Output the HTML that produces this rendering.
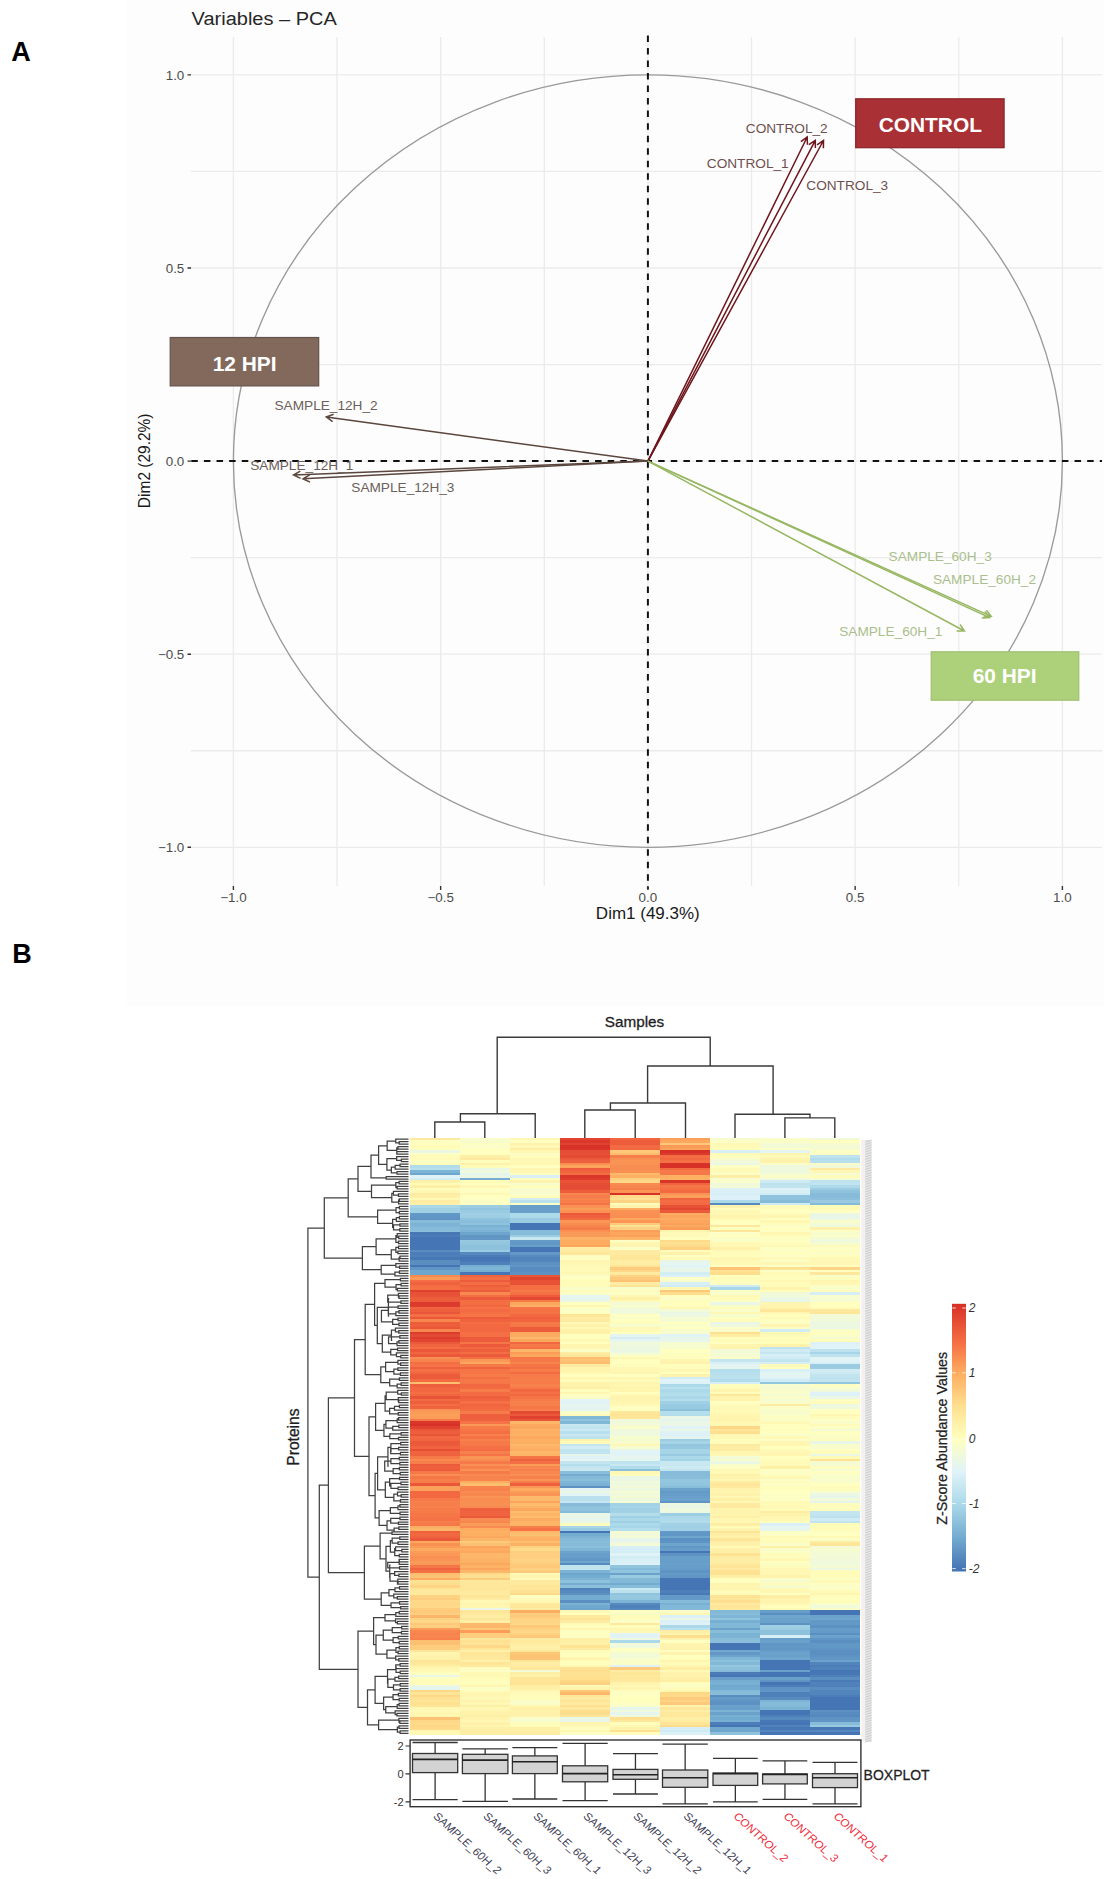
<!DOCTYPE html>
<html><head><meta charset="utf-8"><style>html,body{margin:0;padding:0;background:#fff;overflow:hidden;font-family:"Liberation Sans",sans-serif;}svg{display:block;}</style></head><body>
<svg width="1104" height="1879" viewBox="0 0 1104 1879" font-family="&quot;Liberation Sans&quot;, sans-serif">
<rect x="0" y="0" width="1104" height="1879" fill="#ffffff"/>
<rect x="127" y="0" width="977" height="1006" fill="#fdfdfd"/>
<text x="11.3" y="61.2" font-size="27" font-weight="bold" fill="#000">A</text>
<text x="12.3" y="962.6" font-size="27" font-weight="bold" fill="#000">B</text>
<path d="M233.4 37V886 M337.02 37V886 M440.65 37V886 M544.27 37V886 M647.9 37V886 M751.52 37V886 M855.15 37V886 M958.77 37V886 M1062.4 37V886 M191 847.3H1102 M191 750.75H1102 M191 654.2H1102 M191 557.65H1102 M191 461.1H1102 M191 364.55H1102 M191 268H1102 M191 171.45H1102 M191 74.9H1102" stroke="#ebebeb" stroke-width="1.3" fill="none"/>
<ellipse cx="647.9" cy="461.1" rx="414.5" ry="386.2" fill="none" stroke="#9a9a9a" stroke-width="1.35"/>
<path d="M186 461.1H1102" stroke="#111" stroke-width="2" stroke-dasharray="6.5 6.118" stroke-dashoffset="7.32" fill="none"/>
<path d="M647.9 35.5V889" stroke="#111" stroke-width="2" stroke-dasharray="6.5 6.02" fill="none"/>
<path d="M187.5 847.3H191 M233.4 886V890 M187.5 654.2H191 M440.65 886V890 M187.5 461.1H191 M647.9 886V890 M187.5 268H191 M855.15 886V890 M187.5 74.9H191 M1062.4 886V890" stroke="#333" stroke-width="1.4" fill="none"/>
<text transform="translate(184.3,79.5) scale(1,0.93)" font-size="13.4" fill="#4d4d4d" font-weight="normal" text-anchor="end" >1.0</text>
<text transform="translate(1062.4,902) scale(1,0.93)" font-size="13.4" fill="#4d4d4d" font-weight="normal" text-anchor="middle" >1.0</text>
<text transform="translate(184.3,272.6) scale(1,0.93)" font-size="13.4" fill="#4d4d4d" font-weight="normal" text-anchor="end" >0.5</text>
<text transform="translate(855.15,902) scale(1,0.93)" font-size="13.4" fill="#4d4d4d" font-weight="normal" text-anchor="middle" >0.5</text>
<text transform="translate(184.3,465.7) scale(1,0.93)" font-size="13.4" fill="#4d4d4d" font-weight="normal" text-anchor="end" >0.0</text>
<text transform="translate(647.9,902) scale(1,0.93)" font-size="13.4" fill="#4d4d4d" font-weight="normal" text-anchor="middle" >0.0</text>
<text transform="translate(184.3,658.8) scale(1,0.93)" font-size="13.4" fill="#4d4d4d" font-weight="normal" text-anchor="end" >−0.5</text>
<text transform="translate(440.65,902) scale(1,0.93)" font-size="13.4" fill="#4d4d4d" font-weight="normal" text-anchor="middle" >−0.5</text>
<text transform="translate(184.3,851.9) scale(1,0.93)" font-size="13.4" fill="#4d4d4d" font-weight="normal" text-anchor="end" >−1.0</text>
<text transform="translate(233.4,902) scale(1,0.93)" font-size="13.4" fill="#4d4d4d" font-weight="normal" text-anchor="middle" >−1.0</text>
<text transform="translate(191.6,24.6) scale(1,0.93)" font-size="20.0" fill="#262626" font-weight="normal" text-anchor="start" >Variables – PCA</text>
<text transform="translate(647.8,918.8) scale(1,0.93)" font-size="17.0" fill="#1a1a1a" font-weight="normal" text-anchor="middle" >Dim1 (49.3%)</text>
<text transform="translate(149.6,460.8) scale(1,0.93) rotate(-90)" font-size="16.66" fill="#1a1a1a" text-anchor="middle">Dim2 (29.2%)</text>
<path d="M647.9 461.1L807.2 137M800.88 141.57L807.2 137L807.45 144.8" stroke="#6e161c" stroke-width="1.5" fill="none" stroke-linejoin="miter"/>
<path d="M647.9 461.1L815.3 140.3M808.87 144.71L815.3 140.3L815.36 148.1" stroke="#6e161c" stroke-width="1.5" fill="none" stroke-linejoin="miter"/>
<path d="M647.9 461.1L823.5 140.5M816.98 144.78L823.5 140.5L823.4 148.3" stroke="#6e161c" stroke-width="1.5" fill="none" stroke-linejoin="miter"/>
<path d="M647.9 461.1L326.3 417M332.63 421.56L326.3 417L333.62 414.31" stroke="#5a463d" stroke-width="1.5" fill="none" stroke-linejoin="miter"/>
<path d="M647.9 461.1L293.5 475M300.53 478.39L293.5 475L300.24 471.07" stroke="#5a463d" stroke-width="1.5" fill="none" stroke-linejoin="miter"/>
<path d="M647.9 461.1L303 478.8M310.07 482.1L303 478.8L309.69 474.79" stroke="#5a463d" stroke-width="1.5" fill="none" stroke-linejoin="miter"/>
<path d="M647.9 461.1L991.2 616.4M986.43 610.23L991.2 616.4L983.42 616.9" stroke="#97b762" stroke-width="1.5" fill="none" stroke-linejoin="miter"/>
<path d="M647.9 461.1L989.6 617.6M984.86 611.4L989.6 617.6L981.81 618.06" stroke="#97b762" stroke-width="1.5" fill="none" stroke-linejoin="miter"/>
<path d="M647.9 461.1L964.4 631M960.06 624.52L964.4 631L956.6 630.97" stroke="#97b762" stroke-width="1.5" fill="none" stroke-linejoin="miter"/>
<text transform="translate(745.8,133.2) scale(1,0.93)" font-size="13.65" fill="#6e4f4f" font-weight="normal" text-anchor="start" >CONTROL_2</text>
<text transform="translate(706.8,168) scale(1,0.93)" font-size="13.65" fill="#6e4f4f" font-weight="normal" text-anchor="start" >CONTROL_1</text>
<text transform="translate(806.3,189.6) scale(1,0.93)" font-size="13.65" fill="#6e4f4f" font-weight="normal" text-anchor="start" >CONTROL_3</text>
<text transform="translate(274.5,410.2) scale(1,0.93)" font-size="13.65" fill="#6b605a" font-weight="normal" text-anchor="start" >SAMPLE_12H_2</text>
<text transform="translate(250.2,470.4) scale(1,0.93)" font-size="13.65" fill="#6b605a" font-weight="normal" text-anchor="start" >SAMPLE_12H_1</text>
<text transform="translate(351.3,492) scale(1,0.93)" font-size="13.65" fill="#6b605a" font-weight="normal" text-anchor="start" >SAMPLE_12H_3</text>
<text transform="translate(888.6,560.6) scale(1,0.93)" font-size="13.65" fill="#aabf8c" font-weight="normal" text-anchor="start" >SAMPLE_60H_3</text>
<text transform="translate(932.9,584) scale(1,0.93)" font-size="13.65" fill="#aabf8c" font-weight="normal" text-anchor="start" >SAMPLE_60H_2</text>
<text transform="translate(839.2,636.2) scale(1,0.93)" font-size="13.65" fill="#aabf8c" font-weight="normal" text-anchor="start" >SAMPLE_60H_1</text>
<rect x="855.7" y="98.8" width="148.4" height="48.9" fill="#a93035" stroke="#8a2226" stroke-width="1.2"/>
<text transform="translate(930.3,131.8) scale(1,0.93)" font-size="20.9" fill="#ffffff" font-weight="bold" text-anchor="middle" >CONTROL</text>
<rect x="170.2" y="337.5" width="148.5" height="48.4" fill="#82695c" stroke="#62544d" stroke-width="1.2"/>
<text transform="translate(244.6,370.7) scale(1,0.93)" font-size="20.9" fill="#ffffff" font-weight="bold" text-anchor="middle" >12 HPI</text>
<rect x="931.2" y="651.8" width="147.6" height="48.4" fill="#add07b" stroke="#a0c070" stroke-width="1.2"/>
<text transform="translate(1004.6,683.1) scale(1,0.93)" font-size="20.9" fill="#ffffff" font-weight="bold" text-anchor="middle" >60 HPI</text>
<g shape-rendering="crispEdges"><rect x="409.5" y="1138" width="50.33" height="2.79" fill="#feea9f"/><rect x="459.53" y="1138" width="50.33" height="2.79" fill="#fafdc9"/><rect x="509.57" y="1138" width="50.33" height="2.79" fill="#fff7b3"/><rect x="559.6" y="1138" width="50.33" height="2.79" fill="#e04330"/><rect x="609.63" y="1138" width="50.33" height="2.79" fill="#f16640"/><rect x="659.67" y="1138" width="50.33" height="2.79" fill="#fba05b"/><rect x="709.7" y="1138" width="50.33" height="2.79" fill="#f8fccc"/><rect x="759.73" y="1138" width="50.33" height="2.79" fill="#f9fdca"/><rect x="809.77" y="1138" width="50.33" height="2.79" fill="#f2fad7"/><rect x="409.5" y="1140.49" width="50.33" height="2.79" fill="#feffc1"/><rect x="459.53" y="1140.49" width="50.33" height="2.79" fill="#f8fccb"/><rect x="509.57" y="1140.49" width="50.33" height="2.79" fill="#ffffc0"/><rect x="559.6" y="1140.49" width="50.33" height="2.79" fill="#db382b"/><rect x="609.63" y="1140.49" width="50.33" height="2.79" fill="#ed5d3c"/><rect x="659.67" y="1140.49" width="50.33" height="2.79" fill="#fca85e"/><rect x="709.7" y="1140.49" width="50.33" height="2.79" fill="#fbfdc7"/><rect x="759.73" y="1140.49" width="50.33" height="2.79" fill="#fbfdc7"/><rect x="809.77" y="1140.49" width="50.33" height="2.79" fill="#ffffbe"/><rect x="409.5" y="1142.97" width="50.33" height="2.79" fill="#fffebe"/><rect x="459.53" y="1142.97" width="50.33" height="2.79" fill="#fdfec2"/><rect x="509.57" y="1142.97" width="50.33" height="2.79" fill="#fff2ac"/><rect x="559.6" y="1142.97" width="50.33" height="2.79" fill="#e04330"/><rect x="609.63" y="1142.97" width="50.33" height="2.79" fill="#ec5c3b"/><rect x="659.67" y="1142.97" width="50.33" height="2.79" fill="#fec779"/><rect x="709.7" y="1142.97" width="50.33" height="2.79" fill="#fff9b5"/><rect x="759.73" y="1142.97" width="50.33" height="2.79" fill="#f3fad5"/><rect x="809.77" y="1142.97" width="50.33" height="2.79" fill="#f6fbd0"/><rect x="409.5" y="1145.46" width="50.33" height="2.79" fill="#fffbb8"/><rect x="459.53" y="1145.46" width="50.33" height="2.79" fill="#fafdc8"/><rect x="509.57" y="1145.46" width="50.33" height="2.79" fill="#fff8b5"/><rect x="559.6" y="1145.46" width="50.33" height="2.79" fill="#d83228"/><rect x="609.63" y="1145.46" width="50.33" height="2.79" fill="#f36b42"/><rect x="659.67" y="1145.46" width="50.33" height="2.79" fill="#fa9a58"/><rect x="709.7" y="1145.46" width="50.33" height="2.79" fill="#fffab7"/><rect x="759.73" y="1145.46" width="50.33" height="2.79" fill="#f2fad6"/><rect x="809.77" y="1145.46" width="50.33" height="2.79" fill="#f4fbd2"/><rect x="409.5" y="1147.94" width="50.33" height="2.79" fill="#fffdbb"/><rect x="459.53" y="1147.94" width="50.33" height="2.79" fill="#fefec1"/><rect x="509.57" y="1147.94" width="50.33" height="2.79" fill="#feeda4"/><rect x="559.6" y="1147.94" width="50.33" height="2.79" fill="#d93429"/><rect x="609.63" y="1147.94" width="50.33" height="2.79" fill="#f26841"/><rect x="659.67" y="1147.94" width="50.33" height="2.79" fill="#fba25b"/><rect x="709.7" y="1147.94" width="50.33" height="2.79" fill="#fffbb9"/><rect x="759.73" y="1147.94" width="50.33" height="2.79" fill="#fcfec5"/><rect x="809.77" y="1147.94" width="50.33" height="2.79" fill="#f5fbd1"/><rect x="409.5" y="1150.43" width="50.33" height="2.79" fill="#eaf7e5"/><rect x="459.53" y="1150.43" width="50.33" height="2.79" fill="#ffffbf"/><rect x="509.57" y="1150.43" width="50.33" height="2.79" fill="#fff7b2"/><rect x="559.6" y="1150.43" width="50.33" height="2.79" fill="#e54e35"/><rect x="609.63" y="1150.43" width="50.33" height="2.79" fill="#fec779"/><rect x="659.67" y="1150.43" width="50.33" height="2.79" fill="#d73027"/><rect x="709.7" y="1150.43" width="50.33" height="2.79" fill="#d8eff6"/><rect x="759.73" y="1150.43" width="50.33" height="2.79" fill="#e3f4f2"/><rect x="809.77" y="1150.43" width="50.33" height="2.79" fill="#fdfec3"/><rect x="409.5" y="1152.91" width="50.33" height="2.79" fill="#fdfec4"/><rect x="459.53" y="1152.91" width="50.33" height="2.79" fill="#ffffc0"/><rect x="509.57" y="1152.91" width="50.33" height="2.79" fill="#fbfdc7"/><rect x="559.6" y="1152.91" width="50.33" height="2.79" fill="#e65036"/><rect x="609.63" y="1152.91" width="50.33" height="2.79" fill="#fdbc6e"/><rect x="659.67" y="1152.91" width="50.33" height="2.79" fill="#dc3a2c"/><rect x="709.7" y="1152.91" width="50.33" height="2.79" fill="#fffab7"/><rect x="759.73" y="1152.91" width="50.33" height="2.79" fill="#fff6b2"/><rect x="809.77" y="1152.91" width="50.33" height="2.79" fill="#fcfec5"/><rect x="409.5" y="1155.4" width="50.33" height="2.79" fill="#fffbb9"/><rect x="459.53" y="1155.4" width="50.33" height="2.79" fill="#feefa7"/><rect x="509.57" y="1155.4" width="50.33" height="2.79" fill="#fffdbc"/><rect x="559.6" y="1155.4" width="50.33" height="2.79" fill="#e44b33"/><rect x="609.63" y="1155.4" width="50.33" height="2.79" fill="#f67e4b"/><rect x="659.67" y="1155.4" width="50.33" height="2.79" fill="#f46e43"/><rect x="709.7" y="1155.4" width="50.33" height="2.79" fill="#fffdbc"/><rect x="759.73" y="1155.4" width="50.33" height="2.79" fill="#fffab7"/><rect x="809.77" y="1155.4" width="50.33" height="2.79" fill="#bee2ee"/><rect x="409.5" y="1157.88" width="50.33" height="2.79" fill="#fffab8"/><rect x="459.53" y="1157.88" width="50.33" height="2.79" fill="#fee99e"/><rect x="509.57" y="1157.88" width="50.33" height="2.79" fill="#fff7b4"/><rect x="559.6" y="1157.88" width="50.33" height="2.79" fill="#eb5b3b"/><rect x="609.63" y="1157.88" width="50.33" height="2.79" fill="#f99053"/><rect x="659.67" y="1157.88" width="50.33" height="2.79" fill="#f26841"/><rect x="709.7" y="1157.88" width="50.33" height="2.79" fill="#f8fccd"/><rect x="759.73" y="1157.88" width="50.33" height="2.79" fill="#fff4ae"/><rect x="809.77" y="1157.88" width="50.33" height="2.79" fill="#b0dceb"/><rect x="409.5" y="1160.37" width="50.33" height="2.79" fill="#fcfec4"/><rect x="459.53" y="1160.37" width="50.33" height="2.79" fill="#fffdbc"/><rect x="509.57" y="1160.37" width="50.33" height="2.79" fill="#fff8b5"/><rect x="559.6" y="1160.37" width="50.33" height="2.79" fill="#ee5f3d"/><rect x="609.63" y="1160.37" width="50.33" height="2.79" fill="#f99455"/><rect x="659.67" y="1160.37" width="50.33" height="2.79" fill="#f47045"/><rect x="709.7" y="1160.37" width="50.33" height="2.79" fill="#f1f9d9"/><rect x="759.73" y="1160.37" width="50.33" height="2.79" fill="#fff1a9"/><rect x="809.77" y="1160.37" width="50.33" height="2.79" fill="#b7dfed"/><rect x="409.5" y="1162.85" width="50.33" height="2.79" fill="#fffcba"/><rect x="459.53" y="1162.85" width="50.33" height="2.79" fill="#fff1a9"/><rect x="509.57" y="1162.85" width="50.33" height="2.79" fill="#fff8b4"/><rect x="559.6" y="1162.85" width="50.33" height="2.79" fill="#f99053"/><rect x="609.63" y="1162.85" width="50.33" height="2.79" fill="#f99355"/><rect x="659.67" y="1162.85" width="50.33" height="2.79" fill="#d83228"/><rect x="709.7" y="1162.85" width="50.33" height="2.79" fill="#e9f7e7"/><rect x="759.73" y="1162.85" width="50.33" height="2.79" fill="#fbfdc6"/><rect x="809.77" y="1162.85" width="50.33" height="2.79" fill="#f9fdca"/><rect x="409.5" y="1165.34" width="50.33" height="2.79" fill="#b1dceb"/><rect x="459.53" y="1165.34" width="50.33" height="2.79" fill="#fffbb9"/><rect x="509.57" y="1165.34" width="50.33" height="2.79" fill="#feffc1"/><rect x="559.6" y="1165.34" width="50.33" height="2.79" fill="#fca45c"/><rect x="609.63" y="1165.34" width="50.33" height="2.79" fill="#f88d52"/><rect x="659.67" y="1165.34" width="50.33" height="2.79" fill="#d73027"/><rect x="709.7" y="1165.34" width="50.33" height="2.79" fill="#feffc0"/><rect x="759.73" y="1165.34" width="50.33" height="2.79" fill="#eef8de"/><rect x="809.77" y="1165.34" width="50.33" height="2.79" fill="#f1f9d9"/><rect x="409.5" y="1167.83" width="50.33" height="2.79" fill="#b7dfec"/><rect x="459.53" y="1167.83" width="50.33" height="2.79" fill="#eaf7e5"/><rect x="509.57" y="1167.83" width="50.33" height="2.79" fill="#fff6b1"/><rect x="559.6" y="1167.83" width="50.33" height="2.79" fill="#ec5b3b"/><rect x="609.63" y="1167.83" width="50.33" height="2.79" fill="#f88c51"/><rect x="659.67" y="1167.83" width="50.33" height="2.79" fill="#f26a41"/><rect x="709.7" y="1167.83" width="50.33" height="2.79" fill="#fffab7"/><rect x="759.73" y="1167.83" width="50.33" height="2.79" fill="#eff9dd"/><rect x="809.77" y="1167.83" width="50.33" height="2.79" fill="#feeaa0"/><rect x="409.5" y="1170.31" width="50.33" height="2.79" fill="#7cb4d5"/><rect x="459.53" y="1170.31" width="50.33" height="2.79" fill="#eff9dd"/><rect x="509.57" y="1170.31" width="50.33" height="2.79" fill="#fff8b4"/><rect x="559.6" y="1170.31" width="50.33" height="2.79" fill="#f0643f"/><rect x="609.63" y="1170.31" width="50.33" height="2.79" fill="#f98f53"/><rect x="659.67" y="1170.31" width="50.33" height="2.79" fill="#f67949"/><rect x="709.7" y="1170.31" width="50.33" height="2.79" fill="#fffab8"/><rect x="759.73" y="1170.31" width="50.33" height="2.79" fill="#eff9dd"/><rect x="809.77" y="1170.31" width="50.33" height="2.79" fill="#fff7b3"/><rect x="409.5" y="1172.8" width="50.33" height="2.79" fill="#6ea6cd"/><rect x="459.53" y="1172.8" width="50.33" height="2.79" fill="#e4f5f0"/><rect x="509.57" y="1172.8" width="50.33" height="2.79" fill="#ffffbe"/><rect x="559.6" y="1172.8" width="50.33" height="2.79" fill="#f46e43"/><rect x="609.63" y="1172.8" width="50.33" height="2.79" fill="#fdb86a"/><rect x="659.67" y="1172.8" width="50.33" height="2.79" fill="#f67848"/><rect x="709.7" y="1172.8" width="50.33" height="2.79" fill="#fcfec5"/><rect x="759.73" y="1172.8" width="50.33" height="2.79" fill="#f3fad4"/><rect x="809.77" y="1172.8" width="50.33" height="2.79" fill="#f5fbd2"/><rect x="409.5" y="1175.28" width="50.33" height="2.79" fill="#def2f8"/><rect x="459.53" y="1175.28" width="50.33" height="2.79" fill="#ebf7e4"/><rect x="509.57" y="1175.28" width="50.33" height="2.79" fill="#d9f0f6"/><rect x="559.6" y="1175.28" width="50.33" height="2.79" fill="#da372a"/><rect x="609.63" y="1175.28" width="50.33" height="2.79" fill="#fdb063"/><rect x="659.67" y="1175.28" width="50.33" height="2.79" fill="#fdaf62"/><rect x="709.7" y="1175.28" width="50.33" height="2.79" fill="#feeda4"/><rect x="759.73" y="1175.28" width="50.33" height="2.79" fill="#fbfdc7"/><rect x="809.77" y="1175.28" width="50.33" height="2.79" fill="#fffbb9"/><rect x="409.5" y="1177.77" width="50.33" height="2.79" fill="#d4edf5"/><rect x="459.53" y="1177.77" width="50.33" height="2.79" fill="#75add1"/><rect x="509.57" y="1177.77" width="50.33" height="2.79" fill="#fcfec5"/><rect x="559.6" y="1177.77" width="50.33" height="2.79" fill="#dd3c2c"/><rect x="609.63" y="1177.77" width="50.33" height="2.79" fill="#fed182"/><rect x="659.67" y="1177.77" width="50.33" height="2.79" fill="#fdb264"/><rect x="709.7" y="1177.77" width="50.33" height="2.79" fill="#f7fcce"/><rect x="759.73" y="1177.77" width="50.33" height="2.79" fill="#f0f9da"/><rect x="809.77" y="1177.77" width="50.33" height="2.79" fill="#f5fbd2"/><rect x="409.5" y="1180.25" width="50.33" height="2.79" fill="#fff0a8"/><rect x="459.53" y="1180.25" width="50.33" height="2.79" fill="#fffcba"/><rect x="509.57" y="1180.25" width="50.33" height="2.79" fill="#fff3ac"/><rect x="559.6" y="1180.25" width="50.33" height="2.79" fill="#e85337"/><rect x="609.63" y="1180.25" width="50.33" height="2.79" fill="#fed889"/><rect x="659.67" y="1180.25" width="50.33" height="2.79" fill="#da3529"/><rect x="709.7" y="1180.25" width="50.33" height="2.79" fill="#f9fdca"/><rect x="759.73" y="1180.25" width="50.33" height="2.79" fill="#ceeaf3"/><rect x="809.77" y="1180.25" width="50.33" height="2.79" fill="#bee2ee"/><rect x="409.5" y="1182.74" width="50.33" height="2.79" fill="#fffab7"/><rect x="459.53" y="1182.74" width="50.33" height="2.79" fill="#fffebe"/><rect x="509.57" y="1182.74" width="50.33" height="2.79" fill="#f7fcce"/><rect x="559.6" y="1182.74" width="50.33" height="2.79" fill="#e54d34"/><rect x="609.63" y="1182.74" width="50.33" height="2.79" fill="#f88b51"/><rect x="659.67" y="1182.74" width="50.33" height="2.79" fill="#f0653f"/><rect x="709.7" y="1182.74" width="50.33" height="2.79" fill="#eff9dc"/><rect x="759.73" y="1182.74" width="50.33" height="2.79" fill="#bde2ee"/><rect x="809.77" y="1182.74" width="50.33" height="2.79" fill="#c1e4ef"/><rect x="409.5" y="1185.22" width="50.33" height="2.79" fill="#feefa7"/><rect x="459.53" y="1185.22" width="50.33" height="2.79" fill="#fff7b3"/><rect x="509.57" y="1185.22" width="50.33" height="2.79" fill="#fffebd"/><rect x="559.6" y="1185.22" width="50.33" height="2.79" fill="#e44b34"/><rect x="609.63" y="1185.22" width="50.33" height="2.79" fill="#f7854e"/><rect x="659.67" y="1185.22" width="50.33" height="2.79" fill="#f57647"/><rect x="709.7" y="1185.22" width="50.33" height="2.79" fill="#f2fad6"/><rect x="759.73" y="1185.22" width="50.33" height="2.79" fill="#c1e4ef"/><rect x="809.77" y="1185.22" width="50.33" height="2.79" fill="#addaea"/><rect x="409.5" y="1187.71" width="50.33" height="2.79" fill="#fffdbc"/><rect x="459.53" y="1187.71" width="50.33" height="2.79" fill="#feffc0"/><rect x="509.57" y="1187.71" width="50.33" height="2.79" fill="#f8fccc"/><rect x="559.6" y="1187.71" width="50.33" height="2.79" fill="#e64f35"/><rect x="609.63" y="1187.71" width="50.33" height="2.79" fill="#f67e4b"/><rect x="659.67" y="1187.71" width="50.33" height="2.79" fill="#f46f44"/><rect x="709.7" y="1187.71" width="50.33" height="2.79" fill="#dbf1f7"/><rect x="759.73" y="1187.71" width="50.33" height="2.79" fill="#ddf1f7"/><rect x="809.77" y="1187.71" width="50.33" height="2.79" fill="#9bcce2"/><rect x="409.5" y="1190.19" width="50.33" height="2.79" fill="#fff8b5"/><rect x="459.53" y="1190.19" width="50.33" height="2.79" fill="#fefec2"/><rect x="509.57" y="1190.19" width="50.33" height="2.79" fill="#f8fccc"/><rect x="559.6" y="1190.19" width="50.33" height="2.79" fill="#ed5d3c"/><rect x="609.63" y="1190.19" width="50.33" height="2.79" fill="#fa9556"/><rect x="659.67" y="1190.19" width="50.33" height="2.79" fill="#f26941"/><rect x="709.7" y="1190.19" width="50.33" height="2.79" fill="#daf0f6"/><rect x="759.73" y="1190.19" width="50.33" height="2.79" fill="#d9eff6"/><rect x="809.77" y="1190.19" width="50.33" height="2.79" fill="#8ec2dd"/><rect x="409.5" y="1192.68" width="50.33" height="2.79" fill="#feeba1"/><rect x="459.53" y="1192.68" width="50.33" height="2.79" fill="#fff8b4"/><rect x="509.57" y="1192.68" width="50.33" height="2.79" fill="#f6fbd0"/><rect x="559.6" y="1192.68" width="50.33" height="2.79" fill="#f8874f"/><rect x="609.63" y="1192.68" width="50.33" height="2.79" fill="#d73027"/><rect x="659.67" y="1192.68" width="50.33" height="2.79" fill="#f99355"/><rect x="709.7" y="1192.68" width="50.33" height="2.79" fill="#d6eef5"/><rect x="759.73" y="1192.68" width="50.33" height="2.79" fill="#d0ebf3"/><rect x="809.77" y="1192.68" width="50.33" height="2.79" fill="#86bcd9"/><rect x="409.5" y="1195.16" width="50.33" height="2.79" fill="#feefa7"/><rect x="459.53" y="1195.16" width="50.33" height="2.79" fill="#ffffbf"/><rect x="509.57" y="1195.16" width="50.33" height="2.79" fill="#fffebd"/><rect x="559.6" y="1195.16" width="50.33" height="2.79" fill="#f67d4b"/><rect x="609.63" y="1195.16" width="50.33" height="2.79" fill="#feda8a"/><rect x="659.67" y="1195.16" width="50.33" height="2.79" fill="#fb9f5a"/><rect x="709.7" y="1195.16" width="50.33" height="2.79" fill="#dbf1f7"/><rect x="759.73" y="1195.16" width="50.33" height="2.79" fill="#8fc2dd"/><rect x="809.77" y="1195.16" width="50.33" height="2.79" fill="#86bcd9"/><rect x="409.5" y="1197.65" width="50.33" height="2.79" fill="#fff9b6"/><rect x="459.53" y="1197.65" width="50.33" height="2.79" fill="#fdfec4"/><rect x="509.57" y="1197.65" width="50.33" height="2.79" fill="#d2ecf4"/><rect x="559.6" y="1197.65" width="50.33" height="2.79" fill="#f7834d"/><rect x="609.63" y="1197.65" width="50.33" height="2.79" fill="#fee090"/><rect x="659.67" y="1197.65" width="50.33" height="2.79" fill="#ef633f"/><rect x="709.7" y="1197.65" width="50.33" height="2.79" fill="#dcf1f7"/><rect x="759.73" y="1197.65" width="50.33" height="2.79" fill="#8dc1dc"/><rect x="809.77" y="1197.65" width="50.33" height="2.79" fill="#8bbfdb"/><rect x="409.5" y="1200.14" width="50.33" height="2.79" fill="#feeda3"/><rect x="459.53" y="1200.14" width="50.33" height="2.79" fill="#fcfec4"/><rect x="509.57" y="1200.14" width="50.33" height="2.79" fill="#bbe1ee"/><rect x="559.6" y="1200.14" width="50.33" height="2.79" fill="#f67e4b"/><rect x="609.63" y="1200.14" width="50.33" height="2.79" fill="#fed484"/><rect x="659.67" y="1200.14" width="50.33" height="2.79" fill="#f46c43"/><rect x="709.7" y="1200.14" width="50.33" height="2.79" fill="#acdae9"/><rect x="759.73" y="1200.14" width="50.33" height="2.79" fill="#87bcd9"/><rect x="809.77" y="1200.14" width="50.33" height="2.79" fill="#99cae1"/><rect x="409.5" y="1202.62" width="50.33" height="2.79" fill="#fff1aa"/><rect x="459.53" y="1202.62" width="50.33" height="2.79" fill="#fdfec2"/><rect x="509.57" y="1202.62" width="50.33" height="2.79" fill="#fbfdc6"/><rect x="559.6" y="1202.62" width="50.33" height="2.79" fill="#f57346"/><rect x="609.63" y="1202.62" width="50.33" height="2.79" fill="#fffdbc"/><rect x="659.67" y="1202.62" width="50.33" height="2.79" fill="#f36a42"/><rect x="709.7" y="1202.62" width="50.33" height="2.79" fill="#578bbf"/><rect x="759.73" y="1202.62" width="50.33" height="2.79" fill="#ceeaf3"/><rect x="809.77" y="1202.62" width="50.33" height="2.79" fill="#85bbd9"/><rect x="409.5" y="1205.11" width="50.33" height="2.79" fill="#aad8e8"/><rect x="459.53" y="1205.11" width="50.33" height="2.79" fill="#9bcce2"/><rect x="509.57" y="1205.11" width="50.33" height="2.79" fill="#689fca"/><rect x="559.6" y="1205.11" width="50.33" height="2.79" fill="#f99154"/><rect x="609.63" y="1205.11" width="50.33" height="2.79" fill="#fff3ad"/><rect x="659.67" y="1205.11" width="50.33" height="2.79" fill="#e75136"/><rect x="709.7" y="1205.11" width="50.33" height="2.79" fill="#fff3ad"/><rect x="759.73" y="1205.11" width="50.33" height="2.79" fill="#fffcbb"/><rect x="809.77" y="1205.11" width="50.33" height="2.79" fill="#fffcba"/><rect x="409.5" y="1207.59" width="50.33" height="2.79" fill="#9fd0e4"/><rect x="459.53" y="1207.59" width="50.33" height="2.79" fill="#92c5de"/><rect x="509.57" y="1207.59" width="50.33" height="2.79" fill="#689ec9"/><rect x="559.6" y="1207.59" width="50.33" height="2.79" fill="#fb9e5a"/><rect x="609.63" y="1207.59" width="50.33" height="2.79" fill="#fdab60"/><rect x="659.67" y="1207.59" width="50.33" height="2.79" fill="#e14631"/><rect x="709.7" y="1207.59" width="50.33" height="2.79" fill="#fffebe"/><rect x="759.73" y="1207.59" width="50.33" height="2.79" fill="#fffdbb"/><rect x="809.77" y="1207.59" width="50.33" height="2.79" fill="#fff9b6"/><rect x="409.5" y="1210.08" width="50.33" height="2.79" fill="#a0d0e4"/><rect x="459.53" y="1210.08" width="50.33" height="2.79" fill="#9acbe2"/><rect x="509.57" y="1210.08" width="50.33" height="2.79" fill="#69a0ca"/><rect x="559.6" y="1210.08" width="50.33" height="2.79" fill="#f99254"/><rect x="609.63" y="1210.08" width="50.33" height="2.79" fill="#f99355"/><rect x="659.67" y="1210.08" width="50.33" height="2.79" fill="#eb5a3a"/><rect x="709.7" y="1210.08" width="50.33" height="2.79" fill="#fff8b5"/><rect x="759.73" y="1210.08" width="50.33" height="2.79" fill="#feffc1"/><rect x="809.77" y="1210.08" width="50.33" height="2.79" fill="#feffc0"/><rect x="409.5" y="1212.56" width="50.33" height="2.79" fill="#6399c7"/><rect x="459.53" y="1212.56" width="50.33" height="2.79" fill="#9fcfe4"/><rect x="509.57" y="1212.56" width="50.33" height="2.79" fill="#aedbea"/><rect x="559.6" y="1212.56" width="50.33" height="2.79" fill="#eb593a"/><rect x="609.63" y="1212.56" width="50.33" height="2.79" fill="#f98f53"/><rect x="659.67" y="1212.56" width="50.33" height="2.79" fill="#fdad61"/><rect x="709.7" y="1212.56" width="50.33" height="2.79" fill="#fff8b4"/><rect x="759.73" y="1212.56" width="50.33" height="2.79" fill="#fffcbb"/><rect x="809.77" y="1212.56" width="50.33" height="2.79" fill="#ebf7e3"/><rect x="409.5" y="1215.05" width="50.33" height="2.79" fill="#6197c6"/><rect x="459.53" y="1215.05" width="50.33" height="2.79" fill="#9dcee3"/><rect x="509.57" y="1215.05" width="50.33" height="2.79" fill="#addaea"/><rect x="559.6" y="1215.05" width="50.33" height="2.79" fill="#ef613e"/><rect x="609.63" y="1215.05" width="50.33" height="2.79" fill="#f98e52"/><rect x="659.67" y="1215.05" width="50.33" height="2.79" fill="#fca55d"/><rect x="709.7" y="1215.05" width="50.33" height="2.79" fill="#fff4ae"/><rect x="759.73" y="1215.05" width="50.33" height="2.79" fill="#fff6b1"/><rect x="809.77" y="1215.05" width="50.33" height="2.79" fill="#e8f6ea"/><rect x="409.5" y="1217.53" width="50.33" height="2.79" fill="#5e93c4"/><rect x="459.53" y="1217.53" width="50.33" height="2.79" fill="#8fc2dd"/><rect x="509.57" y="1217.53" width="50.33" height="2.79" fill="#9acbe1"/><rect x="559.6" y="1217.53" width="50.33" height="2.79" fill="#f36b42"/><rect x="609.63" y="1217.53" width="50.33" height="2.79" fill="#fca85e"/><rect x="659.67" y="1217.53" width="50.33" height="2.79" fill="#fdad61"/><rect x="709.7" y="1217.53" width="50.33" height="2.79" fill="#fff7b2"/><rect x="759.73" y="1217.53" width="50.33" height="2.79" fill="#feffc1"/><rect x="809.77" y="1217.53" width="50.33" height="2.79" fill="#ecf8e3"/><rect x="409.5" y="1220.02" width="50.33" height="2.79" fill="#87bcd9"/><rect x="459.53" y="1220.02" width="50.33" height="2.79" fill="#8abfdb"/><rect x="509.57" y="1220.02" width="50.33" height="2.79" fill="#9bcce2"/><rect x="559.6" y="1220.02" width="50.33" height="2.79" fill="#fa9756"/><rect x="609.63" y="1220.02" width="50.33" height="2.79" fill="#fa9555"/><rect x="659.67" y="1220.02" width="50.33" height="2.79" fill="#fca65d"/><rect x="709.7" y="1220.02" width="50.33" height="2.79" fill="#ffffbe"/><rect x="759.73" y="1220.02" width="50.33" height="2.79" fill="#fff7b2"/><rect x="809.77" y="1220.02" width="50.33" height="2.79" fill="#f9fdca"/><rect x="409.5" y="1222.5" width="50.33" height="2.79" fill="#7bb3d4"/><rect x="459.53" y="1222.5" width="50.33" height="2.79" fill="#8fc2dd"/><rect x="509.57" y="1222.5" width="50.33" height="2.79" fill="#4575b4"/><rect x="559.6" y="1222.5" width="50.33" height="2.79" fill="#f88d52"/><rect x="609.63" y="1222.5" width="50.33" height="2.79" fill="#fecb7d"/><rect x="659.67" y="1222.5" width="50.33" height="2.79" fill="#fba15b"/><rect x="709.7" y="1222.5" width="50.33" height="2.79" fill="#fffebe"/><rect x="759.73" y="1222.5" width="50.33" height="2.79" fill="#fffdbc"/><rect x="809.77" y="1222.5" width="50.33" height="2.79" fill="#f2fad7"/><rect x="409.5" y="1224.99" width="50.33" height="2.79" fill="#7fb5d6"/><rect x="459.53" y="1224.99" width="50.33" height="2.79" fill="#7bb2d4"/><rect x="509.57" y="1224.99" width="50.33" height="2.79" fill="#4575b4"/><rect x="559.6" y="1224.99" width="50.33" height="2.79" fill="#f7854e"/><rect x="609.63" y="1224.99" width="50.33" height="2.79" fill="#fee293"/><rect x="659.67" y="1224.99" width="50.33" height="2.79" fill="#fcaa5f"/><rect x="709.7" y="1224.99" width="50.33" height="2.79" fill="#fee89d"/><rect x="759.73" y="1224.99" width="50.33" height="2.79" fill="#fbfdc7"/><rect x="809.77" y="1224.99" width="50.33" height="2.79" fill="#eff9dc"/><rect x="409.5" y="1227.47" width="50.33" height="2.79" fill="#86bbd9"/><rect x="459.53" y="1227.47" width="50.33" height="2.79" fill="#83b9d8"/><rect x="509.57" y="1227.47" width="50.33" height="2.79" fill="#4575b4"/><rect x="559.6" y="1227.47" width="50.33" height="2.79" fill="#f67d4a"/><rect x="609.63" y="1227.47" width="50.33" height="2.79" fill="#fed081"/><rect x="659.67" y="1227.47" width="50.33" height="2.79" fill="#fb9d59"/><rect x="709.7" y="1227.47" width="50.33" height="2.79" fill="#ffffbf"/><rect x="759.73" y="1227.47" width="50.33" height="2.79" fill="#feffc0"/><rect x="809.77" y="1227.47" width="50.33" height="2.79" fill="#fff1aa"/><rect x="409.5" y="1229.96" width="50.33" height="2.79" fill="#8abfdb"/><rect x="459.53" y="1229.96" width="50.33" height="2.79" fill="#7db4d5"/><rect x="509.57" y="1229.96" width="50.33" height="2.79" fill="#87bcd9"/><rect x="559.6" y="1229.96" width="50.33" height="2.79" fill="#f98f53"/><rect x="609.63" y="1229.96" width="50.33" height="2.79" fill="#fb9f5a"/><rect x="659.67" y="1229.96" width="50.33" height="2.79" fill="#fff5af"/><rect x="709.7" y="1229.96" width="50.33" height="2.79" fill="#fee597"/><rect x="759.73" y="1229.96" width="50.33" height="2.79" fill="#fdfec4"/><rect x="809.77" y="1229.96" width="50.33" height="2.79" fill="#fcfec5"/><rect x="409.5" y="1232.45" width="50.33" height="2.79" fill="#4777b5"/><rect x="459.53" y="1232.45" width="50.33" height="2.79" fill="#6da5cd"/><rect x="509.57" y="1232.45" width="50.33" height="2.79" fill="#86bbd9"/><rect x="559.6" y="1232.45" width="50.33" height="2.79" fill="#fa9a58"/><rect x="609.63" y="1232.45" width="50.33" height="2.79" fill="#fca65d"/><rect x="659.67" y="1232.45" width="50.33" height="2.79" fill="#fffab8"/><rect x="709.7" y="1232.45" width="50.33" height="2.79" fill="#fbfec6"/><rect x="759.73" y="1232.45" width="50.33" height="2.79" fill="#fff6b1"/><rect x="809.77" y="1232.45" width="50.33" height="2.79" fill="#f7fccd"/><rect x="409.5" y="1234.93" width="50.33" height="2.79" fill="#4c7db8"/><rect x="459.53" y="1234.93" width="50.33" height="2.79" fill="#6095c4"/><rect x="509.57" y="1234.93" width="50.33" height="2.79" fill="#9acce2"/><rect x="559.6" y="1234.93" width="50.33" height="2.79" fill="#fa9a58"/><rect x="609.63" y="1234.93" width="50.33" height="2.79" fill="#fba05b"/><rect x="659.67" y="1234.93" width="50.33" height="2.79" fill="#fffab7"/><rect x="709.7" y="1234.93" width="50.33" height="2.79" fill="#ffffbe"/><rect x="759.73" y="1234.93" width="50.33" height="2.79" fill="#fffbba"/><rect x="809.77" y="1234.93" width="50.33" height="2.79" fill="#fcfec5"/><rect x="409.5" y="1237.42" width="50.33" height="2.79" fill="#4575b4"/><rect x="459.53" y="1237.42" width="50.33" height="2.79" fill="#6196c5"/><rect x="509.57" y="1237.42" width="50.33" height="2.79" fill="#c8e7f1"/><rect x="559.6" y="1237.42" width="50.33" height="2.79" fill="#fdb265"/><rect x="609.63" y="1237.42" width="50.33" height="2.79" fill="#fdb568"/><rect x="659.67" y="1237.42" width="50.33" height="2.79" fill="#fffebe"/><rect x="709.7" y="1237.42" width="50.33" height="2.79" fill="#fbfdc6"/><rect x="759.73" y="1237.42" width="50.33" height="2.79" fill="#fdfec2"/><rect x="809.77" y="1237.42" width="50.33" height="2.79" fill="#f3fad6"/><rect x="409.5" y="1239.9" width="50.33" height="2.79" fill="#4575b4"/><rect x="459.53" y="1239.9" width="50.33" height="2.79" fill="#98c9e1"/><rect x="509.57" y="1239.9" width="50.33" height="2.79" fill="#649ac7"/><rect x="559.6" y="1239.9" width="50.33" height="2.79" fill="#fdab60"/><rect x="609.63" y="1239.9" width="50.33" height="2.79" fill="#fdfec3"/><rect x="659.67" y="1239.9" width="50.33" height="2.79" fill="#fedb8b"/><rect x="709.7" y="1239.9" width="50.33" height="2.79" fill="#fbfdc7"/><rect x="759.73" y="1239.9" width="50.33" height="2.79" fill="#feffc1"/><rect x="809.77" y="1239.9" width="50.33" height="2.79" fill="#eef8de"/><rect x="409.5" y="1242.39" width="50.33" height="2.79" fill="#4575b4"/><rect x="459.53" y="1242.39" width="50.33" height="2.79" fill="#92c5de"/><rect x="509.57" y="1242.39" width="50.33" height="2.79" fill="#6297c6"/><rect x="559.6" y="1242.39" width="50.33" height="2.79" fill="#fdac60"/><rect x="609.63" y="1242.39" width="50.33" height="2.79" fill="#fff6b1"/><rect x="659.67" y="1242.39" width="50.33" height="2.79" fill="#fee091"/><rect x="709.7" y="1242.39" width="50.33" height="2.79" fill="#fff8b4"/><rect x="759.73" y="1242.39" width="50.33" height="2.79" fill="#fffdbc"/><rect x="809.77" y="1242.39" width="50.33" height="2.79" fill="#f5fbd1"/><rect x="409.5" y="1244.87" width="50.33" height="2.79" fill="#4575b4"/><rect x="459.53" y="1244.87" width="50.33" height="2.79" fill="#8ec2dc"/><rect x="509.57" y="1244.87" width="50.33" height="2.79" fill="#69a0ca"/><rect x="559.6" y="1244.87" width="50.33" height="2.79" fill="#fca65d"/><rect x="609.63" y="1244.87" width="50.33" height="2.79" fill="#fff5b0"/><rect x="659.67" y="1244.87" width="50.33" height="2.79" fill="#fedb8b"/><rect x="709.7" y="1244.87" width="50.33" height="2.79" fill="#fff7b3"/><rect x="759.73" y="1244.87" width="50.33" height="2.79" fill="#fff9b6"/><rect x="809.77" y="1244.87" width="50.33" height="2.79" fill="#fffab8"/><rect x="409.5" y="1247.36" width="50.33" height="2.79" fill="#4575b4"/><rect x="459.53" y="1247.36" width="50.33" height="2.79" fill="#8dc1dc"/><rect x="509.57" y="1247.36" width="50.33" height="2.79" fill="#4575b4"/><rect x="559.6" y="1247.36" width="50.33" height="2.79" fill="#feeda4"/><rect x="609.63" y="1247.36" width="50.33" height="2.79" fill="#fbfec6"/><rect x="659.67" y="1247.36" width="50.33" height="2.79" fill="#fed182"/><rect x="709.7" y="1247.36" width="50.33" height="2.79" fill="#fff1aa"/><rect x="759.73" y="1247.36" width="50.33" height="2.79" fill="#fdfec3"/><rect x="809.77" y="1247.36" width="50.33" height="2.79" fill="#fcfec5"/><rect x="409.5" y="1249.84" width="50.33" height="2.79" fill="#598dc0"/><rect x="459.53" y="1249.84" width="50.33" height="2.79" fill="#9bcce2"/><rect x="509.57" y="1249.84" width="50.33" height="2.79" fill="#4575b4"/><rect x="559.6" y="1249.84" width="50.33" height="2.79" fill="#feeba0"/><rect x="609.63" y="1249.84" width="50.33" height="2.79" fill="#feeba1"/><rect x="659.67" y="1249.84" width="50.33" height="2.79" fill="#fffcbb"/><rect x="709.7" y="1249.84" width="50.33" height="2.79" fill="#fffab7"/><rect x="759.73" y="1249.84" width="50.33" height="2.79" fill="#fdfec3"/><rect x="809.77" y="1249.84" width="50.33" height="2.79" fill="#fffdbc"/><rect x="409.5" y="1252.33" width="50.33" height="2.79" fill="#4c7db8"/><rect x="459.53" y="1252.33" width="50.33" height="2.79" fill="#5689be"/><rect x="509.57" y="1252.33" width="50.33" height="2.79" fill="#6297c6"/><rect x="559.6" y="1252.33" width="50.33" height="2.79" fill="#fee79a"/><rect x="609.63" y="1252.33" width="50.33" height="2.79" fill="#feeba1"/><rect x="659.67" y="1252.33" width="50.33" height="2.79" fill="#fff2ac"/><rect x="709.7" y="1252.33" width="50.33" height="2.79" fill="#fffcbb"/><rect x="759.73" y="1252.33" width="50.33" height="2.79" fill="#fffebe"/><rect x="809.77" y="1252.33" width="50.33" height="2.79" fill="#fafdc8"/><rect x="409.5" y="1254.81" width="50.33" height="2.79" fill="#4e80ba"/><rect x="459.53" y="1254.81" width="50.33" height="2.79" fill="#4b7cb7"/><rect x="509.57" y="1254.81" width="50.33" height="2.79" fill="#578bbf"/><rect x="559.6" y="1254.81" width="50.33" height="2.79" fill="#fdfec2"/><rect x="609.63" y="1254.81" width="50.33" height="2.79" fill="#fee79b"/><rect x="659.67" y="1254.81" width="50.33" height="2.79" fill="#fdfec2"/><rect x="709.7" y="1254.81" width="50.33" height="2.79" fill="#fffdbc"/><rect x="759.73" y="1254.81" width="50.33" height="2.79" fill="#fcfec5"/><rect x="809.77" y="1254.81" width="50.33" height="2.79" fill="#fffebd"/><rect x="409.5" y="1257.3" width="50.33" height="2.79" fill="#4777b5"/><rect x="459.53" y="1257.3" width="50.33" height="2.79" fill="#4575b4"/><rect x="509.57" y="1257.3" width="50.33" height="2.79" fill="#5385bc"/><rect x="559.6" y="1257.3" width="50.33" height="2.79" fill="#feffc1"/><rect x="609.63" y="1257.3" width="50.33" height="2.79" fill="#fee699"/><rect x="659.67" y="1257.3" width="50.33" height="2.79" fill="#fff9b6"/><rect x="709.7" y="1257.3" width="50.33" height="2.79" fill="#fff6b1"/><rect x="759.73" y="1257.3" width="50.33" height="2.79" fill="#fffab7"/><rect x="809.77" y="1257.3" width="50.33" height="2.79" fill="#fff9b6"/><rect x="409.5" y="1259.79" width="50.33" height="2.79" fill="#5a8ec1"/><rect x="459.53" y="1259.79" width="50.33" height="2.79" fill="#4979b6"/><rect x="509.57" y="1259.79" width="50.33" height="2.79" fill="#5386bd"/><rect x="559.6" y="1259.79" width="50.33" height="2.79" fill="#fff5b0"/><rect x="609.63" y="1259.79" width="50.33" height="2.79" fill="#feeda3"/><rect x="659.67" y="1259.79" width="50.33" height="2.79" fill="#e8f6ea"/><rect x="709.7" y="1259.79" width="50.33" height="2.79" fill="#fff7b3"/><rect x="759.73" y="1259.79" width="50.33" height="2.79" fill="#fbfdc6"/><rect x="809.77" y="1259.79" width="50.33" height="2.79" fill="#fff7b3"/><rect x="409.5" y="1262.27" width="50.33" height="2.79" fill="#5a8ec1"/><rect x="459.53" y="1262.27" width="50.33" height="2.79" fill="#4e80ba"/><rect x="509.57" y="1262.27" width="50.33" height="2.79" fill="#5c91c2"/><rect x="559.6" y="1262.27" width="50.33" height="2.79" fill="#fff8b4"/><rect x="609.63" y="1262.27" width="50.33" height="2.79" fill="#feeda3"/><rect x="659.67" y="1262.27" width="50.33" height="2.79" fill="#e5f5ef"/><rect x="709.7" y="1262.27" width="50.33" height="2.79" fill="#fff9b6"/><rect x="759.73" y="1262.27" width="50.33" height="2.79" fill="#fff7b3"/><rect x="809.77" y="1262.27" width="50.33" height="2.79" fill="#fff8b4"/><rect x="409.5" y="1264.76" width="50.33" height="2.79" fill="#4575b4"/><rect x="459.53" y="1264.76" width="50.33" height="2.79" fill="#77b0d2"/><rect x="509.57" y="1264.76" width="50.33" height="2.79" fill="#6095c5"/><rect x="559.6" y="1264.76" width="50.33" height="2.79" fill="#fffab7"/><rect x="609.63" y="1264.76" width="50.33" height="2.79" fill="#fee597"/><rect x="659.67" y="1264.76" width="50.33" height="2.79" fill="#e0f3f7"/><rect x="709.7" y="1264.76" width="50.33" height="2.79" fill="#feffc1"/><rect x="759.73" y="1264.76" width="50.33" height="2.79" fill="#fcfec4"/><rect x="809.77" y="1264.76" width="50.33" height="2.79" fill="#fffebe"/><rect x="409.5" y="1267.24" width="50.33" height="2.79" fill="#6095c5"/><rect x="459.53" y="1267.24" width="50.33" height="2.79" fill="#7eb5d5"/><rect x="509.57" y="1267.24" width="50.33" height="2.79" fill="#588cc0"/><rect x="559.6" y="1267.24" width="50.33" height="2.79" fill="#fffab8"/><rect x="609.63" y="1267.24" width="50.33" height="2.79" fill="#feca7b"/><rect x="659.67" y="1267.24" width="50.33" height="2.79" fill="#e7f6eb"/><rect x="709.7" y="1267.24" width="50.33" height="2.79" fill="#fdc374"/><rect x="759.73" y="1267.24" width="50.33" height="2.79" fill="#fee293"/><rect x="809.77" y="1267.24" width="50.33" height="2.79" fill="#fed586"/><rect x="409.5" y="1269.73" width="50.33" height="2.79" fill="#6fa6ce"/><rect x="459.53" y="1269.73" width="50.33" height="2.79" fill="#75aed1"/><rect x="509.57" y="1269.73" width="50.33" height="2.79" fill="#588bc0"/><rect x="559.6" y="1269.73" width="50.33" height="2.79" fill="#fffab7"/><rect x="609.63" y="1269.73" width="50.33" height="2.79" fill="#fed788"/><rect x="659.67" y="1269.73" width="50.33" height="2.79" fill="#e8f6ea"/><rect x="709.7" y="1269.73" width="50.33" height="2.79" fill="#fee192"/><rect x="759.73" y="1269.73" width="50.33" height="2.79" fill="#fbfec6"/><rect x="809.77" y="1269.73" width="50.33" height="2.79" fill="#feffc0"/><rect x="409.5" y="1272.21" width="50.33" height="2.79" fill="#6ea6cd"/><rect x="459.53" y="1272.21" width="50.33" height="2.79" fill="#4575b4"/><rect x="509.57" y="1272.21" width="50.33" height="2.79" fill="#5c91c2"/><rect x="559.6" y="1272.21" width="50.33" height="2.79" fill="#fff8b5"/><rect x="609.63" y="1272.21" width="50.33" height="2.79" fill="#feeba0"/><rect x="659.67" y="1272.21" width="50.33" height="2.79" fill="#d3edf4"/><rect x="709.7" y="1272.21" width="50.33" height="2.79" fill="#fedd8d"/><rect x="759.73" y="1272.21" width="50.33" height="2.79" fill="#fffab7"/><rect x="809.77" y="1272.21" width="50.33" height="2.79" fill="#fee69a"/><rect x="409.5" y="1274.7" width="50.33" height="2.79" fill="#f88950"/><rect x="459.53" y="1274.7" width="50.33" height="2.79" fill="#ef633e"/><rect x="509.57" y="1274.7" width="50.33" height="2.79" fill="#e85538"/><rect x="559.6" y="1274.7" width="50.33" height="2.79" fill="#fafdc9"/><rect x="609.63" y="1274.7" width="50.33" height="2.79" fill="#fed384"/><rect x="659.67" y="1274.7" width="50.33" height="2.79" fill="#dcf1f7"/><rect x="709.7" y="1274.7" width="50.33" height="2.79" fill="#ffffbf"/><rect x="759.73" y="1274.7" width="50.33" height="2.79" fill="#fffbb9"/><rect x="809.77" y="1274.7" width="50.33" height="2.79" fill="#fafdc7"/><rect x="409.5" y="1277.18" width="50.33" height="2.79" fill="#fa9a58"/><rect x="459.53" y="1277.18" width="50.33" height="2.79" fill="#f46e43"/><rect x="509.57" y="1277.18" width="50.33" height="2.79" fill="#e04330"/><rect x="559.6" y="1277.18" width="50.33" height="2.79" fill="#ffffc0"/><rect x="609.63" y="1277.18" width="50.33" height="2.79" fill="#fec97a"/><rect x="659.67" y="1277.18" width="50.33" height="2.79" fill="#fcfec5"/><rect x="709.7" y="1277.18" width="50.33" height="2.79" fill="#fffcba"/><rect x="759.73" y="1277.18" width="50.33" height="2.79" fill="#fffdbc"/><rect x="809.77" y="1277.18" width="50.33" height="2.79" fill="#fffdbc"/><rect x="409.5" y="1279.67" width="50.33" height="2.79" fill="#f46c43"/><rect x="459.53" y="1279.67" width="50.33" height="2.79" fill="#ec5b3b"/><rect x="509.57" y="1279.67" width="50.33" height="2.79" fill="#e75136"/><rect x="559.6" y="1279.67" width="50.33" height="2.79" fill="#fffbb9"/><rect x="609.63" y="1279.67" width="50.33" height="2.79" fill="#fdc274"/><rect x="659.67" y="1279.67" width="50.33" height="2.79" fill="#f8fccd"/><rect x="709.7" y="1279.67" width="50.33" height="2.79" fill="#fffdbc"/><rect x="759.73" y="1279.67" width="50.33" height="2.79" fill="#fff8b4"/><rect x="809.77" y="1279.67" width="50.33" height="2.79" fill="#fff5b0"/><rect x="409.5" y="1282.15" width="50.33" height="2.79" fill="#ef623e"/><rect x="459.53" y="1282.15" width="50.33" height="2.79" fill="#f46e43"/><rect x="509.57" y="1282.15" width="50.33" height="2.79" fill="#e75136"/><rect x="559.6" y="1282.15" width="50.33" height="2.79" fill="#fffcba"/><rect x="609.63" y="1282.15" width="50.33" height="2.79" fill="#feeca2"/><rect x="659.67" y="1282.15" width="50.33" height="2.79" fill="#d8eff6"/><rect x="709.7" y="1282.15" width="50.33" height="2.79" fill="#fcfec4"/><rect x="759.73" y="1282.15" width="50.33" height="2.79" fill="#fffcba"/><rect x="809.77" y="1282.15" width="50.33" height="2.79" fill="#fff6b1"/><rect x="409.5" y="1284.64" width="50.33" height="2.79" fill="#f36c42"/><rect x="459.53" y="1284.64" width="50.33" height="2.79" fill="#ed5e3c"/><rect x="509.57" y="1284.64" width="50.33" height="2.79" fill="#f46d43"/><rect x="559.6" y="1284.64" width="50.33" height="2.79" fill="#fffcbb"/><rect x="609.63" y="1284.64" width="50.33" height="2.79" fill="#fee497"/><rect x="659.67" y="1284.64" width="50.33" height="2.79" fill="#cfebf3"/><rect x="709.7" y="1284.64" width="50.33" height="2.79" fill="#cfeaf3"/><rect x="759.73" y="1284.64" width="50.33" height="2.79" fill="#fffcbb"/><rect x="809.77" y="1284.64" width="50.33" height="2.79" fill="#fbfdc7"/><rect x="409.5" y="1287.12" width="50.33" height="2.79" fill="#f46f44"/><rect x="459.53" y="1287.12" width="50.33" height="2.79" fill="#f16740"/><rect x="509.57" y="1287.12" width="50.33" height="2.79" fill="#f46f44"/><rect x="559.6" y="1287.12" width="50.33" height="2.79" fill="#f9fdca"/><rect x="609.63" y="1287.12" width="50.33" height="2.79" fill="#f9fdc9"/><rect x="659.67" y="1287.12" width="50.33" height="2.79" fill="#fff6b1"/><rect x="709.7" y="1287.12" width="50.33" height="2.79" fill="#a8d7e8"/><rect x="759.73" y="1287.12" width="50.33" height="2.79" fill="#fff4af"/><rect x="809.77" y="1287.12" width="50.33" height="2.79" fill="#fafdc8"/><rect x="409.5" y="1289.61" width="50.33" height="2.79" fill="#df412f"/><rect x="459.53" y="1289.61" width="50.33" height="2.79" fill="#ec5d3c"/><rect x="509.57" y="1289.61" width="50.33" height="2.79" fill="#f67948"/><rect x="559.6" y="1289.61" width="50.33" height="2.79" fill="#fffcba"/><rect x="609.63" y="1289.61" width="50.33" height="2.79" fill="#fffcbb"/><rect x="659.67" y="1289.61" width="50.33" height="2.79" fill="#fec87a"/><rect x="709.7" y="1289.61" width="50.33" height="2.79" fill="#fcfec5"/><rect x="759.73" y="1289.61" width="50.33" height="2.79" fill="#fffbb9"/><rect x="809.77" y="1289.61" width="50.33" height="2.79" fill="#fffebd"/><rect x="409.5" y="1292.1" width="50.33" height="2.79" fill="#e75237"/><rect x="459.53" y="1292.1" width="50.33" height="2.79" fill="#f88950"/><rect x="509.57" y="1292.1" width="50.33" height="2.79" fill="#f57145"/><rect x="559.6" y="1292.1" width="50.33" height="2.79" fill="#fbfdc7"/><rect x="609.63" y="1292.1" width="50.33" height="2.79" fill="#fbfec6"/><rect x="659.67" y="1292.1" width="50.33" height="2.79" fill="#fedd8d"/><rect x="709.7" y="1292.1" width="50.33" height="2.79" fill="#f9fdca"/><rect x="759.73" y="1292.1" width="50.33" height="2.79" fill="#f0f9da"/><rect x="809.77" y="1292.1" width="50.33" height="2.79" fill="#d6eef5"/><rect x="409.5" y="1294.58" width="50.33" height="2.79" fill="#e85438"/><rect x="459.53" y="1294.58" width="50.33" height="2.79" fill="#f46e44"/><rect x="509.57" y="1294.58" width="50.33" height="2.79" fill="#ec5b3b"/><rect x="559.6" y="1294.58" width="50.33" height="2.79" fill="#e5f5f0"/><rect x="609.63" y="1294.58" width="50.33" height="2.79" fill="#fff8b4"/><rect x="659.67" y="1294.58" width="50.33" height="2.79" fill="#fffebe"/><rect x="709.7" y="1294.58" width="50.33" height="2.79" fill="#fff8b5"/><rect x="759.73" y="1294.58" width="50.33" height="2.79" fill="#f1fad9"/><rect x="809.77" y="1294.58" width="50.33" height="2.79" fill="#f7fcce"/><rect x="409.5" y="1297.07" width="50.33" height="2.79" fill="#ec5d3c"/><rect x="459.53" y="1297.07" width="50.33" height="2.79" fill="#eb5b3b"/><rect x="509.57" y="1297.07" width="50.33" height="2.79" fill="#e24832"/><rect x="559.6" y="1297.07" width="50.33" height="2.79" fill="#e5f5ef"/><rect x="609.63" y="1297.07" width="50.33" height="2.79" fill="#fff0a8"/><rect x="659.67" y="1297.07" width="50.33" height="2.79" fill="#fbfdc6"/><rect x="709.7" y="1297.07" width="50.33" height="2.79" fill="#fffcba"/><rect x="759.73" y="1297.07" width="50.33" height="2.79" fill="#eaf7e5"/><rect x="809.77" y="1297.07" width="50.33" height="2.79" fill="#f6fbd0"/><rect x="409.5" y="1299.55" width="50.33" height="2.79" fill="#ec5d3b"/><rect x="459.53" y="1299.55" width="50.33" height="2.79" fill="#f46d43"/><rect x="509.57" y="1299.55" width="50.33" height="2.79" fill="#f67b49"/><rect x="559.6" y="1299.55" width="50.33" height="2.79" fill="#ebf7e4"/><rect x="609.63" y="1299.55" width="50.33" height="2.79" fill="#fff9b6"/><rect x="659.67" y="1299.55" width="50.33" height="2.79" fill="#fffdbb"/><rect x="709.7" y="1299.55" width="50.33" height="2.79" fill="#fcfec4"/><rect x="759.73" y="1299.55" width="50.33" height="2.79" fill="#e8f6e9"/><rect x="809.77" y="1299.55" width="50.33" height="2.79" fill="#f6fbd0"/><rect x="409.5" y="1302.04" width="50.33" height="2.79" fill="#dc3a2c"/><rect x="459.53" y="1302.04" width="50.33" height="2.79" fill="#f46e43"/><rect x="509.57" y="1302.04" width="50.33" height="2.79" fill="#fca75e"/><rect x="559.6" y="1302.04" width="50.33" height="2.79" fill="#ffffbf"/><rect x="609.63" y="1302.04" width="50.33" height="2.79" fill="#f3fad5"/><rect x="659.67" y="1302.04" width="50.33" height="2.79" fill="#fffebd"/><rect x="709.7" y="1302.04" width="50.33" height="2.79" fill="#eaf7e6"/><rect x="759.73" y="1302.04" width="50.33" height="2.79" fill="#fff5b0"/><rect x="809.77" y="1302.04" width="50.33" height="2.79" fill="#fffebd"/><rect x="409.5" y="1304.52" width="50.33" height="2.79" fill="#dd3d2d"/><rect x="459.53" y="1304.52" width="50.33" height="2.79" fill="#f16740"/><rect x="509.57" y="1304.52" width="50.33" height="2.79" fill="#fdb365"/><rect x="559.6" y="1304.52" width="50.33" height="2.79" fill="#fff6b2"/><rect x="609.63" y="1304.52" width="50.33" height="2.79" fill="#f9fdc9"/><rect x="659.67" y="1304.52" width="50.33" height="2.79" fill="#fffdbc"/><rect x="709.7" y="1304.52" width="50.33" height="2.79" fill="#f9fdc9"/><rect x="759.73" y="1304.52" width="50.33" height="2.79" fill="#fff5b0"/><rect x="809.77" y="1304.52" width="50.33" height="2.79" fill="#ffffc0"/><rect x="409.5" y="1307.01" width="50.33" height="2.79" fill="#f06540"/><rect x="459.53" y="1307.01" width="50.33" height="2.79" fill="#f57346"/><rect x="509.57" y="1307.01" width="50.33" height="2.79" fill="#f57547"/><rect x="559.6" y="1307.01" width="50.33" height="2.79" fill="#feffc1"/><rect x="609.63" y="1307.01" width="50.33" height="2.79" fill="#f3fad5"/><rect x="659.67" y="1307.01" width="50.33" height="2.79" fill="#fff7b2"/><rect x="709.7" y="1307.01" width="50.33" height="2.79" fill="#fffcba"/><rect x="759.73" y="1307.01" width="50.33" height="2.79" fill="#fff2ab"/><rect x="809.77" y="1307.01" width="50.33" height="2.79" fill="#fffbb8"/><rect x="409.5" y="1309.49" width="50.33" height="2.79" fill="#ee603d"/><rect x="459.53" y="1309.49" width="50.33" height="2.79" fill="#f36b42"/><rect x="509.57" y="1309.49" width="50.33" height="2.79" fill="#f57245"/><rect x="559.6" y="1309.49" width="50.33" height="2.79" fill="#fbfec6"/><rect x="609.63" y="1309.49" width="50.33" height="2.79" fill="#eff9dd"/><rect x="659.67" y="1309.49" width="50.33" height="2.79" fill="#f2fad7"/><rect x="709.7" y="1309.49" width="50.33" height="2.79" fill="#f9fdca"/><rect x="759.73" y="1309.49" width="50.33" height="2.79" fill="#fee79b"/><rect x="809.77" y="1309.49" width="50.33" height="2.79" fill="#fee89d"/><rect x="409.5" y="1311.98" width="50.33" height="2.79" fill="#e95639"/><rect x="459.53" y="1311.98" width="50.33" height="2.79" fill="#f46f44"/><rect x="509.57" y="1311.98" width="50.33" height="2.79" fill="#f57446"/><rect x="559.6" y="1311.98" width="50.33" height="2.79" fill="#feffc1"/><rect x="609.63" y="1311.98" width="50.33" height="2.79" fill="#f0f9da"/><rect x="659.67" y="1311.98" width="50.33" height="2.79" fill="#eaf7e5"/><rect x="709.7" y="1311.98" width="50.33" height="2.79" fill="#fff8b5"/><rect x="759.73" y="1311.98" width="50.33" height="2.79" fill="#fff7b3"/><rect x="809.77" y="1311.98" width="50.33" height="2.79" fill="#fee597"/><rect x="409.5" y="1314.46" width="50.33" height="2.79" fill="#f46f44"/><rect x="459.53" y="1314.46" width="50.33" height="2.79" fill="#f57547"/><rect x="509.57" y="1314.46" width="50.33" height="2.79" fill="#f16740"/><rect x="559.6" y="1314.46" width="50.33" height="2.79" fill="#fee597"/><rect x="609.63" y="1314.46" width="50.33" height="2.79" fill="#feffc0"/><rect x="659.67" y="1314.46" width="50.33" height="2.79" fill="#ecf8e1"/><rect x="709.7" y="1314.46" width="50.33" height="2.79" fill="#f7fccd"/><rect x="759.73" y="1314.46" width="50.33" height="2.79" fill="#fffebd"/><rect x="809.77" y="1314.46" width="50.33" height="2.79" fill="#f2fad8"/><rect x="409.5" y="1316.95" width="50.33" height="2.79" fill="#ea5739"/><rect x="459.53" y="1316.95" width="50.33" height="2.79" fill="#ec5c3b"/><rect x="509.57" y="1316.95" width="50.33" height="2.79" fill="#ed5f3d"/><rect x="559.6" y="1316.95" width="50.33" height="2.79" fill="#feeea5"/><rect x="609.63" y="1316.95" width="50.33" height="2.79" fill="#f9fdca"/><rect x="659.67" y="1316.95" width="50.33" height="2.79" fill="#f7fcce"/><rect x="709.7" y="1316.95" width="50.33" height="2.79" fill="#ffffbf"/><rect x="759.73" y="1316.95" width="50.33" height="2.79" fill="#fffab7"/><rect x="809.77" y="1316.95" width="50.33" height="2.79" fill="#f2fad7"/><rect x="409.5" y="1319.44" width="50.33" height="2.79" fill="#f7854e"/><rect x="459.53" y="1319.44" width="50.33" height="2.79" fill="#ef633e"/><rect x="509.57" y="1319.44" width="50.33" height="2.79" fill="#f0653f"/><rect x="559.6" y="1319.44" width="50.33" height="2.79" fill="#feeba1"/><rect x="609.63" y="1319.44" width="50.33" height="2.79" fill="#fffebe"/><rect x="659.67" y="1319.44" width="50.33" height="2.79" fill="#f5fbd2"/><rect x="709.7" y="1319.44" width="50.33" height="2.79" fill="#fffbb9"/><rect x="759.73" y="1319.44" width="50.33" height="2.79" fill="#feffc1"/><rect x="809.77" y="1319.44" width="50.33" height="2.79" fill="#f1fad8"/><rect x="409.5" y="1321.92" width="50.33" height="2.79" fill="#ec5d3b"/><rect x="459.53" y="1321.92" width="50.33" height="2.79" fill="#f46d43"/><rect x="509.57" y="1321.92" width="50.33" height="2.79" fill="#f67948"/><rect x="559.6" y="1321.92" width="50.33" height="2.79" fill="#fff7b3"/><rect x="609.63" y="1321.92" width="50.33" height="2.79" fill="#fffdbc"/><rect x="659.67" y="1321.92" width="50.33" height="2.79" fill="#ffffbf"/><rect x="709.7" y="1321.92" width="50.33" height="2.79" fill="#e9f6e8"/><rect x="759.73" y="1321.92" width="50.33" height="2.79" fill="#fbfec6"/><rect x="809.77" y="1321.92" width="50.33" height="2.79" fill="#ecf7e3"/><rect x="409.5" y="1324.41" width="50.33" height="2.79" fill="#ed5e3c"/><rect x="459.53" y="1324.41" width="50.33" height="2.79" fill="#f36a42"/><rect x="509.57" y="1324.41" width="50.33" height="2.79" fill="#f57647"/><rect x="559.6" y="1324.41" width="50.33" height="2.79" fill="#fff2ab"/><rect x="609.63" y="1324.41" width="50.33" height="2.79" fill="#f7fccd"/><rect x="659.67" y="1324.41" width="50.33" height="2.79" fill="#f9fdca"/><rect x="709.7" y="1324.41" width="50.33" height="2.79" fill="#eef8de"/><rect x="759.73" y="1324.41" width="50.33" height="2.79" fill="#fff5b1"/><rect x="809.77" y="1324.41" width="50.33" height="2.79" fill="#edf8e0"/><rect x="409.5" y="1326.89" width="50.33" height="2.79" fill="#e95638"/><rect x="459.53" y="1326.89" width="50.33" height="2.79" fill="#f16841"/><rect x="509.57" y="1326.89" width="50.33" height="2.79" fill="#ec5c3b"/><rect x="559.6" y="1326.89" width="50.33" height="2.79" fill="#fff7b3"/><rect x="609.63" y="1326.89" width="50.33" height="2.79" fill="#fff8b5"/><rect x="659.67" y="1326.89" width="50.33" height="2.79" fill="#ffffbf"/><rect x="709.7" y="1326.89" width="50.33" height="2.79" fill="#fcfec5"/><rect x="759.73" y="1326.89" width="50.33" height="2.79" fill="#fbfdc7"/><rect x="809.77" y="1326.89" width="50.33" height="2.79" fill="#ebf7e4"/><rect x="409.5" y="1329.38" width="50.33" height="2.79" fill="#f8874f"/><rect x="459.53" y="1329.38" width="50.33" height="2.79" fill="#f26941"/><rect x="509.57" y="1329.38" width="50.33" height="2.79" fill="#ec5c3b"/><rect x="559.6" y="1329.38" width="50.33" height="2.79" fill="#fff1aa"/><rect x="609.63" y="1329.38" width="50.33" height="2.79" fill="#fff9b6"/><rect x="659.67" y="1329.38" width="50.33" height="2.79" fill="#f8fccc"/><rect x="709.7" y="1329.38" width="50.33" height="2.79" fill="#f8fccc"/><rect x="759.73" y="1329.38" width="50.33" height="2.79" fill="#d2ecf4"/><rect x="809.77" y="1329.38" width="50.33" height="2.79" fill="#fbfdc7"/><rect x="409.5" y="1331.86" width="50.33" height="2.79" fill="#dd3d2d"/><rect x="459.53" y="1331.86" width="50.33" height="2.79" fill="#f47044"/><rect x="509.57" y="1331.86" width="50.33" height="2.79" fill="#fcaa5f"/><rect x="559.6" y="1331.86" width="50.33" height="2.79" fill="#fff0a8"/><rect x="609.63" y="1331.86" width="50.33" height="2.79" fill="#ffffbf"/><rect x="659.67" y="1331.86" width="50.33" height="2.79" fill="#f7fccd"/><rect x="709.7" y="1331.86" width="50.33" height="2.79" fill="#fee091"/><rect x="759.73" y="1331.86" width="50.33" height="2.79" fill="#fff9b6"/><rect x="809.77" y="1331.86" width="50.33" height="2.79" fill="#fffdbd"/><rect x="409.5" y="1334.35" width="50.33" height="2.79" fill="#e34a33"/><rect x="459.53" y="1334.35" width="50.33" height="2.79" fill="#f46f44"/><rect x="509.57" y="1334.35" width="50.33" height="2.79" fill="#fdab60"/><rect x="559.6" y="1334.35" width="50.33" height="2.79" fill="#ffffc0"/><rect x="609.63" y="1334.35" width="50.33" height="2.79" fill="#e4f5f0"/><rect x="659.67" y="1334.35" width="50.33" height="2.79" fill="#e1f3f6"/><rect x="709.7" y="1334.35" width="50.33" height="2.79" fill="#feeca2"/><rect x="759.73" y="1334.35" width="50.33" height="2.79" fill="#fffab8"/><rect x="809.77" y="1334.35" width="50.33" height="2.79" fill="#fbfdc7"/><rect x="409.5" y="1336.83" width="50.33" height="2.79" fill="#dd3d2d"/><rect x="459.53" y="1336.83" width="50.33" height="2.79" fill="#eb5a3a"/><rect x="509.57" y="1336.83" width="50.33" height="2.79" fill="#fdba6d"/><rect x="559.6" y="1336.83" width="50.33" height="2.79" fill="#fffebd"/><rect x="609.63" y="1336.83" width="50.33" height="2.79" fill="#d4edf5"/><rect x="659.67" y="1336.83" width="50.33" height="2.79" fill="#e8f6e9"/><rect x="709.7" y="1336.83" width="50.33" height="2.79" fill="#ffffbe"/><rect x="759.73" y="1336.83" width="50.33" height="2.79" fill="#fffdbc"/><rect x="809.77" y="1336.83" width="50.33" height="2.79" fill="#f5fbd1"/><rect x="409.5" y="1339.32" width="50.33" height="2.79" fill="#e14531"/><rect x="459.53" y="1339.32" width="50.33" height="2.79" fill="#ec5b3b"/><rect x="509.57" y="1339.32" width="50.33" height="2.79" fill="#fca75e"/><rect x="559.6" y="1339.32" width="50.33" height="2.79" fill="#fff9b6"/><rect x="609.63" y="1339.32" width="50.33" height="2.79" fill="#e5f5ef"/><rect x="659.67" y="1339.32" width="50.33" height="2.79" fill="#e7f6ea"/><rect x="709.7" y="1339.32" width="50.33" height="2.79" fill="#fffcba"/><rect x="759.73" y="1339.32" width="50.33" height="2.79" fill="#fffbb9"/><rect x="809.77" y="1339.32" width="50.33" height="2.79" fill="#fffcba"/><rect x="409.5" y="1341.8" width="50.33" height="2.79" fill="#eb5a3a"/><rect x="459.53" y="1341.8" width="50.33" height="2.79" fill="#f57547"/><rect x="509.57" y="1341.8" width="50.33" height="2.79" fill="#f26841"/><rect x="559.6" y="1341.8" width="50.33" height="2.79" fill="#fffebe"/><rect x="609.63" y="1341.8" width="50.33" height="2.79" fill="#f0f9da"/><rect x="659.67" y="1341.8" width="50.33" height="2.79" fill="#f6fccf"/><rect x="709.7" y="1341.8" width="50.33" height="2.79" fill="#fffebe"/><rect x="759.73" y="1341.8" width="50.33" height="2.79" fill="#fffebd"/><rect x="809.77" y="1341.8" width="50.33" height="2.79" fill="#dcf1f7"/><rect x="409.5" y="1344.29" width="50.33" height="2.79" fill="#f0653f"/><rect x="459.53" y="1344.29" width="50.33" height="2.79" fill="#eb5a3a"/><rect x="509.57" y="1344.29" width="50.33" height="2.79" fill="#f67948"/><rect x="559.6" y="1344.29" width="50.33" height="2.79" fill="#fff5b0"/><rect x="609.63" y="1344.29" width="50.33" height="2.79" fill="#eef8df"/><rect x="659.67" y="1344.29" width="50.33" height="2.79" fill="#f7fcce"/><rect x="709.7" y="1344.29" width="50.33" height="2.79" fill="#fff5af"/><rect x="759.73" y="1344.29" width="50.33" height="2.79" fill="#fff2ab"/><rect x="809.77" y="1344.29" width="50.33" height="2.79" fill="#e0f3f8"/><rect x="409.5" y="1346.78" width="50.33" height="2.79" fill="#f46e43"/><rect x="459.53" y="1346.78" width="50.33" height="2.79" fill="#f16841"/><rect x="509.57" y="1346.78" width="50.33" height="2.79" fill="#f57145"/><rect x="559.6" y="1346.78" width="50.33" height="2.79" fill="#fff6b1"/><rect x="609.63" y="1346.78" width="50.33" height="2.79" fill="#edf8df"/><rect x="659.67" y="1346.78" width="50.33" height="2.79" fill="#f7fcce"/><rect x="709.7" y="1346.78" width="50.33" height="2.79" fill="#fff3ad"/><rect x="759.73" y="1346.78" width="50.33" height="2.79" fill="#bee2ee"/><rect x="809.77" y="1346.78" width="50.33" height="2.79" fill="#dff3f8"/><rect x="409.5" y="1349.26" width="50.33" height="2.79" fill="#ea5839"/><rect x="459.53" y="1349.26" width="50.33" height="2.79" fill="#ed5f3d"/><rect x="509.57" y="1349.26" width="50.33" height="2.79" fill="#fdb769"/><rect x="559.6" y="1349.26" width="50.33" height="2.79" fill="#fbfdc7"/><rect x="609.63" y="1349.26" width="50.33" height="2.79" fill="#ebf7e3"/><rect x="659.67" y="1349.26" width="50.33" height="2.79" fill="#ffffbf"/><rect x="709.7" y="1349.26" width="50.33" height="2.79" fill="#f2fad7"/><rect x="759.73" y="1349.26" width="50.33" height="2.79" fill="#d1ebf4"/><rect x="809.77" y="1349.26" width="50.33" height="2.79" fill="#bde2ee"/><rect x="409.5" y="1351.75" width="50.33" height="2.79" fill="#f06640"/><rect x="459.53" y="1351.75" width="50.33" height="2.79" fill="#f46e43"/><rect x="509.57" y="1351.75" width="50.33" height="2.79" fill="#fb9d59"/><rect x="559.6" y="1351.75" width="50.33" height="2.79" fill="#feeca2"/><rect x="609.63" y="1351.75" width="50.33" height="2.79" fill="#eef9dd"/><rect x="659.67" y="1351.75" width="50.33" height="2.79" fill="#fcfec4"/><rect x="709.7" y="1351.75" width="50.33" height="2.79" fill="#f3fad6"/><rect x="759.73" y="1351.75" width="50.33" height="2.79" fill="#c5e6f0"/><rect x="809.77" y="1351.75" width="50.33" height="2.79" fill="#a6d5e7"/><rect x="409.5" y="1354.23" width="50.33" height="2.79" fill="#eb593a"/><rect x="459.53" y="1354.23" width="50.33" height="2.79" fill="#eb5b3b"/><rect x="509.57" y="1354.23" width="50.33" height="2.79" fill="#fca75e"/><rect x="559.6" y="1354.23" width="50.33" height="2.79" fill="#fee79a"/><rect x="609.63" y="1354.23" width="50.33" height="2.79" fill="#fbfdc7"/><rect x="659.67" y="1354.23" width="50.33" height="2.79" fill="#fffdbc"/><rect x="709.7" y="1354.23" width="50.33" height="2.79" fill="#f5fbd1"/><rect x="759.73" y="1354.23" width="50.33" height="2.79" fill="#d6eef5"/><rect x="809.77" y="1354.23" width="50.33" height="2.79" fill="#bee3ef"/><rect x="409.5" y="1356.72" width="50.33" height="2.79" fill="#f99053"/><rect x="459.53" y="1356.72" width="50.33" height="2.79" fill="#f46e44"/><rect x="509.57" y="1356.72" width="50.33" height="2.79" fill="#f57748"/><rect x="559.6" y="1356.72" width="50.33" height="2.79" fill="#fdbd6f"/><rect x="609.63" y="1356.72" width="50.33" height="2.79" fill="#fff6b1"/><rect x="659.67" y="1356.72" width="50.33" height="2.79" fill="#fffebe"/><rect x="709.7" y="1356.72" width="50.33" height="2.79" fill="#fafdc8"/><rect x="759.73" y="1356.72" width="50.33" height="2.79" fill="#d0ebf4"/><rect x="809.77" y="1356.72" width="50.33" height="2.79" fill="#e2f4f4"/><rect x="409.5" y="1359.2" width="50.33" height="2.79" fill="#f7844d"/><rect x="459.53" y="1359.2" width="50.33" height="2.79" fill="#fa9857"/><rect x="509.57" y="1359.2" width="50.33" height="2.79" fill="#f67a49"/><rect x="559.6" y="1359.2" width="50.33" height="2.79" fill="#fdc273"/><rect x="609.63" y="1359.2" width="50.33" height="2.79" fill="#fffebe"/><rect x="659.67" y="1359.2" width="50.33" height="2.79" fill="#fff5b0"/><rect x="709.7" y="1359.2" width="50.33" height="2.79" fill="#c5e6f0"/><rect x="759.73" y="1359.2" width="50.33" height="2.79" fill="#c3e5f0"/><rect x="809.77" y="1359.2" width="50.33" height="2.79" fill="#e1f3f6"/><rect x="409.5" y="1361.69" width="50.33" height="2.79" fill="#f46e44"/><rect x="459.53" y="1361.69" width="50.33" height="2.79" fill="#fca95f"/><rect x="509.57" y="1361.69" width="50.33" height="2.79" fill="#f7834d"/><rect x="559.6" y="1361.69" width="50.33" height="2.79" fill="#fdbc6e"/><rect x="609.63" y="1361.69" width="50.33" height="2.79" fill="#ffffbf"/><rect x="659.67" y="1361.69" width="50.33" height="2.79" fill="#fff2ac"/><rect x="709.7" y="1361.69" width="50.33" height="2.79" fill="#daf0f6"/><rect x="759.73" y="1361.69" width="50.33" height="2.79" fill="#d7eef5"/><rect x="809.77" y="1361.69" width="50.33" height="2.79" fill="#d6eef5"/><rect x="409.5" y="1364.17" width="50.33" height="2.79" fill="#f57346"/><rect x="459.53" y="1364.17" width="50.33" height="2.79" fill="#f67a49"/><rect x="509.57" y="1364.17" width="50.33" height="2.79" fill="#f57547"/><rect x="559.6" y="1364.17" width="50.33" height="2.79" fill="#feeaa0"/><rect x="609.63" y="1364.17" width="50.33" height="2.79" fill="#fffdbc"/><rect x="659.67" y="1364.17" width="50.33" height="2.79" fill="#fffdbc"/><rect x="709.7" y="1364.17" width="50.33" height="2.79" fill="#e3f4f2"/><rect x="759.73" y="1364.17" width="50.33" height="2.79" fill="#fffab8"/><rect x="809.77" y="1364.17" width="50.33" height="2.79" fill="#9acbe1"/><rect x="409.5" y="1366.66" width="50.33" height="2.79" fill="#ee603d"/><rect x="459.53" y="1366.66" width="50.33" height="2.79" fill="#ef633e"/><rect x="509.57" y="1366.66" width="50.33" height="2.79" fill="#f47044"/><rect x="559.6" y="1366.66" width="50.33" height="2.79" fill="#fff3ad"/><rect x="609.63" y="1366.66" width="50.33" height="2.79" fill="#fff7b3"/><rect x="659.67" y="1366.66" width="50.33" height="2.79" fill="#fffcbb"/><rect x="709.7" y="1366.66" width="50.33" height="2.79" fill="#e5f5ee"/><rect x="759.73" y="1366.66" width="50.33" height="2.79" fill="#fffebe"/><rect x="809.77" y="1366.66" width="50.33" height="2.79" fill="#9bcce2"/><rect x="409.5" y="1369.14" width="50.33" height="2.79" fill="#f47044"/><rect x="459.53" y="1369.14" width="50.33" height="2.79" fill="#f57547"/><rect x="509.57" y="1369.14" width="50.33" height="2.79" fill="#f67d4a"/><rect x="559.6" y="1369.14" width="50.33" height="2.79" fill="#fff3ac"/><rect x="609.63" y="1369.14" width="50.33" height="2.79" fill="#fff7b2"/><rect x="659.67" y="1369.14" width="50.33" height="2.79" fill="#fff8b5"/><rect x="709.7" y="1369.14" width="50.33" height="2.79" fill="#b4deec"/><rect x="759.73" y="1369.14" width="50.33" height="2.79" fill="#d9f0f6"/><rect x="809.77" y="1369.14" width="50.33" height="2.79" fill="#d1ecf4"/><rect x="409.5" y="1371.63" width="50.33" height="2.79" fill="#f16740"/><rect x="459.53" y="1371.63" width="50.33" height="2.79" fill="#f57547"/><rect x="509.57" y="1371.63" width="50.33" height="2.79" fill="#f36b42"/><rect x="559.6" y="1371.63" width="50.33" height="2.79" fill="#fff7b3"/><rect x="609.63" y="1371.63" width="50.33" height="2.79" fill="#fff5b0"/><rect x="659.67" y="1371.63" width="50.33" height="2.79" fill="#ffffbf"/><rect x="709.7" y="1371.63" width="50.33" height="2.79" fill="#b8dfed"/><rect x="759.73" y="1371.63" width="50.33" height="2.79" fill="#e2f4f4"/><rect x="809.77" y="1371.63" width="50.33" height="2.79" fill="#cdeaf3"/><rect x="409.5" y="1374.11" width="50.33" height="2.79" fill="#eb5b3b"/><rect x="459.53" y="1374.11" width="50.33" height="2.79" fill="#f67b4a"/><rect x="509.57" y="1374.11" width="50.33" height="2.79" fill="#f67b4a"/><rect x="559.6" y="1374.11" width="50.33" height="2.79" fill="#ffffbf"/><rect x="609.63" y="1374.11" width="50.33" height="2.79" fill="#fdfec2"/><rect x="659.67" y="1374.11" width="50.33" height="2.79" fill="#fff2ac"/><rect x="709.7" y="1374.11" width="50.33" height="2.79" fill="#bbe1ed"/><rect x="759.73" y="1374.11" width="50.33" height="2.79" fill="#e4f5f1"/><rect x="809.77" y="1374.11" width="50.33" height="2.79" fill="#c1e4ef"/><rect x="409.5" y="1376.6" width="50.33" height="2.79" fill="#ec5c3b"/><rect x="459.53" y="1376.6" width="50.33" height="2.79" fill="#f46f44"/><rect x="509.57" y="1376.6" width="50.33" height="2.79" fill="#f67c4a"/><rect x="559.6" y="1376.6" width="50.33" height="2.79" fill="#fff5b0"/><rect x="609.63" y="1376.6" width="50.33" height="2.79" fill="#fff6b1"/><rect x="659.67" y="1376.6" width="50.33" height="2.79" fill="#d2ecf4"/><rect x="709.7" y="1376.6" width="50.33" height="2.79" fill="#bbe1ee"/><rect x="759.73" y="1376.6" width="50.33" height="2.79" fill="#dff2f8"/><rect x="809.77" y="1376.6" width="50.33" height="2.79" fill="#bde2ee"/><rect x="409.5" y="1379.09" width="50.33" height="2.79" fill="#f36b42"/><rect x="459.53" y="1379.09" width="50.33" height="2.79" fill="#f67848"/><rect x="509.57" y="1379.09" width="50.33" height="2.79" fill="#f67e4b"/><rect x="559.6" y="1379.09" width="50.33" height="2.79" fill="#fffdbc"/><rect x="609.63" y="1379.09" width="50.33" height="2.79" fill="#fffbb9"/><rect x="659.67" y="1379.09" width="50.33" height="2.79" fill="#e0f3f8"/><rect x="709.7" y="1379.09" width="50.33" height="2.79" fill="#b1dceb"/><rect x="759.73" y="1379.09" width="50.33" height="2.79" fill="#cfebf3"/><rect x="809.77" y="1379.09" width="50.33" height="2.79" fill="#c0e3ef"/><rect x="409.5" y="1381.57" width="50.33" height="2.79" fill="#fdbe70"/><rect x="459.53" y="1381.57" width="50.33" height="2.79" fill="#f57748"/><rect x="509.57" y="1381.57" width="50.33" height="2.79" fill="#f67b49"/><rect x="559.6" y="1381.57" width="50.33" height="2.79" fill="#fff2ab"/><rect x="609.63" y="1381.57" width="50.33" height="2.79" fill="#fff5b0"/><rect x="659.67" y="1381.57" width="50.33" height="2.79" fill="#ddf2f7"/><rect x="709.7" y="1381.57" width="50.33" height="2.79" fill="#d6eef5"/><rect x="759.73" y="1381.57" width="50.33" height="2.79" fill="#91c4dd"/><rect x="809.77" y="1381.57" width="50.33" height="2.79" fill="#92c5de"/><rect x="409.5" y="1384.06" width="50.33" height="2.79" fill="#ee5f3d"/><rect x="459.53" y="1384.06" width="50.33" height="2.79" fill="#f26941"/><rect x="509.57" y="1384.06" width="50.33" height="2.79" fill="#f7824c"/><rect x="559.6" y="1384.06" width="50.33" height="2.79" fill="#fff2ac"/><rect x="609.63" y="1384.06" width="50.33" height="2.79" fill="#fff6b2"/><rect x="659.67" y="1384.06" width="50.33" height="2.79" fill="#abd9e9"/><rect x="709.7" y="1384.06" width="50.33" height="2.79" fill="#fffdbb"/><rect x="759.73" y="1384.06" width="50.33" height="2.79" fill="#f6fbd0"/><rect x="809.77" y="1384.06" width="50.33" height="2.79" fill="#fcfec4"/><rect x="409.5" y="1386.54" width="50.33" height="2.79" fill="#f16640"/><rect x="459.53" y="1386.54" width="50.33" height="2.79" fill="#f36b42"/><rect x="509.57" y="1386.54" width="50.33" height="2.79" fill="#f67949"/><rect x="559.6" y="1386.54" width="50.33" height="2.79" fill="#feefa6"/><rect x="609.63" y="1386.54" width="50.33" height="2.79" fill="#fff4ae"/><rect x="659.67" y="1386.54" width="50.33" height="2.79" fill="#bae0ed"/><rect x="709.7" y="1386.54" width="50.33" height="2.79" fill="#fffbb9"/><rect x="759.73" y="1386.54" width="50.33" height="2.79" fill="#f4fbd3"/><rect x="809.77" y="1386.54" width="50.33" height="2.79" fill="#f9fdca"/><rect x="409.5" y="1389.03" width="50.33" height="2.79" fill="#f26941"/><rect x="459.53" y="1389.03" width="50.33" height="2.79" fill="#f67c4a"/><rect x="509.57" y="1389.03" width="50.33" height="2.79" fill="#f26941"/><rect x="559.6" y="1389.03" width="50.33" height="2.79" fill="#fffdbd"/><rect x="609.63" y="1389.03" width="50.33" height="2.79" fill="#fff5af"/><rect x="659.67" y="1389.03" width="50.33" height="2.79" fill="#abd9e9"/><rect x="709.7" y="1389.03" width="50.33" height="2.79" fill="#fff4ae"/><rect x="759.73" y="1389.03" width="50.33" height="2.79" fill="#f8fccb"/><rect x="809.77" y="1389.03" width="50.33" height="2.79" fill="#f0f9da"/><rect x="409.5" y="1391.51" width="50.33" height="2.79" fill="#f46f44"/><rect x="459.53" y="1391.51" width="50.33" height="2.79" fill="#f36b42"/><rect x="509.57" y="1391.51" width="50.33" height="2.79" fill="#f47045"/><rect x="559.6" y="1391.51" width="50.33" height="2.79" fill="#fff6b2"/><rect x="609.63" y="1391.51" width="50.33" height="2.79" fill="#ffffc0"/><rect x="659.67" y="1391.51" width="50.33" height="2.79" fill="#b0dcea"/><rect x="709.7" y="1391.51" width="50.33" height="2.79" fill="#fffbb9"/><rect x="759.73" y="1391.51" width="50.33" height="2.79" fill="#f9fdca"/><rect x="809.77" y="1391.51" width="50.33" height="2.79" fill="#def2f8"/><rect x="409.5" y="1394" width="50.33" height="2.79" fill="#f16740"/><rect x="459.53" y="1394" width="50.33" height="2.79" fill="#f46c43"/><rect x="509.57" y="1394" width="50.33" height="2.79" fill="#f26841"/><rect x="559.6" y="1394" width="50.33" height="2.79" fill="#fcfec5"/><rect x="609.63" y="1394" width="50.33" height="2.79" fill="#fff9b7"/><rect x="659.67" y="1394" width="50.33" height="2.79" fill="#b5deec"/><rect x="709.7" y="1394" width="50.33" height="2.79" fill="#fee69a"/><rect x="759.73" y="1394" width="50.33" height="2.79" fill="#f4fbd3"/><rect x="809.77" y="1394" width="50.33" height="2.79" fill="#def2f7"/><rect x="409.5" y="1396.48" width="50.33" height="2.79" fill="#e85437"/><rect x="459.53" y="1396.48" width="50.33" height="2.79" fill="#ed5f3d"/><rect x="509.57" y="1396.48" width="50.33" height="2.79" fill="#f57547"/><rect x="559.6" y="1396.48" width="50.33" height="2.79" fill="#fbfdc6"/><rect x="609.63" y="1396.48" width="50.33" height="2.79" fill="#fff3ad"/><rect x="659.67" y="1396.48" width="50.33" height="2.79" fill="#aad8e9"/><rect x="709.7" y="1396.48" width="50.33" height="2.79" fill="#fff3ad"/><rect x="759.73" y="1396.48" width="50.33" height="2.79" fill="#fbfdc7"/><rect x="809.77" y="1396.48" width="50.33" height="2.79" fill="#e9f7e7"/><rect x="409.5" y="1398.97" width="50.33" height="2.79" fill="#f36b42"/><rect x="459.53" y="1398.97" width="50.33" height="2.79" fill="#f0653f"/><rect x="509.57" y="1398.97" width="50.33" height="2.79" fill="#f67d4b"/><rect x="559.6" y="1398.97" width="50.33" height="2.79" fill="#e3f4f3"/><rect x="609.63" y="1398.97" width="50.33" height="2.79" fill="#fff4af"/><rect x="659.67" y="1398.97" width="50.33" height="2.79" fill="#b5deec"/><rect x="709.7" y="1398.97" width="50.33" height="2.79" fill="#fff2ab"/><rect x="759.73" y="1398.97" width="50.33" height="2.79" fill="#f5fbd2"/><rect x="809.77" y="1398.97" width="50.33" height="2.79" fill="#fdfec2"/><rect x="409.5" y="1401.45" width="50.33" height="2.79" fill="#ee603d"/><rect x="459.53" y="1401.45" width="50.33" height="2.79" fill="#f57145"/><rect x="509.57" y="1401.45" width="50.33" height="2.79" fill="#f7814c"/><rect x="559.6" y="1401.45" width="50.33" height="2.79" fill="#e1f3f7"/><rect x="609.63" y="1401.45" width="50.33" height="2.79" fill="#fff6b1"/><rect x="659.67" y="1401.45" width="50.33" height="2.79" fill="#9fd0e4"/><rect x="709.7" y="1401.45" width="50.33" height="2.79" fill="#feffc1"/><rect x="759.73" y="1401.45" width="50.33" height="2.79" fill="#fafdc9"/><rect x="809.77" y="1401.45" width="50.33" height="2.79" fill="#fffbba"/><rect x="409.5" y="1403.94" width="50.33" height="2.79" fill="#f46e44"/><rect x="459.53" y="1403.94" width="50.33" height="2.79" fill="#ef633e"/><rect x="509.57" y="1403.94" width="50.33" height="2.79" fill="#f7814c"/><rect x="559.6" y="1403.94" width="50.33" height="2.79" fill="#e6f5ed"/><rect x="609.63" y="1403.94" width="50.33" height="2.79" fill="#fff9b5"/><rect x="659.67" y="1403.94" width="50.33" height="2.79" fill="#98cae1"/><rect x="709.7" y="1403.94" width="50.33" height="2.79" fill="#fffcbb"/><rect x="759.73" y="1403.94" width="50.33" height="2.79" fill="#feeca2"/><rect x="809.77" y="1403.94" width="50.33" height="2.79" fill="#ecf8e1"/><rect x="409.5" y="1406.42" width="50.33" height="2.79" fill="#ef633e"/><rect x="459.53" y="1406.42" width="50.33" height="2.79" fill="#f26841"/><rect x="509.57" y="1406.42" width="50.33" height="2.79" fill="#f57647"/><rect x="559.6" y="1406.42" width="50.33" height="2.79" fill="#e3f4f2"/><rect x="609.63" y="1406.42" width="50.33" height="2.79" fill="#fefec2"/><rect x="659.67" y="1406.42" width="50.33" height="2.79" fill="#98cae1"/><rect x="709.7" y="1406.42" width="50.33" height="2.79" fill="#fff9b7"/><rect x="759.73" y="1406.42" width="50.33" height="2.79" fill="#fbfdc7"/><rect x="809.77" y="1406.42" width="50.33" height="2.79" fill="#eff9dc"/><rect x="409.5" y="1408.91" width="50.33" height="2.79" fill="#f99355"/><rect x="459.53" y="1408.91" width="50.33" height="2.79" fill="#f46e44"/><rect x="509.57" y="1408.91" width="50.33" height="2.79" fill="#f67f4b"/><rect x="559.6" y="1408.91" width="50.33" height="2.79" fill="#e4f5f1"/><rect x="609.63" y="1408.91" width="50.33" height="2.79" fill="#ffffbf"/><rect x="659.67" y="1408.91" width="50.33" height="2.79" fill="#8bc0db"/><rect x="709.7" y="1408.91" width="50.33" height="2.79" fill="#fffab8"/><rect x="759.73" y="1408.91" width="50.33" height="2.79" fill="#f9fdcb"/><rect x="809.77" y="1408.91" width="50.33" height="2.79" fill="#feffc1"/><rect x="409.5" y="1411.4" width="50.33" height="2.79" fill="#fa9b58"/><rect x="459.53" y="1411.4" width="50.33" height="2.79" fill="#f67b4a"/><rect x="509.57" y="1411.4" width="50.33" height="2.79" fill="#e44b33"/><rect x="559.6" y="1411.4" width="50.33" height="2.79" fill="#f9fccb"/><rect x="609.63" y="1411.4" width="50.33" height="2.79" fill="#fee79b"/><rect x="659.67" y="1411.4" width="50.33" height="2.79" fill="#b4deec"/><rect x="709.7" y="1411.4" width="50.33" height="2.79" fill="#fff9b6"/><rect x="759.73" y="1411.4" width="50.33" height="2.79" fill="#f8fccc"/><rect x="809.77" y="1411.4" width="50.33" height="2.79" fill="#ffffbf"/><rect x="409.5" y="1413.88" width="50.33" height="2.79" fill="#fba05a"/><rect x="459.53" y="1413.88" width="50.33" height="2.79" fill="#ee603d"/><rect x="509.57" y="1413.88" width="50.33" height="2.79" fill="#eb593a"/><rect x="559.6" y="1413.88" width="50.33" height="2.79" fill="#fffab7"/><rect x="609.63" y="1413.88" width="50.33" height="2.79" fill="#fee395"/><rect x="659.67" y="1413.88" width="50.33" height="2.79" fill="#b3ddeb"/><rect x="709.7" y="1413.88" width="50.33" height="2.79" fill="#fff5af"/><rect x="759.73" y="1413.88" width="50.33" height="2.79" fill="#fafdc8"/><rect x="809.77" y="1413.88" width="50.33" height="2.79" fill="#fff8b5"/><rect x="409.5" y="1416.37" width="50.33" height="2.79" fill="#fb9c59"/><rect x="459.53" y="1416.37" width="50.33" height="2.79" fill="#ee603d"/><rect x="509.57" y="1416.37" width="50.33" height="2.79" fill="#e0422f"/><rect x="559.6" y="1416.37" width="50.33" height="2.79" fill="#80b7d6"/><rect x="609.63" y="1416.37" width="50.33" height="2.79" fill="#fee699"/><rect x="659.67" y="1416.37" width="50.33" height="2.79" fill="#ebf7e4"/><rect x="709.7" y="1416.37" width="50.33" height="2.79" fill="#fff4ae"/><rect x="759.73" y="1416.37" width="50.33" height="2.79" fill="#fdfec4"/><rect x="809.77" y="1416.37" width="50.33" height="2.79" fill="#fffbba"/><rect x="409.5" y="1418.85" width="50.33" height="2.79" fill="#f57848"/><rect x="459.53" y="1418.85" width="50.33" height="2.79" fill="#ee613e"/><rect x="509.57" y="1418.85" width="50.33" height="2.79" fill="#e95538"/><rect x="559.6" y="1418.85" width="50.33" height="2.79" fill="#91c4de"/><rect x="609.63" y="1418.85" width="50.33" height="2.79" fill="#f0f9da"/><rect x="659.67" y="1418.85" width="50.33" height="2.79" fill="#e4f5f0"/><rect x="709.7" y="1418.85" width="50.33" height="2.79" fill="#fff3ad"/><rect x="759.73" y="1418.85" width="50.33" height="2.79" fill="#fafdc7"/><rect x="809.77" y="1418.85" width="50.33" height="2.79" fill="#fbfec6"/><rect x="409.5" y="1421.34" width="50.33" height="2.79" fill="#da362a"/><rect x="459.53" y="1421.34" width="50.33" height="2.79" fill="#f57346"/><rect x="509.57" y="1421.34" width="50.33" height="2.79" fill="#fdb76a"/><rect x="559.6" y="1421.34" width="50.33" height="2.79" fill="#81b7d6"/><rect x="609.63" y="1421.34" width="50.33" height="2.79" fill="#f0f9da"/><rect x="659.67" y="1421.34" width="50.33" height="2.79" fill="#ebf7e4"/><rect x="709.7" y="1421.34" width="50.33" height="2.79" fill="#fff7b2"/><rect x="759.73" y="1421.34" width="50.33" height="2.79" fill="#fff9b6"/><rect x="809.77" y="1421.34" width="50.33" height="2.79" fill="#fafdc9"/><rect x="409.5" y="1423.82" width="50.33" height="2.79" fill="#d73027"/><rect x="459.53" y="1423.82" width="50.33" height="2.79" fill="#fa9857"/><rect x="509.57" y="1423.82" width="50.33" height="2.79" fill="#fdaa5f"/><rect x="559.6" y="1423.82" width="50.33" height="2.79" fill="#c8e7f1"/><rect x="609.63" y="1423.82" width="50.33" height="2.79" fill="#f3fad5"/><rect x="659.67" y="1423.82" width="50.33" height="2.79" fill="#eaf7e6"/><rect x="709.7" y="1423.82" width="50.33" height="2.79" fill="#fff8b5"/><rect x="759.73" y="1423.82" width="50.33" height="2.79" fill="#fffebe"/><rect x="809.77" y="1423.82" width="50.33" height="2.79" fill="#fffab7"/><rect x="409.5" y="1426.31" width="50.33" height="2.79" fill="#df422f"/><rect x="459.53" y="1426.31" width="50.33" height="2.79" fill="#f67d4a"/><rect x="509.57" y="1426.31" width="50.33" height="2.79" fill="#fca75e"/><rect x="559.6" y="1426.31" width="50.33" height="2.79" fill="#c2e4ef"/><rect x="609.63" y="1426.31" width="50.33" height="2.79" fill="#fafdc9"/><rect x="659.67" y="1426.31" width="50.33" height="2.79" fill="#e1f3f6"/><rect x="709.7" y="1426.31" width="50.33" height="2.79" fill="#fed686"/><rect x="759.73" y="1426.31" width="50.33" height="2.79" fill="#fffebe"/><rect x="809.77" y="1426.31" width="50.33" height="2.79" fill="#fdfec3"/><rect x="409.5" y="1428.79" width="50.33" height="2.79" fill="#eb593a"/><rect x="459.53" y="1428.79" width="50.33" height="2.79" fill="#f57747"/><rect x="509.57" y="1428.79" width="50.33" height="2.79" fill="#fdb466"/><rect x="559.6" y="1428.79" width="50.33" height="2.79" fill="#cbe9f2"/><rect x="609.63" y="1428.79" width="50.33" height="2.79" fill="#eff9dd"/><rect x="659.67" y="1428.79" width="50.33" height="2.79" fill="#e9f7e7"/><rect x="709.7" y="1428.79" width="50.33" height="2.79" fill="#fee597"/><rect x="759.73" y="1428.79" width="50.33" height="2.79" fill="#fffdbc"/><rect x="809.77" y="1428.79" width="50.33" height="2.79" fill="#f2fad6"/><rect x="409.5" y="1431.28" width="50.33" height="2.79" fill="#ed5e3c"/><rect x="459.53" y="1431.28" width="50.33" height="2.79" fill="#f47044"/><rect x="509.57" y="1431.28" width="50.33" height="2.79" fill="#fdb063"/><rect x="559.6" y="1431.28" width="50.33" height="2.79" fill="#b8dfed"/><rect x="609.63" y="1431.28" width="50.33" height="2.79" fill="#eef9dd"/><rect x="659.67" y="1431.28" width="50.33" height="2.79" fill="#def2f8"/><rect x="709.7" y="1431.28" width="50.33" height="2.79" fill="#fedf8f"/><rect x="759.73" y="1431.28" width="50.33" height="2.79" fill="#feffc1"/><rect x="809.77" y="1431.28" width="50.33" height="2.79" fill="#ffffbf"/><rect x="409.5" y="1433.76" width="50.33" height="2.79" fill="#e95538"/><rect x="459.53" y="1433.76" width="50.33" height="2.79" fill="#f7804c"/><rect x="509.57" y="1433.76" width="50.33" height="2.79" fill="#fdb365"/><rect x="559.6" y="1433.76" width="50.33" height="2.79" fill="#c8e7f1"/><rect x="609.63" y="1433.76" width="50.33" height="2.79" fill="#eef9de"/><rect x="659.67" y="1433.76" width="50.33" height="2.79" fill="#dbf0f7"/><rect x="709.7" y="1433.76" width="50.33" height="2.79" fill="#fff6b1"/><rect x="759.73" y="1433.76" width="50.33" height="2.79" fill="#f9fdca"/><rect x="809.77" y="1433.76" width="50.33" height="2.79" fill="#fdfec3"/><rect x="409.5" y="1436.25" width="50.33" height="2.79" fill="#f26941"/><rect x="459.53" y="1436.25" width="50.33" height="2.79" fill="#f57245"/><rect x="509.57" y="1436.25" width="50.33" height="2.79" fill="#fca95f"/><rect x="559.6" y="1436.25" width="50.33" height="2.79" fill="#bde2ee"/><rect x="609.63" y="1436.25" width="50.33" height="2.79" fill="#f7fccd"/><rect x="659.67" y="1436.25" width="50.33" height="2.79" fill="#e4f5f1"/><rect x="709.7" y="1436.25" width="50.33" height="2.79" fill="#fff9b6"/><rect x="759.73" y="1436.25" width="50.33" height="2.79" fill="#fff9b6"/><rect x="809.77" y="1436.25" width="50.33" height="2.79" fill="#fbfdc6"/><rect x="409.5" y="1438.74" width="50.33" height="2.79" fill="#f0653f"/><rect x="459.53" y="1438.74" width="50.33" height="2.79" fill="#f7814c"/><rect x="509.57" y="1438.74" width="50.33" height="2.79" fill="#fdaf62"/><rect x="559.6" y="1438.74" width="50.33" height="2.79" fill="#fff4ae"/><rect x="609.63" y="1438.74" width="50.33" height="2.79" fill="#f5fbd1"/><rect x="659.67" y="1438.74" width="50.33" height="2.79" fill="#9ccde3"/><rect x="709.7" y="1438.74" width="50.33" height="2.79" fill="#fffdbc"/><rect x="759.73" y="1438.74" width="50.33" height="2.79" fill="#fafdc7"/><rect x="809.77" y="1438.74" width="50.33" height="2.79" fill="#fffdbc"/><rect x="409.5" y="1441.22" width="50.33" height="2.79" fill="#ea593a"/><rect x="459.53" y="1441.22" width="50.33" height="2.79" fill="#f67949"/><rect x="509.57" y="1441.22" width="50.33" height="2.79" fill="#fdaf61"/><rect x="559.6" y="1441.22" width="50.33" height="2.79" fill="#fffab8"/><rect x="609.63" y="1441.22" width="50.33" height="2.79" fill="#f8fccc"/><rect x="659.67" y="1441.22" width="50.33" height="2.79" fill="#a5d4e6"/><rect x="709.7" y="1441.22" width="50.33" height="2.79" fill="#fffdbc"/><rect x="759.73" y="1441.22" width="50.33" height="2.79" fill="#fff6b2"/><rect x="809.77" y="1441.22" width="50.33" height="2.79" fill="#e8f6ea"/><rect x="409.5" y="1443.71" width="50.33" height="2.79" fill="#eb5a3a"/><rect x="459.53" y="1443.71" width="50.33" height="2.79" fill="#f57848"/><rect x="509.57" y="1443.71" width="50.33" height="2.79" fill="#fdb86b"/><rect x="559.6" y="1443.71" width="50.33" height="2.79" fill="#c3e5f0"/><rect x="609.63" y="1443.71" width="50.33" height="2.79" fill="#fff8b5"/><rect x="659.67" y="1443.71" width="50.33" height="2.79" fill="#92c5de"/><rect x="709.7" y="1443.71" width="50.33" height="2.79" fill="#feea9f"/><rect x="759.73" y="1443.71" width="50.33" height="2.79" fill="#fff6b1"/><rect x="809.77" y="1443.71" width="50.33" height="2.79" fill="#f9fdc9"/><rect x="409.5" y="1446.19" width="50.33" height="2.79" fill="#ef633f"/><rect x="459.53" y="1446.19" width="50.33" height="2.79" fill="#f57145"/><rect x="509.57" y="1446.19" width="50.33" height="2.79" fill="#fdb265"/><rect x="559.6" y="1446.19" width="50.33" height="2.79" fill="#d1ecf4"/><rect x="609.63" y="1446.19" width="50.33" height="2.79" fill="#f6fbd0"/><rect x="659.67" y="1446.19" width="50.33" height="2.79" fill="#96c8e0"/><rect x="709.7" y="1446.19" width="50.33" height="2.79" fill="#feeda4"/><rect x="759.73" y="1446.19" width="50.33" height="2.79" fill="#ffffbf"/><rect x="809.77" y="1446.19" width="50.33" height="2.79" fill="#f8fccc"/><rect x="409.5" y="1448.68" width="50.33" height="2.79" fill="#e64f35"/><rect x="459.53" y="1448.68" width="50.33" height="2.79" fill="#f46c43"/><rect x="509.57" y="1448.68" width="50.33" height="2.79" fill="#fdac60"/><rect x="559.6" y="1448.68" width="50.33" height="2.79" fill="#c1e4ef"/><rect x="609.63" y="1448.68" width="50.33" height="2.79" fill="#e7f6eb"/><rect x="659.67" y="1448.68" width="50.33" height="2.79" fill="#a5d5e7"/><rect x="709.7" y="1448.68" width="50.33" height="2.79" fill="#feeba1"/><rect x="759.73" y="1448.68" width="50.33" height="2.79" fill="#fff9b5"/><rect x="809.77" y="1448.68" width="50.33" height="2.79" fill="#feffc1"/><rect x="409.5" y="1451.16" width="50.33" height="2.79" fill="#ef633e"/><rect x="459.53" y="1451.16" width="50.33" height="2.79" fill="#f7814c"/><rect x="509.57" y="1451.16" width="50.33" height="2.79" fill="#fdb86b"/><rect x="559.6" y="1451.16" width="50.33" height="2.79" fill="#c2e4f0"/><rect x="609.63" y="1451.16" width="50.33" height="2.79" fill="#dff3f8"/><rect x="659.67" y="1451.16" width="50.33" height="2.79" fill="#a6d5e7"/><rect x="709.7" y="1451.16" width="50.33" height="2.79" fill="#fff6b2"/><rect x="759.73" y="1451.16" width="50.33" height="2.79" fill="#fff7b3"/><rect x="809.77" y="1451.16" width="50.33" height="2.79" fill="#fffcbb"/><rect x="409.5" y="1453.65" width="50.33" height="2.79" fill="#ef623e"/><rect x="459.53" y="1453.65" width="50.33" height="2.79" fill="#f57346"/><rect x="509.57" y="1453.65" width="50.33" height="2.79" fill="#fdb466"/><rect x="559.6" y="1453.65" width="50.33" height="2.79" fill="#e7f6eb"/><rect x="609.63" y="1453.65" width="50.33" height="2.79" fill="#e2f4f4"/><rect x="659.67" y="1453.65" width="50.33" height="2.79" fill="#99cae1"/><rect x="709.7" y="1453.65" width="50.33" height="2.79" fill="#fff7b3"/><rect x="759.73" y="1453.65" width="50.33" height="2.79" fill="#fff5b0"/><rect x="809.77" y="1453.65" width="50.33" height="2.79" fill="#eaf7e5"/><rect x="409.5" y="1456.13" width="50.33" height="2.79" fill="#f67948"/><rect x="459.53" y="1456.13" width="50.33" height="2.79" fill="#f99455"/><rect x="509.57" y="1456.13" width="50.33" height="2.79" fill="#f57446"/><rect x="559.6" y="1456.13" width="50.33" height="2.79" fill="#def2f7"/><rect x="609.63" y="1456.13" width="50.33" height="2.79" fill="#e6f5ee"/><rect x="659.67" y="1456.13" width="50.33" height="2.79" fill="#abd9e9"/><rect x="709.7" y="1456.13" width="50.33" height="2.79" fill="#f2fad6"/><rect x="759.73" y="1456.13" width="50.33" height="2.79" fill="#ffffbf"/><rect x="809.77" y="1456.13" width="50.33" height="2.79" fill="#fffab7"/><rect x="409.5" y="1458.62" width="50.33" height="2.79" fill="#f88a50"/><rect x="459.53" y="1458.62" width="50.33" height="2.79" fill="#f88d52"/><rect x="509.57" y="1458.62" width="50.33" height="2.79" fill="#ee613e"/><rect x="559.6" y="1458.62" width="50.33" height="2.79" fill="#e5f5f0"/><rect x="609.63" y="1458.62" width="50.33" height="2.79" fill="#e5f5ef"/><rect x="659.67" y="1458.62" width="50.33" height="2.79" fill="#a3d3e6"/><rect x="709.7" y="1458.62" width="50.33" height="2.79" fill="#f6fbd0"/><rect x="759.73" y="1458.62" width="50.33" height="2.79" fill="#fffdbc"/><rect x="809.77" y="1458.62" width="50.33" height="2.79" fill="#fee294"/><rect x="409.5" y="1461.1" width="50.33" height="2.79" fill="#f67e4b"/><rect x="459.53" y="1461.1" width="50.33" height="2.79" fill="#f67949"/><rect x="509.57" y="1461.1" width="50.33" height="2.79" fill="#f46f44"/><rect x="559.6" y="1461.1" width="50.33" height="2.79" fill="#c4e5f0"/><rect x="609.63" y="1461.1" width="50.33" height="2.79" fill="#bee2ee"/><rect x="659.67" y="1461.1" width="50.33" height="2.79" fill="#c7e7f1"/><rect x="709.7" y="1461.1" width="50.33" height="2.79" fill="#eaf7e5"/><rect x="759.73" y="1461.1" width="50.33" height="2.79" fill="#fffab8"/><rect x="809.77" y="1461.1" width="50.33" height="2.79" fill="#f5fbd0"/><rect x="409.5" y="1463.59" width="50.33" height="2.79" fill="#eb5b3b"/><rect x="459.53" y="1463.59" width="50.33" height="2.79" fill="#f98f53"/><rect x="509.57" y="1463.59" width="50.33" height="2.79" fill="#fa9b58"/><rect x="559.6" y="1463.59" width="50.33" height="2.79" fill="#b5deec"/><rect x="609.63" y="1463.59" width="50.33" height="2.79" fill="#c7e7f1"/><rect x="659.67" y="1463.59" width="50.33" height="2.79" fill="#c7e7f1"/><rect x="709.7" y="1463.59" width="50.33" height="2.79" fill="#f9fdc9"/><rect x="759.73" y="1463.59" width="50.33" height="2.79" fill="#fffab8"/><rect x="809.77" y="1463.59" width="50.33" height="2.79" fill="#f5fbd1"/><rect x="409.5" y="1466.08" width="50.33" height="2.79" fill="#ee613e"/><rect x="459.53" y="1466.08" width="50.33" height="2.79" fill="#f7804c"/><rect x="509.57" y="1466.08" width="50.33" height="2.79" fill="#f7864f"/><rect x="559.6" y="1466.08" width="50.33" height="2.79" fill="#c5e6f0"/><rect x="609.63" y="1466.08" width="50.33" height="2.79" fill="#b1dceb"/><rect x="659.67" y="1466.08" width="50.33" height="2.79" fill="#ceeaf3"/><rect x="709.7" y="1466.08" width="50.33" height="2.79" fill="#fdfec3"/><rect x="759.73" y="1466.08" width="50.33" height="2.79" fill="#feefa6"/><rect x="809.77" y="1466.08" width="50.33" height="2.79" fill="#fffdbd"/><rect x="409.5" y="1468.56" width="50.33" height="2.79" fill="#ec5b3b"/><rect x="459.53" y="1468.56" width="50.33" height="2.79" fill="#f99254"/><rect x="509.57" y="1468.56" width="50.33" height="2.79" fill="#f7814c"/><rect x="559.6" y="1468.56" width="50.33" height="2.79" fill="#c9e8f2"/><rect x="609.63" y="1468.56" width="50.33" height="2.79" fill="#8bc0db"/><rect x="659.67" y="1468.56" width="50.33" height="2.79" fill="#c1e4ef"/><rect x="709.7" y="1468.56" width="50.33" height="2.79" fill="#fff8b4"/><rect x="759.73" y="1468.56" width="50.33" height="2.79" fill="#fcfec5"/><rect x="809.77" y="1468.56" width="50.33" height="2.79" fill="#f5fbd2"/><rect x="409.5" y="1471.05" width="50.33" height="2.79" fill="#f67a49"/><rect x="459.53" y="1471.05" width="50.33" height="2.79" fill="#f67b49"/><rect x="509.57" y="1471.05" width="50.33" height="2.79" fill="#f8884f"/><rect x="559.6" y="1471.05" width="50.33" height="2.79" fill="#89beda"/><rect x="609.63" y="1471.05" width="50.33" height="2.79" fill="#fff7b3"/><rect x="659.67" y="1471.05" width="50.33" height="2.79" fill="#86bbd9"/><rect x="709.7" y="1471.05" width="50.33" height="2.79" fill="#fff9b6"/><rect x="759.73" y="1471.05" width="50.33" height="2.79" fill="#fcfec5"/><rect x="809.77" y="1471.05" width="50.33" height="2.79" fill="#fffebe"/><rect x="409.5" y="1473.53" width="50.33" height="2.79" fill="#f98e52"/><rect x="459.53" y="1473.53" width="50.33" height="2.79" fill="#f88a50"/><rect x="509.57" y="1473.53" width="50.33" height="2.79" fill="#f98f52"/><rect x="559.6" y="1473.53" width="50.33" height="2.79" fill="#74add1"/><rect x="609.63" y="1473.53" width="50.33" height="2.79" fill="#fffdbc"/><rect x="659.67" y="1473.53" width="50.33" height="2.79" fill="#86bbd9"/><rect x="709.7" y="1473.53" width="50.33" height="2.79" fill="#fff0a8"/><rect x="759.73" y="1473.53" width="50.33" height="2.79" fill="#fffebe"/><rect x="809.77" y="1473.53" width="50.33" height="2.79" fill="#f9fdca"/><rect x="409.5" y="1476.02" width="50.33" height="2.79" fill="#f57647"/><rect x="459.53" y="1476.02" width="50.33" height="2.79" fill="#f7844e"/><rect x="509.57" y="1476.02" width="50.33" height="2.79" fill="#f7814c"/><rect x="559.6" y="1476.02" width="50.33" height="2.79" fill="#84b9d8"/><rect x="609.63" y="1476.02" width="50.33" height="2.79" fill="#eaf7e5"/><rect x="659.67" y="1476.02" width="50.33" height="2.79" fill="#89beda"/><rect x="709.7" y="1476.02" width="50.33" height="2.79" fill="#fff4af"/><rect x="759.73" y="1476.02" width="50.33" height="2.79" fill="#fff8b5"/><rect x="809.77" y="1476.02" width="50.33" height="2.79" fill="#f9fdc9"/><rect x="409.5" y="1478.5" width="50.33" height="2.79" fill="#f67e4b"/><rect x="459.53" y="1478.5" width="50.33" height="2.79" fill="#f7834d"/><rect x="509.57" y="1478.5" width="50.33" height="2.79" fill="#fa9555"/><rect x="559.6" y="1478.5" width="50.33" height="2.79" fill="#8abfdb"/><rect x="609.63" y="1478.5" width="50.33" height="2.79" fill="#ebf7e4"/><rect x="659.67" y="1478.5" width="50.33" height="2.79" fill="#94c6df"/><rect x="709.7" y="1478.5" width="50.33" height="2.79" fill="#fff8b5"/><rect x="759.73" y="1478.5" width="50.33" height="2.79" fill="#fafdc8"/><rect x="809.77" y="1478.5" width="50.33" height="2.79" fill="#f7fccd"/><rect x="409.5" y="1480.99" width="50.33" height="2.79" fill="#f67c4a"/><rect x="459.53" y="1480.99" width="50.33" height="2.79" fill="#fdac60"/><rect x="509.57" y="1480.99" width="50.33" height="2.79" fill="#f67c4a"/><rect x="559.6" y="1480.99" width="50.33" height="2.79" fill="#80b7d6"/><rect x="609.63" y="1480.99" width="50.33" height="2.79" fill="#f1fad9"/><rect x="659.67" y="1480.99" width="50.33" height="2.79" fill="#93c6df"/><rect x="709.7" y="1480.99" width="50.33" height="2.79" fill="#feeca2"/><rect x="759.73" y="1480.99" width="50.33" height="2.79" fill="#fffcbb"/><rect x="809.77" y="1480.99" width="50.33" height="2.79" fill="#fafdc9"/><rect x="409.5" y="1483.47" width="50.33" height="2.79" fill="#ea5739"/><rect x="459.53" y="1483.47" width="50.33" height="2.79" fill="#fdbe70"/><rect x="509.57" y="1483.47" width="50.33" height="2.79" fill="#ee603d"/><rect x="559.6" y="1483.47" width="50.33" height="2.79" fill="#7bb2d4"/><rect x="609.63" y="1483.47" width="50.33" height="2.79" fill="#edf8e0"/><rect x="659.67" y="1483.47" width="50.33" height="2.79" fill="#91c4dd"/><rect x="709.7" y="1483.47" width="50.33" height="2.79" fill="#fee79b"/><rect x="759.73" y="1483.47" width="50.33" height="2.79" fill="#fcfec5"/><rect x="809.77" y="1483.47" width="50.33" height="2.79" fill="#feffc1"/><rect x="409.5" y="1485.96" width="50.33" height="2.79" fill="#fba15b"/><rect x="459.53" y="1485.96" width="50.33" height="2.79" fill="#f7834d"/><rect x="509.57" y="1485.96" width="50.33" height="2.79" fill="#fa9656"/><rect x="559.6" y="1485.96" width="50.33" height="2.79" fill="#5d91c3"/><rect x="609.63" y="1485.96" width="50.33" height="2.79" fill="#f3fad5"/><rect x="659.67" y="1485.96" width="50.33" height="2.79" fill="#88bdda"/><rect x="709.7" y="1485.96" width="50.33" height="2.79" fill="#fee99e"/><rect x="759.73" y="1485.96" width="50.33" height="2.79" fill="#fffebd"/><rect x="809.77" y="1485.96" width="50.33" height="2.79" fill="#fffcbb"/><rect x="409.5" y="1488.44" width="50.33" height="2.79" fill="#fba15b"/><rect x="459.53" y="1488.44" width="50.33" height="2.79" fill="#f7804c"/><rect x="509.57" y="1488.44" width="50.33" height="2.79" fill="#fdab5f"/><rect x="559.6" y="1488.44" width="50.33" height="2.79" fill="#e3f4f3"/><rect x="609.63" y="1488.44" width="50.33" height="2.79" fill="#eef8df"/><rect x="659.67" y="1488.44" width="50.33" height="2.79" fill="#6aa1cb"/><rect x="709.7" y="1488.44" width="50.33" height="2.79" fill="#fff3ad"/><rect x="759.73" y="1488.44" width="50.33" height="2.79" fill="#fffebe"/><rect x="809.77" y="1488.44" width="50.33" height="2.79" fill="#fffdbb"/><rect x="409.5" y="1490.93" width="50.33" height="2.79" fill="#f26941"/><rect x="459.53" y="1490.93" width="50.33" height="2.79" fill="#f88d52"/><rect x="509.57" y="1490.93" width="50.33" height="2.79" fill="#fa9b58"/><rect x="559.6" y="1490.93" width="50.33" height="2.79" fill="#ebf7e4"/><rect x="609.63" y="1490.93" width="50.33" height="2.79" fill="#f5fbd2"/><rect x="659.67" y="1490.93" width="50.33" height="2.79" fill="#649ac7"/><rect x="709.7" y="1490.93" width="50.33" height="2.79" fill="#fff6b1"/><rect x="759.73" y="1490.93" width="50.33" height="2.79" fill="#ffffbf"/><rect x="809.77" y="1490.93" width="50.33" height="2.79" fill="#f7fcce"/><rect x="409.5" y="1493.41" width="50.33" height="2.79" fill="#f36a42"/><rect x="459.53" y="1493.41" width="50.33" height="2.79" fill="#f8874f"/><rect x="509.57" y="1493.41" width="50.33" height="2.79" fill="#f99455"/><rect x="559.6" y="1493.41" width="50.33" height="2.79" fill="#e2f4f4"/><rect x="609.63" y="1493.41" width="50.33" height="2.79" fill="#f0f9da"/><rect x="659.67" y="1493.41" width="50.33" height="2.79" fill="#679ec9"/><rect x="709.7" y="1493.41" width="50.33" height="2.79" fill="#fff2ac"/><rect x="759.73" y="1493.41" width="50.33" height="2.79" fill="#fcfec4"/><rect x="809.77" y="1493.41" width="50.33" height="2.79" fill="#ebf7e5"/><rect x="409.5" y="1495.9" width="50.33" height="2.79" fill="#f26941"/><rect x="459.53" y="1495.9" width="50.33" height="2.79" fill="#f99455"/><rect x="509.57" y="1495.9" width="50.33" height="2.79" fill="#fdb96c"/><rect x="559.6" y="1495.9" width="50.33" height="2.79" fill="#bae0ed"/><rect x="609.63" y="1495.9" width="50.33" height="2.79" fill="#f4fbd3"/><rect x="659.67" y="1495.9" width="50.33" height="2.79" fill="#699fca"/><rect x="709.7" y="1495.9" width="50.33" height="2.79" fill="#fff8b5"/><rect x="759.73" y="1495.9" width="50.33" height="2.79" fill="#fdfec3"/><rect x="809.77" y="1495.9" width="50.33" height="2.79" fill="#e7f6ea"/><rect x="409.5" y="1498.39" width="50.33" height="2.79" fill="#f67a49"/><rect x="459.53" y="1498.39" width="50.33" height="2.79" fill="#f88c51"/><rect x="509.57" y="1498.39" width="50.33" height="2.79" fill="#fdba6c"/><rect x="559.6" y="1498.39" width="50.33" height="2.79" fill="#bae0ed"/><rect x="609.63" y="1498.39" width="50.33" height="2.79" fill="#edf8e1"/><rect x="659.67" y="1498.39" width="50.33" height="2.79" fill="#6ca3cc"/><rect x="709.7" y="1498.39" width="50.33" height="2.79" fill="#fff0a8"/><rect x="759.73" y="1498.39" width="50.33" height="2.79" fill="#fcfec5"/><rect x="809.77" y="1498.39" width="50.33" height="2.79" fill="#f2fad7"/><rect x="409.5" y="1500.87" width="50.33" height="2.79" fill="#f7814c"/><rect x="459.53" y="1500.87" width="50.33" height="2.79" fill="#f99053"/><rect x="509.57" y="1500.87" width="50.33" height="2.79" fill="#fca45c"/><rect x="559.6" y="1500.87" width="50.33" height="2.79" fill="#c6e6f1"/><rect x="609.63" y="1500.87" width="50.33" height="2.79" fill="#f5fbd2"/><rect x="659.67" y="1500.87" width="50.33" height="2.79" fill="#5f94c4"/><rect x="709.7" y="1500.87" width="50.33" height="2.79" fill="#fff8b4"/><rect x="759.73" y="1500.87" width="50.33" height="2.79" fill="#fffab8"/><rect x="809.77" y="1500.87" width="50.33" height="2.79" fill="#e5f5ee"/><rect x="409.5" y="1503.36" width="50.33" height="2.79" fill="#f67e4b"/><rect x="459.53" y="1503.36" width="50.33" height="2.79" fill="#f99053"/><rect x="509.57" y="1503.36" width="50.33" height="2.79" fill="#fdbd6f"/><rect x="559.6" y="1503.36" width="50.33" height="2.79" fill="#86bbd9"/><rect x="609.63" y="1503.36" width="50.33" height="2.79" fill="#a2d2e5"/><rect x="659.67" y="1503.36" width="50.33" height="2.79" fill="#edf8e0"/><rect x="709.7" y="1503.36" width="50.33" height="2.79" fill="#feeaa0"/><rect x="759.73" y="1503.36" width="50.33" height="2.79" fill="#fffab8"/><rect x="809.77" y="1503.36" width="50.33" height="2.79" fill="#fffdbc"/><rect x="409.5" y="1505.84" width="50.33" height="2.79" fill="#f7804c"/><rect x="459.53" y="1505.84" width="50.33" height="2.79" fill="#f88950"/><rect x="509.57" y="1505.84" width="50.33" height="2.79" fill="#fdb467"/><rect x="559.6" y="1505.84" width="50.33" height="2.79" fill="#8fc2dd"/><rect x="609.63" y="1505.84" width="50.33" height="2.79" fill="#a6d5e7"/><rect x="659.67" y="1505.84" width="50.33" height="2.79" fill="#e9f6e7"/><rect x="709.7" y="1505.84" width="50.33" height="2.79" fill="#fee99e"/><rect x="759.73" y="1505.84" width="50.33" height="2.79" fill="#fff9b5"/><rect x="809.77" y="1505.84" width="50.33" height="2.79" fill="#fffdbd"/><rect x="409.5" y="1508.33" width="50.33" height="2.79" fill="#f67d4b"/><rect x="459.53" y="1508.33" width="50.33" height="2.79" fill="#ee603d"/><rect x="509.57" y="1508.33" width="50.33" height="2.79" fill="#fca75e"/><rect x="559.6" y="1508.33" width="50.33" height="2.79" fill="#90c3dd"/><rect x="609.63" y="1508.33" width="50.33" height="2.79" fill="#a0d0e4"/><rect x="659.67" y="1508.33" width="50.33" height="2.79" fill="#eff9dc"/><rect x="709.7" y="1508.33" width="50.33" height="2.79" fill="#fff4ae"/><rect x="759.73" y="1508.33" width="50.33" height="2.79" fill="#fffab8"/><rect x="809.77" y="1508.33" width="50.33" height="2.79" fill="#fffdbc"/><rect x="409.5" y="1510.81" width="50.33" height="2.79" fill="#f67b49"/><rect x="459.53" y="1510.81" width="50.33" height="2.79" fill="#ef633e"/><rect x="509.57" y="1510.81" width="50.33" height="2.79" fill="#fdbc6e"/><rect x="559.6" y="1510.81" width="50.33" height="2.79" fill="#86bcd9"/><rect x="609.63" y="1510.81" width="50.33" height="2.79" fill="#a2d2e5"/><rect x="659.67" y="1510.81" width="50.33" height="2.79" fill="#edf8e0"/><rect x="709.7" y="1510.81" width="50.33" height="2.79" fill="#fff4af"/><rect x="759.73" y="1510.81" width="50.33" height="2.79" fill="#feeea5"/><rect x="809.77" y="1510.81" width="50.33" height="2.79" fill="#c2e5f0"/><rect x="409.5" y="1513.3" width="50.33" height="2.79" fill="#f57647"/><rect x="459.53" y="1513.3" width="50.33" height="2.79" fill="#ef633f"/><rect x="509.57" y="1513.3" width="50.33" height="2.79" fill="#fdb467"/><rect x="559.6" y="1513.3" width="50.33" height="2.79" fill="#eaf7e6"/><rect x="609.63" y="1513.3" width="50.33" height="2.79" fill="#b3ddeb"/><rect x="659.67" y="1513.3" width="50.33" height="2.79" fill="#9dcee3"/><rect x="709.7" y="1513.3" width="50.33" height="2.79" fill="#fff4ae"/><rect x="759.73" y="1513.3" width="50.33" height="2.79" fill="#fff2ac"/><rect x="809.77" y="1513.3" width="50.33" height="2.79" fill="#c2e4ef"/><rect x="409.5" y="1515.78" width="50.33" height="2.79" fill="#f57547"/><rect x="459.53" y="1515.78" width="50.33" height="2.79" fill="#ea593a"/><rect x="509.57" y="1515.78" width="50.33" height="2.79" fill="#fdbd6f"/><rect x="559.6" y="1515.78" width="50.33" height="2.79" fill="#e8f6ea"/><rect x="609.63" y="1515.78" width="50.33" height="2.79" fill="#9fd0e4"/><rect x="659.67" y="1515.78" width="50.33" height="2.79" fill="#addaea"/><rect x="709.7" y="1515.78" width="50.33" height="2.79" fill="#fff0a8"/><rect x="759.73" y="1515.78" width="50.33" height="2.79" fill="#fff6b1"/><rect x="809.77" y="1515.78" width="50.33" height="2.79" fill="#bae1ed"/><rect x="409.5" y="1518.27" width="50.33" height="2.79" fill="#f57246"/><rect x="459.53" y="1518.27" width="50.33" height="2.79" fill="#f88b51"/><rect x="509.57" y="1518.27" width="50.33" height="2.79" fill="#fdac60"/><rect x="559.6" y="1518.27" width="50.33" height="2.79" fill="#e7f6eb"/><rect x="609.63" y="1518.27" width="50.33" height="2.79" fill="#acd9e9"/><rect x="659.67" y="1518.27" width="50.33" height="2.79" fill="#aedaea"/><rect x="709.7" y="1518.27" width="50.33" height="2.79" fill="#fff6b1"/><rect x="759.73" y="1518.27" width="50.33" height="2.79" fill="#fff8b4"/><rect x="809.77" y="1518.27" width="50.33" height="2.79" fill="#d0ebf3"/><rect x="409.5" y="1520.75" width="50.33" height="2.79" fill="#f67e4b"/><rect x="459.53" y="1520.75" width="50.33" height="2.79" fill="#f8864f"/><rect x="509.57" y="1520.75" width="50.33" height="2.79" fill="#fdb567"/><rect x="559.6" y="1520.75" width="50.33" height="2.79" fill="#ebf7e4"/><rect x="609.63" y="1520.75" width="50.33" height="2.79" fill="#9ecfe3"/><rect x="659.67" y="1520.75" width="50.33" height="2.79" fill="#b2dceb"/><rect x="709.7" y="1520.75" width="50.33" height="2.79" fill="#fff8b5"/><rect x="759.73" y="1520.75" width="50.33" height="2.79" fill="#fffdbc"/><rect x="809.77" y="1520.75" width="50.33" height="2.79" fill="#bfe3ef"/><rect x="409.5" y="1523.24" width="50.33" height="2.79" fill="#f67848"/><rect x="459.53" y="1523.24" width="50.33" height="2.79" fill="#fa9b58"/><rect x="509.57" y="1523.24" width="50.33" height="2.79" fill="#fdb467"/><rect x="559.6" y="1523.24" width="50.33" height="2.79" fill="#fffdbd"/><rect x="609.63" y="1523.24" width="50.33" height="2.79" fill="#addaea"/><rect x="659.67" y="1523.24" width="50.33" height="2.79" fill="#a2d1e5"/><rect x="709.7" y="1523.24" width="50.33" height="2.79" fill="#feeea5"/><rect x="759.73" y="1523.24" width="50.33" height="2.79" fill="#dbf0f6"/><rect x="809.77" y="1523.24" width="50.33" height="2.79" fill="#fffcba"/><rect x="409.5" y="1525.72" width="50.33" height="2.79" fill="#fdad61"/><rect x="459.53" y="1525.72" width="50.33" height="2.79" fill="#f88b51"/><rect x="509.57" y="1525.72" width="50.33" height="2.79" fill="#f67e4b"/><rect x="559.6" y="1525.72" width="50.33" height="2.79" fill="#a8d6e8"/><rect x="609.63" y="1525.72" width="50.33" height="2.79" fill="#a6d5e7"/><rect x="659.67" y="1525.72" width="50.33" height="2.79" fill="#9ecee3"/><rect x="709.7" y="1525.72" width="50.33" height="2.79" fill="#fffcba"/><rect x="759.73" y="1525.72" width="50.33" height="2.79" fill="#e5f5ef"/><rect x="809.77" y="1525.72" width="50.33" height="2.79" fill="#fffbb8"/><rect x="409.5" y="1528.21" width="50.33" height="2.79" fill="#fdb567"/><rect x="459.53" y="1528.21" width="50.33" height="2.79" fill="#fdac60"/><rect x="509.57" y="1528.21" width="50.33" height="2.79" fill="#f57346"/><rect x="559.6" y="1528.21" width="50.33" height="2.79" fill="#99cae1"/><rect x="609.63" y="1528.21" width="50.33" height="2.79" fill="#b4deec"/><rect x="659.67" y="1528.21" width="50.33" height="2.79" fill="#a2d1e5"/><rect x="709.7" y="1528.21" width="50.33" height="2.79" fill="#fff4af"/><rect x="759.73" y="1528.21" width="50.33" height="2.79" fill="#e6f5ee"/><rect x="809.77" y="1528.21" width="50.33" height="2.79" fill="#fffbb8"/><rect x="409.5" y="1530.7" width="50.33" height="2.79" fill="#ef623e"/><rect x="459.53" y="1530.7" width="50.33" height="2.79" fill="#fdb164"/><rect x="509.57" y="1530.7" width="50.33" height="2.79" fill="#fdb769"/><rect x="559.6" y="1530.7" width="50.33" height="2.79" fill="#4575b4"/><rect x="609.63" y="1530.7" width="50.33" height="2.79" fill="#f2fad6"/><rect x="659.67" y="1530.7" width="50.33" height="2.79" fill="#6399c7"/><rect x="709.7" y="1530.7" width="50.33" height="2.79" fill="#fee598"/><rect x="759.73" y="1530.7" width="50.33" height="2.79" fill="#fbfec6"/><rect x="809.77" y="1530.7" width="50.33" height="2.79" fill="#fdfec3"/><rect x="409.5" y="1533.18" width="50.33" height="2.79" fill="#f26841"/><rect x="459.53" y="1533.18" width="50.33" height="2.79" fill="#fdae61"/><rect x="509.57" y="1533.18" width="50.33" height="2.79" fill="#fdc071"/><rect x="559.6" y="1533.18" width="50.33" height="2.79" fill="#73acd1"/><rect x="609.63" y="1533.18" width="50.33" height="2.79" fill="#f1f9d9"/><rect x="659.67" y="1533.18" width="50.33" height="2.79" fill="#6197c6"/><rect x="709.7" y="1533.18" width="50.33" height="2.79" fill="#feeea6"/><rect x="759.73" y="1533.18" width="50.33" height="2.79" fill="#fcfec5"/><rect x="809.77" y="1533.18" width="50.33" height="2.79" fill="#feffc0"/><rect x="409.5" y="1535.67" width="50.33" height="2.79" fill="#ef633e"/><rect x="459.53" y="1535.67" width="50.33" height="2.79" fill="#fca75e"/><rect x="509.57" y="1535.67" width="50.33" height="2.79" fill="#fdb467"/><rect x="559.6" y="1535.67" width="50.33" height="2.79" fill="#7db4d5"/><rect x="609.63" y="1535.67" width="50.33" height="2.79" fill="#f4fbd4"/><rect x="659.67" y="1535.67" width="50.33" height="2.79" fill="#6ea6ce"/><rect x="709.7" y="1535.67" width="50.33" height="2.79" fill="#fff1aa"/><rect x="759.73" y="1535.67" width="50.33" height="2.79" fill="#fffab8"/><rect x="809.77" y="1535.67" width="50.33" height="2.79" fill="#fff9b6"/><rect x="409.5" y="1538.15" width="50.33" height="2.79" fill="#ea583a"/><rect x="459.53" y="1538.15" width="50.33" height="2.79" fill="#fdb567"/><rect x="509.57" y="1538.15" width="50.33" height="2.79" fill="#fdb063"/><rect x="559.6" y="1538.15" width="50.33" height="2.79" fill="#84bad8"/><rect x="609.63" y="1538.15" width="50.33" height="2.79" fill="#e6f5ed"/><rect x="659.67" y="1538.15" width="50.33" height="2.79" fill="#5b90c2"/><rect x="709.7" y="1538.15" width="50.33" height="2.79" fill="#fee496"/><rect x="759.73" y="1538.15" width="50.33" height="2.79" fill="#fffdbc"/><rect x="809.77" y="1538.15" width="50.33" height="2.79" fill="#fbfdc6"/><rect x="409.5" y="1540.64" width="50.33" height="2.79" fill="#fca85e"/><rect x="459.53" y="1540.64" width="50.33" height="2.79" fill="#fecb7c"/><rect x="509.57" y="1540.64" width="50.33" height="2.79" fill="#fdbe70"/><rect x="559.6" y="1540.64" width="50.33" height="2.79" fill="#88bdda"/><rect x="609.63" y="1540.64" width="50.33" height="2.79" fill="#ebf7e4"/><rect x="659.67" y="1540.64" width="50.33" height="2.79" fill="#5f93c4"/><rect x="709.7" y="1540.64" width="50.33" height="2.79" fill="#fff0a9"/><rect x="759.73" y="1540.64" width="50.33" height="2.79" fill="#fffbb9"/><rect x="809.77" y="1540.64" width="50.33" height="2.79" fill="#feeca3"/><rect x="409.5" y="1543.12" width="50.33" height="2.79" fill="#f99053"/><rect x="459.53" y="1543.12" width="50.33" height="2.79" fill="#fdc072"/><rect x="509.57" y="1543.12" width="50.33" height="2.79" fill="#fdb164"/><rect x="559.6" y="1543.12" width="50.33" height="2.79" fill="#85bbd8"/><rect x="609.63" y="1543.12" width="50.33" height="2.79" fill="#f3fad5"/><rect x="659.67" y="1543.12" width="50.33" height="2.79" fill="#6da5cd"/><rect x="709.7" y="1543.12" width="50.33" height="2.79" fill="#fff1aa"/><rect x="759.73" y="1543.12" width="50.33" height="2.79" fill="#fafdc8"/><rect x="809.77" y="1543.12" width="50.33" height="2.79" fill="#fee597"/><rect x="409.5" y="1545.61" width="50.33" height="2.79" fill="#fa9b58"/><rect x="459.53" y="1545.61" width="50.33" height="2.79" fill="#fca45c"/><rect x="509.57" y="1545.61" width="50.33" height="2.79" fill="#fed384"/><rect x="559.6" y="1545.61" width="50.33" height="2.79" fill="#8bbfdb"/><rect x="609.63" y="1545.61" width="50.33" height="2.79" fill="#d8eff6"/><rect x="659.67" y="1545.61" width="50.33" height="2.79" fill="#6196c5"/><rect x="709.7" y="1545.61" width="50.33" height="2.79" fill="#fffab8"/><rect x="759.73" y="1545.61" width="50.33" height="2.79" fill="#fff0a8"/><rect x="809.77" y="1545.61" width="50.33" height="2.79" fill="#f2fad7"/><rect x="409.5" y="1548.09" width="50.33" height="2.79" fill="#fcaa5f"/><rect x="459.53" y="1548.09" width="50.33" height="2.79" fill="#fdac60"/><rect x="509.57" y="1548.09" width="50.33" height="2.79" fill="#fedb8b"/><rect x="559.6" y="1548.09" width="50.33" height="2.79" fill="#80b7d6"/><rect x="609.63" y="1548.09" width="50.33" height="2.79" fill="#d6eef5"/><rect x="659.67" y="1548.09" width="50.33" height="2.79" fill="#679ec9"/><rect x="709.7" y="1548.09" width="50.33" height="2.79" fill="#fff1aa"/><rect x="759.73" y="1548.09" width="50.33" height="2.79" fill="#fafdc7"/><rect x="809.77" y="1548.09" width="50.33" height="2.79" fill="#f7fcce"/><rect x="409.5" y="1550.58" width="50.33" height="2.79" fill="#fb9d59"/><rect x="459.53" y="1550.58" width="50.33" height="2.79" fill="#fca95f"/><rect x="509.57" y="1550.58" width="50.33" height="2.79" fill="#fece7f"/><rect x="559.6" y="1550.58" width="50.33" height="2.79" fill="#6ba3cc"/><rect x="609.63" y="1550.58" width="50.33" height="2.79" fill="#d3edf4"/><rect x="659.67" y="1550.58" width="50.33" height="2.79" fill="#4575b4"/><rect x="709.7" y="1550.58" width="50.33" height="2.79" fill="#feefa7"/><rect x="759.73" y="1550.58" width="50.33" height="2.79" fill="#fbfec6"/><rect x="809.77" y="1550.58" width="50.33" height="2.79" fill="#f4fbd3"/><rect x="409.5" y="1553.06" width="50.33" height="2.79" fill="#fa9857"/><rect x="459.53" y="1553.06" width="50.33" height="2.79" fill="#fdb76a"/><rect x="509.57" y="1553.06" width="50.33" height="2.79" fill="#fecf80"/><rect x="559.6" y="1553.06" width="50.33" height="2.79" fill="#689fca"/><rect x="609.63" y="1553.06" width="50.33" height="2.79" fill="#e1f3f7"/><rect x="659.67" y="1553.06" width="50.33" height="2.79" fill="#5d92c3"/><rect x="709.7" y="1553.06" width="50.33" height="2.79" fill="#fee395"/><rect x="759.73" y="1553.06" width="50.33" height="2.79" fill="#fffcbb"/><rect x="809.77" y="1553.06" width="50.33" height="2.79" fill="#f2fad7"/><rect x="409.5" y="1555.55" width="50.33" height="2.79" fill="#f98f53"/><rect x="459.53" y="1555.55" width="50.33" height="2.79" fill="#fdb76a"/><rect x="509.57" y="1555.55" width="50.33" height="2.79" fill="#fecd7e"/><rect x="559.6" y="1555.55" width="50.33" height="2.79" fill="#679dc9"/><rect x="609.63" y="1555.55" width="50.33" height="2.79" fill="#d2ecf4"/><rect x="659.67" y="1555.55" width="50.33" height="2.79" fill="#69a0ca"/><rect x="709.7" y="1555.55" width="50.33" height="2.79" fill="#feeca3"/><rect x="759.73" y="1555.55" width="50.33" height="2.79" fill="#fffdbb"/><rect x="809.77" y="1555.55" width="50.33" height="2.79" fill="#f2fad6"/><rect x="409.5" y="1558.04" width="50.33" height="2.79" fill="#f99355"/><rect x="459.53" y="1558.04" width="50.33" height="2.79" fill="#fdb366"/><rect x="509.57" y="1558.04" width="50.33" height="2.79" fill="#fed484"/><rect x="559.6" y="1558.04" width="50.33" height="2.79" fill="#6298c6"/><rect x="609.63" y="1558.04" width="50.33" height="2.79" fill="#d8eff6"/><rect x="659.67" y="1558.04" width="50.33" height="2.79" fill="#689fca"/><rect x="709.7" y="1558.04" width="50.33" height="2.79" fill="#feeda4"/><rect x="759.73" y="1558.04" width="50.33" height="2.79" fill="#fff7b3"/><rect x="809.77" y="1558.04" width="50.33" height="2.79" fill="#f1f9da"/><rect x="409.5" y="1560.52" width="50.33" height="2.79" fill="#fa9c59"/><rect x="459.53" y="1560.52" width="50.33" height="2.79" fill="#fdb164"/><rect x="509.57" y="1560.52" width="50.33" height="2.79" fill="#fed283"/><rect x="559.6" y="1560.52" width="50.33" height="2.79" fill="#6ea6ce"/><rect x="609.63" y="1560.52" width="50.33" height="2.79" fill="#daf0f6"/><rect x="659.67" y="1560.52" width="50.33" height="2.79" fill="#679ec9"/><rect x="709.7" y="1560.52" width="50.33" height="2.79" fill="#feeda4"/><rect x="759.73" y="1560.52" width="50.33" height="2.79" fill="#ffffbf"/><rect x="809.77" y="1560.52" width="50.33" height="2.79" fill="#eff9dc"/><rect x="409.5" y="1563.01" width="50.33" height="2.79" fill="#fa9957"/><rect x="459.53" y="1563.01" width="50.33" height="2.79" fill="#fca75e"/><rect x="509.57" y="1563.01" width="50.33" height="2.79" fill="#fecb7c"/><rect x="559.6" y="1563.01" width="50.33" height="2.79" fill="#598dc1"/><rect x="609.63" y="1563.01" width="50.33" height="2.79" fill="#dcf1f7"/><rect x="659.67" y="1563.01" width="50.33" height="2.79" fill="#6aa1cb"/><rect x="709.7" y="1563.01" width="50.33" height="2.79" fill="#feea9f"/><rect x="759.73" y="1563.01" width="50.33" height="2.79" fill="#fbfdc6"/><rect x="809.77" y="1563.01" width="50.33" height="2.79" fill="#eff9dc"/><rect x="409.5" y="1565.49" width="50.33" height="2.79" fill="#f57647"/><rect x="459.53" y="1565.49" width="50.33" height="2.79" fill="#fdb366"/><rect x="509.57" y="1565.49" width="50.33" height="2.79" fill="#fec879"/><rect x="559.6" y="1565.49" width="50.33" height="2.79" fill="#c1e4ef"/><rect x="609.63" y="1565.49" width="50.33" height="2.79" fill="#91c5de"/><rect x="659.67" y="1565.49" width="50.33" height="2.79" fill="#679ec9"/><rect x="709.7" y="1565.49" width="50.33" height="2.79" fill="#fee497"/><rect x="759.73" y="1565.49" width="50.33" height="2.79" fill="#fffbb8"/><rect x="809.77" y="1565.49" width="50.33" height="2.79" fill="#f4fbd4"/><rect x="409.5" y="1567.98" width="50.33" height="2.79" fill="#ef633e"/><rect x="459.53" y="1567.98" width="50.33" height="2.79" fill="#fca55d"/><rect x="509.57" y="1567.98" width="50.33" height="2.79" fill="#fed081"/><rect x="559.6" y="1567.98" width="50.33" height="2.79" fill="#c3e5f0"/><rect x="609.63" y="1567.98" width="50.33" height="2.79" fill="#86bbd9"/><rect x="659.67" y="1567.98" width="50.33" height="2.79" fill="#659bc8"/><rect x="709.7" y="1567.98" width="50.33" height="2.79" fill="#feeba1"/><rect x="759.73" y="1567.98" width="50.33" height="2.79" fill="#fff8b5"/><rect x="809.77" y="1567.98" width="50.33" height="2.79" fill="#ecf8e2"/><rect x="409.5" y="1570.46" width="50.33" height="2.79" fill="#f47045"/><rect x="459.53" y="1570.46" width="50.33" height="2.79" fill="#fdb76a"/><rect x="509.57" y="1570.46" width="50.33" height="2.79" fill="#fecb7d"/><rect x="559.6" y="1570.46" width="50.33" height="2.79" fill="#7cb3d4"/><rect x="609.63" y="1570.46" width="50.33" height="2.79" fill="#91c4de"/><rect x="659.67" y="1570.46" width="50.33" height="2.79" fill="#5e93c3"/><rect x="709.7" y="1570.46" width="50.33" height="2.79" fill="#fee394"/><rect x="759.73" y="1570.46" width="50.33" height="2.79" fill="#fff8b4"/><rect x="809.77" y="1570.46" width="50.33" height="2.79" fill="#fffbb9"/><rect x="409.5" y="1572.95" width="50.33" height="2.79" fill="#fdbe70"/><rect x="459.53" y="1572.95" width="50.33" height="2.79" fill="#fedc8c"/><rect x="509.57" y="1572.95" width="50.33" height="2.79" fill="#fffab8"/><rect x="559.6" y="1572.95" width="50.33" height="2.79" fill="#6da5cd"/><rect x="609.63" y="1572.95" width="50.33" height="2.79" fill="#6ba2cb"/><rect x="659.67" y="1572.95" width="50.33" height="2.79" fill="#649ac7"/><rect x="709.7" y="1572.95" width="50.33" height="2.79" fill="#fee191"/><rect x="759.73" y="1572.95" width="50.33" height="2.79" fill="#fff7b3"/><rect x="809.77" y="1572.95" width="50.33" height="2.79" fill="#fffbb9"/><rect x="409.5" y="1575.43" width="50.33" height="2.79" fill="#fdc375"/><rect x="459.53" y="1575.43" width="50.33" height="2.79" fill="#fee090"/><rect x="509.57" y="1575.43" width="50.33" height="2.79" fill="#fff5af"/><rect x="559.6" y="1575.43" width="50.33" height="2.79" fill="#73acd0"/><rect x="609.63" y="1575.43" width="50.33" height="2.79" fill="#98cae1"/><rect x="659.67" y="1575.43" width="50.33" height="2.79" fill="#6095c4"/><rect x="709.7" y="1575.43" width="50.33" height="2.79" fill="#feefa6"/><rect x="759.73" y="1575.43" width="50.33" height="2.79" fill="#fff2ab"/><rect x="809.77" y="1575.43" width="50.33" height="2.79" fill="#fffbb9"/><rect x="409.5" y="1577.92" width="50.33" height="2.79" fill="#fdad61"/><rect x="459.53" y="1577.92" width="50.33" height="2.79" fill="#fecc7d"/><rect x="509.57" y="1577.92" width="50.33" height="2.79" fill="#fffab7"/><rect x="559.6" y="1577.92" width="50.33" height="2.79" fill="#7eb5d5"/><rect x="609.63" y="1577.92" width="50.33" height="2.79" fill="#83b9d7"/><rect x="659.67" y="1577.92" width="50.33" height="2.79" fill="#4575b4"/><rect x="709.7" y="1577.92" width="50.33" height="2.79" fill="#fffebd"/><rect x="759.73" y="1577.92" width="50.33" height="2.79" fill="#fafdc9"/><rect x="809.77" y="1577.92" width="50.33" height="2.79" fill="#fbfdc7"/><rect x="409.5" y="1580.4" width="50.33" height="2.79" fill="#fee293"/><rect x="459.53" y="1580.4" width="50.33" height="2.79" fill="#fee89c"/><rect x="509.57" y="1580.4" width="50.33" height="2.79" fill="#feea9f"/><rect x="559.6" y="1580.4" width="50.33" height="2.79" fill="#8dc1dc"/><rect x="609.63" y="1580.4" width="50.33" height="2.79" fill="#82b9d7"/><rect x="659.67" y="1580.4" width="50.33" height="2.79" fill="#4575b4"/><rect x="709.7" y="1580.4" width="50.33" height="2.79" fill="#ffffbf"/><rect x="759.73" y="1580.4" width="50.33" height="2.79" fill="#f8fccd"/><rect x="809.77" y="1580.4" width="50.33" height="2.79" fill="#fff9b6"/><rect x="409.5" y="1582.89" width="50.33" height="2.79" fill="#fedd8e"/><rect x="459.53" y="1582.89" width="50.33" height="2.79" fill="#fee79b"/><rect x="509.57" y="1582.89" width="50.33" height="2.79" fill="#fee99d"/><rect x="559.6" y="1582.89" width="50.33" height="2.79" fill="#75add1"/><rect x="609.63" y="1582.89" width="50.33" height="2.79" fill="#73acd0"/><rect x="659.67" y="1582.89" width="50.33" height="2.79" fill="#4575b4"/><rect x="709.7" y="1582.89" width="50.33" height="2.79" fill="#fff4ae"/><rect x="759.73" y="1582.89" width="50.33" height="2.79" fill="#fffcba"/><rect x="809.77" y="1582.89" width="50.33" height="2.79" fill="#fcfec5"/><rect x="409.5" y="1585.38" width="50.33" height="2.79" fill="#fed485"/><rect x="459.53" y="1585.38" width="50.33" height="2.79" fill="#fee79b"/><rect x="509.57" y="1585.38" width="50.33" height="2.79" fill="#fee597"/><rect x="559.6" y="1585.38" width="50.33" height="2.79" fill="#8cc0db"/><rect x="609.63" y="1585.38" width="50.33" height="2.79" fill="#87bcd9"/><rect x="659.67" y="1585.38" width="50.33" height="2.79" fill="#4575b4"/><rect x="709.7" y="1585.38" width="50.33" height="2.79" fill="#fff6b1"/><rect x="759.73" y="1585.38" width="50.33" height="2.79" fill="#f7fccd"/><rect x="809.77" y="1585.38" width="50.33" height="2.79" fill="#fbfdc7"/><rect x="409.5" y="1587.86" width="50.33" height="2.79" fill="#fee598"/><rect x="459.53" y="1587.86" width="50.33" height="2.79" fill="#fee699"/><rect x="509.57" y="1587.86" width="50.33" height="2.79" fill="#fee79b"/><rect x="559.6" y="1587.86" width="50.33" height="2.79" fill="#4e80b9"/><rect x="609.63" y="1587.86" width="50.33" height="2.79" fill="#cae8f2"/><rect x="659.67" y="1587.86" width="50.33" height="2.79" fill="#4575b4"/><rect x="709.7" y="1587.86" width="50.33" height="2.79" fill="#fff4ae"/><rect x="759.73" y="1587.86" width="50.33" height="2.79" fill="#fff9b7"/><rect x="809.77" y="1587.86" width="50.33" height="2.79" fill="#fbfec6"/><rect x="409.5" y="1590.35" width="50.33" height="2.79" fill="#fee99e"/><rect x="459.53" y="1590.35" width="50.33" height="2.79" fill="#fee99e"/><rect x="509.57" y="1590.35" width="50.33" height="2.79" fill="#fee293"/><rect x="559.6" y="1590.35" width="50.33" height="2.79" fill="#5689bf"/><rect x="609.63" y="1590.35" width="50.33" height="2.79" fill="#bbe1ee"/><rect x="659.67" y="1590.35" width="50.33" height="2.79" fill="#4f80ba"/><rect x="709.7" y="1590.35" width="50.33" height="2.79" fill="#fffbb9"/><rect x="759.73" y="1590.35" width="50.33" height="2.79" fill="#fff7b3"/><rect x="809.77" y="1590.35" width="50.33" height="2.79" fill="#fffab8"/><rect x="409.5" y="1592.83" width="50.33" height="2.79" fill="#fee99d"/><rect x="459.53" y="1592.83" width="50.33" height="2.79" fill="#feeca2"/><rect x="509.57" y="1592.83" width="50.33" height="2.79" fill="#fedb8b"/><rect x="559.6" y="1592.83" width="50.33" height="2.79" fill="#5c91c2"/><rect x="609.63" y="1592.83" width="50.33" height="2.79" fill="#90c4dd"/><rect x="659.67" y="1592.83" width="50.33" height="2.79" fill="#497ab7"/><rect x="709.7" y="1592.83" width="50.33" height="2.79" fill="#fffcbb"/><rect x="759.73" y="1592.83" width="50.33" height="2.79" fill="#feffc1"/><rect x="809.77" y="1592.83" width="50.33" height="2.79" fill="#fff5b0"/><rect x="409.5" y="1595.32" width="50.33" height="2.79" fill="#fed283"/><rect x="459.53" y="1595.32" width="50.33" height="2.79" fill="#fee698"/><rect x="509.57" y="1595.32" width="50.33" height="2.79" fill="#ffffbf"/><rect x="559.6" y="1595.32" width="50.33" height="2.79" fill="#74acd1"/><rect x="609.63" y="1595.32" width="50.33" height="2.79" fill="#96c8e0"/><rect x="659.67" y="1595.32" width="50.33" height="2.79" fill="#649ac7"/><rect x="709.7" y="1595.32" width="50.33" height="2.79" fill="#fee394"/><rect x="759.73" y="1595.32" width="50.33" height="2.79" fill="#feeda4"/><rect x="809.77" y="1595.32" width="50.33" height="2.79" fill="#fffdbc"/><rect x="409.5" y="1597.8" width="50.33" height="2.79" fill="#fece7f"/><rect x="459.53" y="1597.8" width="50.33" height="2.79" fill="#feeca3"/><rect x="509.57" y="1597.8" width="50.33" height="2.79" fill="#fffab7"/><rect x="559.6" y="1597.8" width="50.33" height="2.79" fill="#73acd1"/><rect x="609.63" y="1597.8" width="50.33" height="2.79" fill="#93c6df"/><rect x="659.67" y="1597.8" width="50.33" height="2.79" fill="#6399c7"/><rect x="709.7" y="1597.8" width="50.33" height="2.79" fill="#fee79b"/><rect x="759.73" y="1597.8" width="50.33" height="2.79" fill="#fff2ab"/><rect x="809.77" y="1597.8" width="50.33" height="2.79" fill="#feffc0"/><rect x="409.5" y="1600.29" width="50.33" height="2.79" fill="#fed989"/><rect x="459.53" y="1600.29" width="50.33" height="2.79" fill="#fff8b4"/><rect x="509.57" y="1600.29" width="50.33" height="2.79" fill="#fff8b4"/><rect x="559.6" y="1600.29" width="50.33" height="2.79" fill="#5b8fc2"/><rect x="609.63" y="1600.29" width="50.33" height="2.79" fill="#7db4d5"/><rect x="659.67" y="1600.29" width="50.33" height="2.79" fill="#86bbd9"/><rect x="709.7" y="1600.29" width="50.33" height="2.79" fill="#fedf8f"/><rect x="759.73" y="1600.29" width="50.33" height="2.79" fill="#fff4ae"/><rect x="809.77" y="1600.29" width="50.33" height="2.79" fill="#fffbb9"/><rect x="409.5" y="1602.77" width="50.33" height="2.79" fill="#fed788"/><rect x="459.53" y="1602.77" width="50.33" height="2.79" fill="#fff4ae"/><rect x="509.57" y="1602.77" width="50.33" height="2.79" fill="#fee99d"/><rect x="559.6" y="1602.77" width="50.33" height="2.79" fill="#7cb3d4"/><rect x="609.63" y="1602.77" width="50.33" height="2.79" fill="#568abf"/><rect x="659.67" y="1602.77" width="50.33" height="2.79" fill="#79b1d3"/><rect x="709.7" y="1602.77" width="50.33" height="2.79" fill="#feeaa0"/><rect x="759.73" y="1602.77" width="50.33" height="2.79" fill="#fff8b5"/><rect x="809.77" y="1602.77" width="50.33" height="2.79" fill="#f9fdca"/><rect x="409.5" y="1605.26" width="50.33" height="2.79" fill="#fed98a"/><rect x="459.53" y="1605.26" width="50.33" height="2.79" fill="#fff6b1"/><rect x="509.57" y="1605.26" width="50.33" height="2.79" fill="#fee79b"/><rect x="559.6" y="1605.26" width="50.33" height="2.79" fill="#70a9cf"/><rect x="609.63" y="1605.26" width="50.33" height="2.79" fill="#4f81ba"/><rect x="659.67" y="1605.26" width="50.33" height="2.79" fill="#81b8d7"/><rect x="709.7" y="1605.26" width="50.33" height="2.79" fill="#fee597"/><rect x="759.73" y="1605.26" width="50.33" height="2.79" fill="#fffebd"/><rect x="809.77" y="1605.26" width="50.33" height="2.79" fill="#f1fad9"/><rect x="409.5" y="1607.74" width="50.33" height="2.79" fill="#fecc7d"/><rect x="459.53" y="1607.74" width="50.33" height="2.79" fill="#e9f6e8"/><rect x="509.57" y="1607.74" width="50.33" height="2.79" fill="#feeea5"/><rect x="559.6" y="1607.74" width="50.33" height="2.79" fill="#6da5cd"/><rect x="609.63" y="1607.74" width="50.33" height="2.79" fill="#5487bd"/><rect x="659.67" y="1607.74" width="50.33" height="2.79" fill="#84bad8"/><rect x="709.7" y="1607.74" width="50.33" height="2.79" fill="#fee89c"/><rect x="759.73" y="1607.74" width="50.33" height="2.79" fill="#fff8b5"/><rect x="809.77" y="1607.74" width="50.33" height="2.79" fill="#fbfdc7"/><rect x="409.5" y="1610.23" width="50.33" height="2.79" fill="#fec97a"/><rect x="459.53" y="1610.23" width="50.33" height="2.79" fill="#fee79b"/><rect x="509.57" y="1610.23" width="50.33" height="2.79" fill="#fdac60"/><rect x="559.6" y="1610.23" width="50.33" height="2.79" fill="#fff8b4"/><rect x="609.63" y="1610.23" width="50.33" height="2.79" fill="#fdfec2"/><rect x="659.67" y="1610.23" width="50.33" height="2.79" fill="#fafdc8"/><rect x="709.7" y="1610.23" width="50.33" height="2.79" fill="#83b9d7"/><rect x="759.73" y="1610.23" width="50.33" height="2.79" fill="#679ec9"/><rect x="809.77" y="1610.23" width="50.33" height="2.79" fill="#4575b4"/><rect x="409.5" y="1612.71" width="50.33" height="2.79" fill="#fed081"/><rect x="459.53" y="1612.71" width="50.33" height="2.79" fill="#fee99d"/><rect x="509.57" y="1612.71" width="50.33" height="2.79" fill="#fecc7e"/><rect x="559.6" y="1612.71" width="50.33" height="2.79" fill="#ffffbe"/><rect x="609.63" y="1612.71" width="50.33" height="2.79" fill="#fbfdc6"/><rect x="659.67" y="1612.71" width="50.33" height="2.79" fill="#fff8b4"/><rect x="709.7" y="1612.71" width="50.33" height="2.79" fill="#88bdda"/><rect x="759.73" y="1612.71" width="50.33" height="2.79" fill="#5a8ec1"/><rect x="809.77" y="1612.71" width="50.33" height="2.79" fill="#4575b4"/><rect x="409.5" y="1615.2" width="50.33" height="2.79" fill="#fdb669"/><rect x="459.53" y="1615.2" width="50.33" height="2.79" fill="#feeda3"/><rect x="509.57" y="1615.2" width="50.33" height="2.79" fill="#feca7c"/><rect x="559.6" y="1615.2" width="50.33" height="2.79" fill="#feea9f"/><rect x="609.63" y="1615.2" width="50.33" height="2.79" fill="#fffcba"/><rect x="659.67" y="1615.2" width="50.33" height="2.79" fill="#dbf1f7"/><rect x="709.7" y="1615.2" width="50.33" height="2.79" fill="#7fb6d6"/><rect x="759.73" y="1615.2" width="50.33" height="2.79" fill="#6ea6cd"/><rect x="809.77" y="1615.2" width="50.33" height="2.79" fill="#6ba2cb"/><rect x="409.5" y="1617.69" width="50.33" height="2.79" fill="#fed283"/><rect x="459.53" y="1617.69" width="50.33" height="2.79" fill="#fee69a"/><rect x="509.57" y="1617.69" width="50.33" height="2.79" fill="#fed383"/><rect x="559.6" y="1617.69" width="50.33" height="2.79" fill="#fee395"/><rect x="609.63" y="1617.69" width="50.33" height="2.79" fill="#fffdbd"/><rect x="659.67" y="1617.69" width="50.33" height="2.79" fill="#ebf7e4"/><rect x="709.7" y="1617.69" width="50.33" height="2.79" fill="#92c5de"/><rect x="759.73" y="1617.69" width="50.33" height="2.79" fill="#6aa1cb"/><rect x="809.77" y="1617.69" width="50.33" height="2.79" fill="#6da5cd"/><rect x="409.5" y="1620.17" width="50.33" height="2.79" fill="#fed888"/><rect x="459.53" y="1620.17" width="50.33" height="2.79" fill="#feeea6"/><rect x="509.57" y="1620.17" width="50.33" height="2.79" fill="#fed485"/><rect x="559.6" y="1620.17" width="50.33" height="2.79" fill="#feeca2"/><rect x="609.63" y="1620.17" width="50.33" height="2.79" fill="#fcfec5"/><rect x="659.67" y="1620.17" width="50.33" height="2.79" fill="#dcf1f7"/><rect x="709.7" y="1620.17" width="50.33" height="2.79" fill="#77afd2"/><rect x="759.73" y="1620.17" width="50.33" height="2.79" fill="#6ba2cb"/><rect x="809.77" y="1620.17" width="50.33" height="2.79" fill="#6297c6"/><rect x="409.5" y="1622.66" width="50.33" height="2.79" fill="#fec779"/><rect x="459.53" y="1622.66" width="50.33" height="2.79" fill="#fdb96b"/><rect x="509.57" y="1622.66" width="50.33" height="2.79" fill="#fed788"/><rect x="559.6" y="1622.66" width="50.33" height="2.79" fill="#fffbb9"/><rect x="609.63" y="1622.66" width="50.33" height="2.79" fill="#fee99e"/><rect x="659.67" y="1622.66" width="50.33" height="2.79" fill="#def2f7"/><rect x="709.7" y="1622.66" width="50.33" height="2.79" fill="#82b8d7"/><rect x="759.73" y="1622.66" width="50.33" height="2.79" fill="#5d92c3"/><rect x="809.77" y="1622.66" width="50.33" height="2.79" fill="#649ac7"/><rect x="409.5" y="1625.14" width="50.33" height="2.79" fill="#fecf80"/><rect x="459.53" y="1625.14" width="50.33" height="2.79" fill="#fdb76a"/><rect x="509.57" y="1625.14" width="50.33" height="2.79" fill="#fec97a"/><rect x="559.6" y="1625.14" width="50.33" height="2.79" fill="#fffebd"/><rect x="609.63" y="1625.14" width="50.33" height="2.79" fill="#fffdbc"/><rect x="659.67" y="1625.14" width="50.33" height="2.79" fill="#aad8e9"/><rect x="709.7" y="1625.14" width="50.33" height="2.79" fill="#82b8d7"/><rect x="759.73" y="1625.14" width="50.33" height="2.79" fill="#a0d0e4"/><rect x="809.77" y="1625.14" width="50.33" height="2.79" fill="#5c91c2"/><rect x="409.5" y="1627.63" width="50.33" height="2.79" fill="#fa9b58"/><rect x="459.53" y="1627.63" width="50.33" height="2.79" fill="#fec87a"/><rect x="509.57" y="1627.63" width="50.33" height="2.79" fill="#fed081"/><rect x="559.6" y="1627.63" width="50.33" height="2.79" fill="#fff6b2"/><rect x="609.63" y="1627.63" width="50.33" height="2.79" fill="#fff6b2"/><rect x="659.67" y="1627.63" width="50.33" height="2.79" fill="#bce1ee"/><rect x="709.7" y="1627.63" width="50.33" height="2.79" fill="#6ba2cc"/><rect x="759.73" y="1627.63" width="50.33" height="2.79" fill="#9acce2"/><rect x="809.77" y="1627.63" width="50.33" height="2.79" fill="#679ec9"/><rect x="409.5" y="1630.11" width="50.33" height="2.79" fill="#f8884f"/><rect x="459.53" y="1630.11" width="50.33" height="2.79" fill="#fb9c59"/><rect x="509.57" y="1630.11" width="50.33" height="2.79" fill="#fed788"/><rect x="559.6" y="1630.11" width="50.33" height="2.79" fill="#fcfec4"/><rect x="609.63" y="1630.11" width="50.33" height="2.79" fill="#fff8b5"/><rect x="659.67" y="1630.11" width="50.33" height="2.79" fill="#feeda3"/><rect x="709.7" y="1630.11" width="50.33" height="2.79" fill="#89beda"/><rect x="759.73" y="1630.11" width="50.33" height="2.79" fill="#8dc1dc"/><rect x="809.77" y="1630.11" width="50.33" height="2.79" fill="#659bc8"/><rect x="409.5" y="1632.6" width="50.33" height="2.79" fill="#f7844e"/><rect x="459.53" y="1632.6" width="50.33" height="2.79" fill="#fecc7d"/><rect x="509.57" y="1632.6" width="50.33" height="2.79" fill="#fed182"/><rect x="559.6" y="1632.6" width="50.33" height="2.79" fill="#feffc1"/><rect x="609.63" y="1632.6" width="50.33" height="2.79" fill="#e2f4f4"/><rect x="659.67" y="1632.6" width="50.33" height="2.79" fill="#fff4ae"/><rect x="709.7" y="1632.6" width="50.33" height="2.79" fill="#7bb3d4"/><rect x="759.73" y="1632.6" width="50.33" height="2.79" fill="#8cc0db"/><rect x="809.77" y="1632.6" width="50.33" height="2.79" fill="#5b8fc1"/><rect x="409.5" y="1635.08" width="50.33" height="2.79" fill="#f8874f"/><rect x="459.53" y="1635.08" width="50.33" height="2.79" fill="#fece7f"/><rect x="509.57" y="1635.08" width="50.33" height="2.79" fill="#fec879"/><rect x="559.6" y="1635.08" width="50.33" height="2.79" fill="#fdfec2"/><rect x="609.63" y="1635.08" width="50.33" height="2.79" fill="#e1f3f6"/><rect x="659.67" y="1635.08" width="50.33" height="2.79" fill="#fedd8d"/><rect x="709.7" y="1635.08" width="50.33" height="2.79" fill="#7db4d5"/><rect x="759.73" y="1635.08" width="50.33" height="2.79" fill="#d6eef5"/><rect x="809.77" y="1635.08" width="50.33" height="2.79" fill="#6ba2cb"/><rect x="409.5" y="1637.57" width="50.33" height="2.79" fill="#f7804c"/><rect x="459.53" y="1637.57" width="50.33" height="2.79" fill="#fee69a"/><rect x="509.57" y="1637.57" width="50.33" height="2.79" fill="#feeba1"/><rect x="559.6" y="1637.57" width="50.33" height="2.79" fill="#fff0a9"/><rect x="609.63" y="1637.57" width="50.33" height="2.79" fill="#eef8de"/><rect x="659.67" y="1637.57" width="50.33" height="2.79" fill="#fff4af"/><rect x="709.7" y="1637.57" width="50.33" height="2.79" fill="#87bdd9"/><rect x="759.73" y="1637.57" width="50.33" height="2.79" fill="#689fc9"/><rect x="809.77" y="1637.57" width="50.33" height="2.79" fill="#5f94c4"/><rect x="409.5" y="1640.05" width="50.33" height="2.79" fill="#fdc072"/><rect x="459.53" y="1640.05" width="50.33" height="2.79" fill="#fee192"/><rect x="509.57" y="1640.05" width="50.33" height="2.79" fill="#fee99d"/><rect x="559.6" y="1640.05" width="50.33" height="2.79" fill="#fff0a8"/><rect x="609.63" y="1640.05" width="50.33" height="2.79" fill="#acd9e9"/><rect x="659.67" y="1640.05" width="50.33" height="2.79" fill="#feffc1"/><rect x="709.7" y="1640.05" width="50.33" height="2.79" fill="#8abeda"/><rect x="759.73" y="1640.05" width="50.33" height="2.79" fill="#6aa1cb"/><rect x="809.77" y="1640.05" width="50.33" height="2.79" fill="#5b8fc1"/><rect x="409.5" y="1642.54" width="50.33" height="2.79" fill="#fdbf71"/><rect x="459.53" y="1642.54" width="50.33" height="2.79" fill="#fee497"/><rect x="509.57" y="1642.54" width="50.33" height="2.79" fill="#feeca2"/><rect x="559.6" y="1642.54" width="50.33" height="2.79" fill="#fff0a8"/><rect x="609.63" y="1642.54" width="50.33" height="2.79" fill="#f2fad7"/><rect x="659.67" y="1642.54" width="50.33" height="2.79" fill="#fff4af"/><rect x="709.7" y="1642.54" width="50.33" height="2.79" fill="#4575b4"/><rect x="759.73" y="1642.54" width="50.33" height="2.79" fill="#6197c6"/><rect x="809.77" y="1642.54" width="50.33" height="2.79" fill="#6398c6"/><rect x="409.5" y="1645.03" width="50.33" height="2.79" fill="#fecc7d"/><rect x="459.53" y="1645.03" width="50.33" height="2.79" fill="#fed888"/><rect x="509.57" y="1645.03" width="50.33" height="2.79" fill="#fff0a8"/><rect x="559.6" y="1645.03" width="50.33" height="2.79" fill="#fee395"/><rect x="609.63" y="1645.03" width="50.33" height="2.79" fill="#eff9dd"/><rect x="659.67" y="1645.03" width="50.33" height="2.79" fill="#fff3ad"/><rect x="709.7" y="1645.03" width="50.33" height="2.79" fill="#4575b4"/><rect x="759.73" y="1645.03" width="50.33" height="2.79" fill="#6298c6"/><rect x="809.77" y="1645.03" width="50.33" height="2.79" fill="#6298c6"/><rect x="409.5" y="1647.51" width="50.33" height="2.79" fill="#fecd7e"/><rect x="459.53" y="1647.51" width="50.33" height="2.79" fill="#fee597"/><rect x="509.57" y="1647.51" width="50.33" height="2.79" fill="#feefa7"/><rect x="559.6" y="1647.51" width="50.33" height="2.79" fill="#feeca3"/><rect x="609.63" y="1647.51" width="50.33" height="2.79" fill="#fdfec3"/><rect x="659.67" y="1647.51" width="50.33" height="2.79" fill="#fff2ab"/><rect x="709.7" y="1647.51" width="50.33" height="2.79" fill="#4575b4"/><rect x="759.73" y="1647.51" width="50.33" height="2.79" fill="#6095c5"/><rect x="809.77" y="1647.51" width="50.33" height="2.79" fill="#5e93c3"/><rect x="409.5" y="1650" width="50.33" height="2.79" fill="#fee79b"/><rect x="459.53" y="1650" width="50.33" height="2.79" fill="#fff1aa"/><rect x="509.57" y="1650" width="50.33" height="2.79" fill="#fee79b"/><rect x="559.6" y="1650" width="50.33" height="2.79" fill="#fffcbb"/><rect x="609.63" y="1650" width="50.33" height="2.79" fill="#fdfec4"/><rect x="659.67" y="1650" width="50.33" height="2.79" fill="#fefec2"/><rect x="709.7" y="1650" width="50.33" height="2.79" fill="#70a8ce"/><rect x="759.73" y="1650" width="50.33" height="2.79" fill="#659cc8"/><rect x="809.77" y="1650" width="50.33" height="2.79" fill="#5b8fc1"/><rect x="409.5" y="1652.48" width="50.33" height="2.79" fill="#fff5b0"/><rect x="459.53" y="1652.48" width="50.33" height="2.79" fill="#fee598"/><rect x="509.57" y="1652.48" width="50.33" height="2.79" fill="#fdc778"/><rect x="559.6" y="1652.48" width="50.33" height="2.79" fill="#fffebd"/><rect x="609.63" y="1652.48" width="50.33" height="2.79" fill="#f4fbd2"/><rect x="659.67" y="1652.48" width="50.33" height="2.79" fill="#fff3ad"/><rect x="709.7" y="1652.48" width="50.33" height="2.79" fill="#6398c6"/><rect x="759.73" y="1652.48" width="50.33" height="2.79" fill="#6ba2cb"/><rect x="809.77" y="1652.48" width="50.33" height="2.79" fill="#5b8fc1"/><rect x="409.5" y="1654.97" width="50.33" height="2.79" fill="#fff2ac"/><rect x="459.53" y="1654.97" width="50.33" height="2.79" fill="#fee69a"/><rect x="509.57" y="1654.97" width="50.33" height="2.79" fill="#fdc374"/><rect x="559.6" y="1654.97" width="50.33" height="2.79" fill="#fffebd"/><rect x="609.63" y="1654.97" width="50.33" height="2.79" fill="#eff9dc"/><rect x="659.67" y="1654.97" width="50.33" height="2.79" fill="#ffffc0"/><rect x="709.7" y="1654.97" width="50.33" height="2.79" fill="#6ba3cc"/><rect x="759.73" y="1654.97" width="50.33" height="2.79" fill="#69a0ca"/><rect x="809.77" y="1654.97" width="50.33" height="2.79" fill="#5e92c3"/><rect x="409.5" y="1657.45" width="50.33" height="2.79" fill="#fff2ab"/><rect x="459.53" y="1657.45" width="50.33" height="2.79" fill="#fee99d"/><rect x="509.57" y="1657.45" width="50.33" height="2.79" fill="#fdc374"/><rect x="559.6" y="1657.45" width="50.33" height="2.79" fill="#fff5af"/><rect x="609.63" y="1657.45" width="50.33" height="2.79" fill="#f7fcce"/><rect x="659.67" y="1657.45" width="50.33" height="2.79" fill="#fffebd"/><rect x="709.7" y="1657.45" width="50.33" height="2.79" fill="#80b6d6"/><rect x="759.73" y="1657.45" width="50.33" height="2.79" fill="#6ea6cd"/><rect x="809.77" y="1657.45" width="50.33" height="2.79" fill="#6196c5"/><rect x="409.5" y="1659.94" width="50.33" height="2.79" fill="#fee496"/><rect x="459.53" y="1659.94" width="50.33" height="2.79" fill="#fff1aa"/><rect x="509.57" y="1659.94" width="50.33" height="2.79" fill="#fee699"/><rect x="559.6" y="1659.94" width="50.33" height="2.79" fill="#fffcba"/><rect x="609.63" y="1659.94" width="50.33" height="2.79" fill="#fafdc7"/><rect x="659.67" y="1659.94" width="50.33" height="2.79" fill="#fff4ae"/><rect x="709.7" y="1659.94" width="50.33" height="2.79" fill="#8bc0db"/><rect x="759.73" y="1659.94" width="50.33" height="2.79" fill="#4575b4"/><rect x="809.77" y="1659.94" width="50.33" height="2.79" fill="#6ca3cc"/><rect x="409.5" y="1662.42" width="50.33" height="2.79" fill="#fee89c"/><rect x="459.53" y="1662.42" width="50.33" height="2.79" fill="#fee597"/><rect x="509.57" y="1662.42" width="50.33" height="2.79" fill="#feeea5"/><rect x="559.6" y="1662.42" width="50.33" height="2.79" fill="#fffebd"/><rect x="609.63" y="1662.42" width="50.33" height="2.79" fill="#fafdc8"/><rect x="659.67" y="1662.42" width="50.33" height="2.79" fill="#fffbb9"/><rect x="709.7" y="1662.42" width="50.33" height="2.79" fill="#82b9d7"/><rect x="759.73" y="1662.42" width="50.33" height="2.79" fill="#4575b4"/><rect x="809.77" y="1662.42" width="50.33" height="2.79" fill="#5285bc"/><rect x="409.5" y="1664.91" width="50.33" height="2.79" fill="#feefa6"/><rect x="459.53" y="1664.91" width="50.33" height="2.79" fill="#feea9f"/><rect x="509.57" y="1664.91" width="50.33" height="2.79" fill="#feeba1"/><rect x="559.6" y="1664.91" width="50.33" height="2.79" fill="#fff9b6"/><rect x="609.63" y="1664.91" width="50.33" height="2.79" fill="#def2f7"/><rect x="659.67" y="1664.91" width="50.33" height="2.79" fill="#fff6b2"/><rect x="709.7" y="1664.91" width="50.33" height="2.79" fill="#94c6df"/><rect x="759.73" y="1664.91" width="50.33" height="2.79" fill="#4575b4"/><rect x="809.77" y="1664.91" width="50.33" height="2.79" fill="#4c7db8"/><rect x="409.5" y="1667.39" width="50.33" height="2.79" fill="#fff6b2"/><rect x="459.53" y="1667.39" width="50.33" height="2.79" fill="#fffebe"/><rect x="509.57" y="1667.39" width="50.33" height="2.79" fill="#fee79a"/><rect x="559.6" y="1667.39" width="50.33" height="2.79" fill="#fee192"/><rect x="609.63" y="1667.39" width="50.33" height="2.79" fill="#fec97a"/><rect x="659.67" y="1667.39" width="50.33" height="2.79" fill="#feeda3"/><rect x="709.7" y="1667.39" width="50.33" height="2.79" fill="#8bc0db"/><rect x="759.73" y="1667.39" width="50.33" height="2.79" fill="#4575b4"/><rect x="809.77" y="1667.39" width="50.33" height="2.79" fill="#5183bb"/><rect x="409.5" y="1669.88" width="50.33" height="2.79" fill="#fff9b6"/><rect x="459.53" y="1669.88" width="50.33" height="2.79" fill="#fbfdc7"/><rect x="509.57" y="1669.88" width="50.33" height="2.79" fill="#f2fad7"/><rect x="559.6" y="1669.88" width="50.33" height="2.79" fill="#fede8e"/><rect x="609.63" y="1669.88" width="50.33" height="2.79" fill="#feeca2"/><rect x="659.67" y="1669.88" width="50.33" height="2.79" fill="#fff9b6"/><rect x="709.7" y="1669.88" width="50.33" height="2.79" fill="#85bad8"/><rect x="759.73" y="1669.88" width="50.33" height="2.79" fill="#6aa1cb"/><rect x="809.77" y="1669.88" width="50.33" height="2.79" fill="#4576b4"/><rect x="409.5" y="1672.36" width="50.33" height="2.79" fill="#ffffc0"/><rect x="459.53" y="1672.36" width="50.33" height="2.79" fill="#fff9b6"/><rect x="509.57" y="1672.36" width="50.33" height="2.79" fill="#feefa7"/><rect x="559.6" y="1672.36" width="50.33" height="2.79" fill="#fee293"/><rect x="609.63" y="1672.36" width="50.33" height="2.79" fill="#fee699"/><rect x="659.67" y="1672.36" width="50.33" height="2.79" fill="#fff2ac"/><rect x="709.7" y="1672.36" width="50.33" height="2.79" fill="#4a7bb7"/><rect x="759.73" y="1672.36" width="50.33" height="2.79" fill="#4575b4"/><rect x="809.77" y="1672.36" width="50.33" height="2.79" fill="#4778b5"/><rect x="409.5" y="1674.85" width="50.33" height="2.79" fill="#eaf7e6"/><rect x="459.53" y="1674.85" width="50.33" height="2.79" fill="#fff9b6"/><rect x="509.57" y="1674.85" width="50.33" height="2.79" fill="#fff1aa"/><rect x="559.6" y="1674.85" width="50.33" height="2.79" fill="#fee090"/><rect x="609.63" y="1674.85" width="50.33" height="2.79" fill="#fee89b"/><rect x="659.67" y="1674.85" width="50.33" height="2.79" fill="#fff3ad"/><rect x="709.7" y="1674.85" width="50.33" height="2.79" fill="#4575b4"/><rect x="759.73" y="1674.85" width="50.33" height="2.79" fill="#4575b4"/><rect x="809.77" y="1674.85" width="50.33" height="2.79" fill="#4e80ba"/><rect x="409.5" y="1677.34" width="50.33" height="2.79" fill="#ffffbf"/><rect x="459.53" y="1677.34" width="50.33" height="2.79" fill="#fffbb9"/><rect x="509.57" y="1677.34" width="50.33" height="2.79" fill="#fee598"/><rect x="559.6" y="1677.34" width="50.33" height="2.79" fill="#fee090"/><rect x="609.63" y="1677.34" width="50.33" height="2.79" fill="#fee69a"/><rect x="659.67" y="1677.34" width="50.33" height="2.79" fill="#fff0a8"/><rect x="709.7" y="1677.34" width="50.33" height="2.79" fill="#689ec9"/><rect x="759.73" y="1677.34" width="50.33" height="2.79" fill="#6aa1cb"/><rect x="809.77" y="1677.34" width="50.33" height="2.79" fill="#5a8ec1"/><rect x="409.5" y="1679.82" width="50.33" height="2.79" fill="#fffbb9"/><rect x="459.53" y="1679.82" width="50.33" height="2.79" fill="#fffdbd"/><rect x="509.57" y="1679.82" width="50.33" height="2.79" fill="#fee598"/><rect x="559.6" y="1679.82" width="50.33" height="2.79" fill="#fed787"/><rect x="609.63" y="1679.82" width="50.33" height="2.79" fill="#fee99e"/><rect x="659.67" y="1679.82" width="50.33" height="2.79" fill="#feeda3"/><rect x="709.7" y="1679.82" width="50.33" height="2.79" fill="#76aed2"/><rect x="759.73" y="1679.82" width="50.33" height="2.79" fill="#5f94c4"/><rect x="809.77" y="1679.82" width="50.33" height="2.79" fill="#4a7bb7"/><rect x="409.5" y="1682.31" width="50.33" height="2.79" fill="#fffcba"/><rect x="459.53" y="1682.31" width="50.33" height="2.79" fill="#fffdbc"/><rect x="509.57" y="1682.31" width="50.33" height="2.79" fill="#fee395"/><rect x="559.6" y="1682.31" width="50.33" height="2.79" fill="#fed081"/><rect x="609.63" y="1682.31" width="50.33" height="2.79" fill="#fff3ad"/><rect x="659.67" y="1682.31" width="50.33" height="2.79" fill="#fffebd"/><rect x="709.7" y="1682.31" width="50.33" height="2.79" fill="#77b0d3"/><rect x="759.73" y="1682.31" width="50.33" height="2.79" fill="#4575b4"/><rect x="809.77" y="1682.31" width="50.33" height="2.79" fill="#5083bb"/><rect x="409.5" y="1684.79" width="50.33" height="2.79" fill="#ebf7e3"/><rect x="459.53" y="1684.79" width="50.33" height="2.79" fill="#fff6b1"/><rect x="509.57" y="1684.79" width="50.33" height="2.79" fill="#feeea5"/><rect x="559.6" y="1684.79" width="50.33" height="2.79" fill="#fffab8"/><rect x="609.63" y="1684.79" width="50.33" height="2.79" fill="#fff7b3"/><rect x="659.67" y="1684.79" width="50.33" height="2.79" fill="#fafdc9"/><rect x="709.7" y="1684.79" width="50.33" height="2.79" fill="#70a8ce"/><rect x="759.73" y="1684.79" width="50.33" height="2.79" fill="#4d7eb9"/><rect x="809.77" y="1684.79" width="50.33" height="2.79" fill="#4f80ba"/><rect x="409.5" y="1687.28" width="50.33" height="2.79" fill="#e4f5f0"/><rect x="459.53" y="1687.28" width="50.33" height="2.79" fill="#fbfdc7"/><rect x="509.57" y="1687.28" width="50.33" height="2.79" fill="#fff0a8"/><rect x="559.6" y="1687.28" width="50.33" height="2.79" fill="#fff2ac"/><rect x="609.63" y="1687.28" width="50.33" height="2.79" fill="#fff5b0"/><rect x="659.67" y="1687.28" width="50.33" height="2.79" fill="#fffcba"/><rect x="709.7" y="1687.28" width="50.33" height="2.79" fill="#72abd0"/><rect x="759.73" y="1687.28" width="50.33" height="2.79" fill="#5d92c3"/><rect x="809.77" y="1687.28" width="50.33" height="2.79" fill="#598dc0"/><rect x="409.5" y="1689.76" width="50.33" height="2.79" fill="#fed889"/><rect x="459.53" y="1689.76" width="50.33" height="2.79" fill="#fffdbc"/><rect x="509.57" y="1689.76" width="50.33" height="2.79" fill="#fff7b3"/><rect x="559.6" y="1689.76" width="50.33" height="2.79" fill="#fec879"/><rect x="609.63" y="1689.76" width="50.33" height="2.79" fill="#fffdbb"/><rect x="659.67" y="1689.76" width="50.33" height="2.79" fill="#fff7b2"/><rect x="709.7" y="1689.76" width="50.33" height="2.79" fill="#85bbd8"/><rect x="759.73" y="1689.76" width="50.33" height="2.79" fill="#6095c5"/><rect x="809.77" y="1689.76" width="50.33" height="2.79" fill="#5385bd"/><rect x="409.5" y="1692.25" width="50.33" height="2.79" fill="#fee597"/><rect x="459.53" y="1692.25" width="50.33" height="2.79" fill="#fff6b1"/><rect x="509.57" y="1692.25" width="50.33" height="2.79" fill="#fffab8"/><rect x="559.6" y="1692.25" width="50.33" height="2.79" fill="#fdb86a"/><rect x="609.63" y="1692.25" width="50.33" height="2.79" fill="#fcfec5"/><rect x="659.67" y="1692.25" width="50.33" height="2.79" fill="#fed787"/><rect x="709.7" y="1692.25" width="50.33" height="2.79" fill="#88bdda"/><rect x="759.73" y="1692.25" width="50.33" height="2.79" fill="#4e7fb9"/><rect x="809.77" y="1692.25" width="50.33" height="2.79" fill="#5285bc"/><rect x="409.5" y="1694.73" width="50.33" height="2.79" fill="#fed787"/><rect x="459.53" y="1694.73" width="50.33" height="2.79" fill="#fff6b2"/><rect x="509.57" y="1694.73" width="50.33" height="2.79" fill="#fffdbc"/><rect x="559.6" y="1694.73" width="50.33" height="2.79" fill="#fee597"/><rect x="609.63" y="1694.73" width="50.33" height="2.79" fill="#ffffbf"/><rect x="659.67" y="1694.73" width="50.33" height="2.79" fill="#feda8b"/><rect x="709.7" y="1694.73" width="50.33" height="2.79" fill="#5a8ec1"/><rect x="759.73" y="1694.73" width="50.33" height="2.79" fill="#4e80ba"/><rect x="809.77" y="1694.73" width="50.33" height="2.79" fill="#4b7db8"/><rect x="409.5" y="1697.22" width="50.33" height="2.79" fill="#fee294"/><rect x="459.53" y="1697.22" width="50.33" height="2.79" fill="#fff9b7"/><rect x="509.57" y="1697.22" width="50.33" height="2.79" fill="#fffdbc"/><rect x="559.6" y="1697.22" width="50.33" height="2.79" fill="#feeaa0"/><rect x="609.63" y="1697.22" width="50.33" height="2.79" fill="#ffffbe"/><rect x="659.67" y="1697.22" width="50.33" height="2.79" fill="#feca7b"/><rect x="709.7" y="1697.22" width="50.33" height="2.79" fill="#659bc8"/><rect x="759.73" y="1697.22" width="50.33" height="2.79" fill="#588bc0"/><rect x="809.77" y="1697.22" width="50.33" height="2.79" fill="#4575b4"/><rect x="409.5" y="1699.7" width="50.33" height="2.79" fill="#fee598"/><rect x="459.53" y="1699.7" width="50.33" height="2.79" fill="#fff3ad"/><rect x="509.57" y="1699.7" width="50.33" height="2.79" fill="#f8fccb"/><rect x="559.6" y="1699.7" width="50.33" height="2.79" fill="#fee495"/><rect x="609.63" y="1699.7" width="50.33" height="2.79" fill="#fffebd"/><rect x="659.67" y="1699.7" width="50.33" height="2.79" fill="#fed384"/><rect x="709.7" y="1699.7" width="50.33" height="2.79" fill="#5e93c4"/><rect x="759.73" y="1699.7" width="50.33" height="2.79" fill="#7db4d5"/><rect x="809.77" y="1699.7" width="50.33" height="2.79" fill="#4575b4"/><rect x="409.5" y="1702.19" width="50.33" height="2.79" fill="#fee191"/><rect x="459.53" y="1702.19" width="50.33" height="2.79" fill="#fff8b4"/><rect x="509.57" y="1702.19" width="50.33" height="2.79" fill="#fafdc8"/><rect x="559.6" y="1702.19" width="50.33" height="2.79" fill="#feeba1"/><rect x="609.63" y="1702.19" width="50.33" height="2.79" fill="#fdfec3"/><rect x="659.67" y="1702.19" width="50.33" height="2.79" fill="#fec97b"/><rect x="709.7" y="1702.19" width="50.33" height="2.79" fill="#5d91c3"/><rect x="759.73" y="1702.19" width="50.33" height="2.79" fill="#86bbd9"/><rect x="809.77" y="1702.19" width="50.33" height="2.79" fill="#4575b4"/><rect x="409.5" y="1704.67" width="50.33" height="2.79" fill="#fee496"/><rect x="459.53" y="1704.67" width="50.33" height="2.79" fill="#feefa7"/><rect x="509.57" y="1704.67" width="50.33" height="2.79" fill="#fff6b2"/><rect x="559.6" y="1704.67" width="50.33" height="2.79" fill="#fee090"/><rect x="609.63" y="1704.67" width="50.33" height="2.79" fill="#fafdc9"/><rect x="659.67" y="1704.67" width="50.33" height="2.79" fill="#fff4ae"/><rect x="709.7" y="1704.67" width="50.33" height="2.79" fill="#6ba2cb"/><rect x="759.73" y="1704.67" width="50.33" height="2.79" fill="#82b9d7"/><rect x="809.77" y="1704.67" width="50.33" height="2.79" fill="#4575b4"/><rect x="409.5" y="1707.16" width="50.33" height="2.79" fill="#fff8b4"/><rect x="459.53" y="1707.16" width="50.33" height="2.79" fill="#fff7b3"/><rect x="509.57" y="1707.16" width="50.33" height="2.79" fill="#fff0a8"/><rect x="559.6" y="1707.16" width="50.33" height="2.79" fill="#feea9f"/><rect x="609.63" y="1707.16" width="50.33" height="2.79" fill="#e7f6eb"/><rect x="659.67" y="1707.16" width="50.33" height="2.79" fill="#fee79a"/><rect x="709.7" y="1707.16" width="50.33" height="2.79" fill="#689fca"/><rect x="759.73" y="1707.16" width="50.33" height="2.79" fill="#7bb3d4"/><rect x="809.77" y="1707.16" width="50.33" height="2.79" fill="#4575b4"/><rect x="409.5" y="1709.65" width="50.33" height="2.79" fill="#fff9b5"/><rect x="459.53" y="1709.65" width="50.33" height="2.79" fill="#fff4ae"/><rect x="509.57" y="1709.65" width="50.33" height="2.79" fill="#fff2ab"/><rect x="559.6" y="1709.65" width="50.33" height="2.79" fill="#fede8e"/><rect x="609.63" y="1709.65" width="50.33" height="2.79" fill="#f0f9db"/><rect x="659.67" y="1709.65" width="50.33" height="2.79" fill="#feeda4"/><rect x="709.7" y="1709.65" width="50.33" height="2.79" fill="#7cb3d4"/><rect x="759.73" y="1709.65" width="50.33" height="2.79" fill="#4575b4"/><rect x="809.77" y="1709.65" width="50.33" height="2.79" fill="#5c91c2"/><rect x="409.5" y="1712.13" width="50.33" height="2.79" fill="#fff7b2"/><rect x="459.53" y="1712.13" width="50.33" height="2.79" fill="#fff2ab"/><rect x="509.57" y="1712.13" width="50.33" height="2.79" fill="#fff0a9"/><rect x="559.6" y="1712.13" width="50.33" height="2.79" fill="#fedd8d"/><rect x="609.63" y="1712.13" width="50.33" height="2.79" fill="#e6f5ee"/><rect x="659.67" y="1712.13" width="50.33" height="2.79" fill="#fee89c"/><rect x="709.7" y="1712.13" width="50.33" height="2.79" fill="#6aa1cb"/><rect x="759.73" y="1712.13" width="50.33" height="2.79" fill="#4575b4"/><rect x="809.77" y="1712.13" width="50.33" height="2.79" fill="#588cc0"/><rect x="409.5" y="1714.62" width="50.33" height="2.79" fill="#fff6b2"/><rect x="459.53" y="1714.62" width="50.33" height="2.79" fill="#feefa7"/><rect x="509.57" y="1714.62" width="50.33" height="2.79" fill="#fff2ac"/><rect x="559.6" y="1714.62" width="50.33" height="2.79" fill="#fee598"/><rect x="609.63" y="1714.62" width="50.33" height="2.79" fill="#eff9dc"/><rect x="659.67" y="1714.62" width="50.33" height="2.79" fill="#fee89c"/><rect x="709.7" y="1714.62" width="50.33" height="2.79" fill="#78b0d3"/><rect x="759.73" y="1714.62" width="50.33" height="2.79" fill="#4d7fb9"/><rect x="809.77" y="1714.62" width="50.33" height="2.79" fill="#5588be"/><rect x="409.5" y="1717.1" width="50.33" height="2.79" fill="#fdc375"/><rect x="459.53" y="1717.1" width="50.33" height="2.79" fill="#fff3ad"/><rect x="509.57" y="1717.1" width="50.33" height="2.79" fill="#f9fdcb"/><rect x="559.6" y="1717.1" width="50.33" height="2.79" fill="#eaf7e6"/><rect x="609.63" y="1717.1" width="50.33" height="2.79" fill="#fee090"/><rect x="659.67" y="1717.1" width="50.33" height="2.79" fill="#feefa7"/><rect x="709.7" y="1717.1" width="50.33" height="2.79" fill="#71aacf"/><rect x="759.73" y="1717.1" width="50.33" height="2.79" fill="#578abf"/><rect x="809.77" y="1717.1" width="50.33" height="2.79" fill="#5e93c4"/><rect x="409.5" y="1719.59" width="50.33" height="2.79" fill="#fed788"/><rect x="459.53" y="1719.59" width="50.33" height="2.79" fill="#fff7b3"/><rect x="509.57" y="1719.59" width="50.33" height="2.79" fill="#f7fcce"/><rect x="559.6" y="1719.59" width="50.33" height="2.79" fill="#e8f6e9"/><rect x="609.63" y="1719.59" width="50.33" height="2.79" fill="#fee69a"/><rect x="659.67" y="1719.59" width="50.33" height="2.79" fill="#feeca3"/><rect x="709.7" y="1719.59" width="50.33" height="2.79" fill="#78b0d3"/><rect x="759.73" y="1719.59" width="50.33" height="2.79" fill="#4777b5"/><rect x="809.77" y="1719.59" width="50.33" height="2.79" fill="#6095c5"/><rect x="409.5" y="1722.07" width="50.33" height="2.79" fill="#fedb8c"/><rect x="459.53" y="1722.07" width="50.33" height="2.79" fill="#fff1aa"/><rect x="509.57" y="1722.07" width="50.33" height="2.79" fill="#fffdbc"/><rect x="559.6" y="1722.07" width="50.33" height="2.79" fill="#fff5b1"/><rect x="609.63" y="1722.07" width="50.33" height="2.79" fill="#fffebd"/><rect x="659.67" y="1722.07" width="50.33" height="2.79" fill="#fee598"/><rect x="709.7" y="1722.07" width="50.33" height="2.79" fill="#4d7eb9"/><rect x="759.73" y="1722.07" width="50.33" height="2.79" fill="#4575b4"/><rect x="809.77" y="1722.07" width="50.33" height="2.79" fill="#87bcd9"/><rect x="409.5" y="1724.56" width="50.33" height="2.79" fill="#fed686"/><rect x="459.53" y="1724.56" width="50.33" height="2.79" fill="#fff6b2"/><rect x="509.57" y="1724.56" width="50.33" height="2.79" fill="#fffcba"/><rect x="559.6" y="1724.56" width="50.33" height="2.79" fill="#fff8b5"/><rect x="609.63" y="1724.56" width="50.33" height="2.79" fill="#fff9b5"/><rect x="659.67" y="1724.56" width="50.33" height="2.79" fill="#fedb8b"/><rect x="709.7" y="1724.56" width="50.33" height="2.79" fill="#4575b4"/><rect x="759.73" y="1724.56" width="50.33" height="2.79" fill="#5083bb"/><rect x="809.77" y="1724.56" width="50.33" height="2.79" fill="#97c9e0"/><rect x="409.5" y="1727.04" width="50.33" height="2.79" fill="#feda8a"/><rect x="459.53" y="1727.04" width="50.33" height="2.79" fill="#fff0a8"/><rect x="509.57" y="1727.04" width="50.33" height="2.79" fill="#feefa7"/><rect x="559.6" y="1727.04" width="50.33" height="2.79" fill="#fffebe"/><rect x="609.63" y="1727.04" width="50.33" height="2.79" fill="#fff3ac"/><rect x="659.67" y="1727.04" width="50.33" height="2.79" fill="#d5edf5"/><rect x="709.7" y="1727.04" width="50.33" height="2.79" fill="#70a8ce"/><rect x="759.73" y="1727.04" width="50.33" height="2.79" fill="#4777b5"/><rect x="809.77" y="1727.04" width="50.33" height="2.79" fill="#4777b5"/><rect x="409.5" y="1729.53" width="50.33" height="2.79" fill="#fff8b4"/><rect x="459.53" y="1729.53" width="50.33" height="2.79" fill="#feeca3"/><rect x="509.57" y="1729.53" width="50.33" height="2.79" fill="#feefa7"/><rect x="559.6" y="1729.53" width="50.33" height="2.79" fill="#fff7b2"/><rect x="609.63" y="1729.53" width="50.33" height="2.79" fill="#fee191"/><rect x="659.67" y="1729.53" width="50.33" height="2.79" fill="#d0ebf3"/><rect x="709.7" y="1729.53" width="50.33" height="2.79" fill="#6ea6cd"/><rect x="759.73" y="1729.53" width="50.33" height="2.79" fill="#5386bd"/><rect x="809.77" y="1729.53" width="50.33" height="2.79" fill="#5588be"/><rect x="409.5" y="1732.01" width="50.33" height="2.79" fill="#fff9b5"/><rect x="459.53" y="1732.01" width="50.33" height="2.79" fill="#feeda4"/><rect x="509.57" y="1732.01" width="50.33" height="2.79" fill="#feeca2"/><rect x="559.6" y="1732.01" width="50.33" height="2.79" fill="#fdfec3"/><rect x="609.63" y="1732.01" width="50.33" height="2.79" fill="#ffffbf"/><rect x="659.67" y="1732.01" width="50.33" height="2.79" fill="#dcf1f7"/><rect x="709.7" y="1732.01" width="50.33" height="2.79" fill="#8dc1dc"/><rect x="759.73" y="1732.01" width="50.33" height="2.79" fill="#4575b4"/><rect x="809.77" y="1732.01" width="50.33" height="2.79" fill="#4575b4"/></g>
<rect x="861.3" y="1140" width="3.8" height="601" fill="#f5f0f0"/>
<rect x="865.1" y="1140" width="6.6" height="602" fill="#e6e6e6"/>
<path d="M865.3 1142L871.5 1140 M865.3 1144.49L871.5 1142.49 M865.3 1146.98L871.5 1144.98 M865.3 1149.47L871.5 1147.47 M865.3 1151.96L871.5 1149.96 M865.3 1154.45L871.5 1152.45 M865.3 1156.94L871.5 1154.94 M865.3 1159.43L871.5 1157.43 M865.3 1161.92L871.5 1159.92 M865.3 1164.41L871.5 1162.41 M865.3 1166.9L871.5 1164.9 M865.3 1169.39L871.5 1167.39 M865.3 1171.88L871.5 1169.88 M865.3 1174.37L871.5 1172.37 M865.3 1176.86L871.5 1174.86 M865.3 1179.35L871.5 1177.35 M865.3 1181.84L871.5 1179.84 M865.3 1184.33L871.5 1182.33 M865.3 1186.82L871.5 1184.82 M865.3 1189.31L871.5 1187.31 M865.3 1191.8L871.5 1189.8 M865.3 1194.29L871.5 1192.29 M865.3 1196.78L871.5 1194.78 M865.3 1199.27L871.5 1197.27 M865.3 1201.76L871.5 1199.76 M865.3 1204.25L871.5 1202.25 M865.3 1206.74L871.5 1204.74 M865.3 1209.23L871.5 1207.23 M865.3 1211.72L871.5 1209.72 M865.3 1214.21L871.5 1212.21 M865.3 1216.7L871.5 1214.7 M865.3 1219.19L871.5 1217.19 M865.3 1221.68L871.5 1219.68 M865.3 1224.17L871.5 1222.17 M865.3 1226.66L871.5 1224.66 M865.3 1229.15L871.5 1227.15 M865.3 1231.64L871.5 1229.64 M865.3 1234.13L871.5 1232.13 M865.3 1236.62L871.5 1234.62 M865.3 1239.11L871.5 1237.11 M865.3 1241.6L871.5 1239.6 M865.3 1244.09L871.5 1242.09 M865.3 1246.58L871.5 1244.58 M865.3 1249.07L871.5 1247.07 M865.3 1251.56L871.5 1249.56 M865.3 1254.05L871.5 1252.05 M865.3 1256.54L871.5 1254.54 M865.3 1259.03L871.5 1257.03 M865.3 1261.52L871.5 1259.52 M865.3 1264.01L871.5 1262.01 M865.3 1266.5L871.5 1264.5 M865.3 1268.99L871.5 1266.99 M865.3 1271.48L871.5 1269.48 M865.3 1273.97L871.5 1271.97 M865.3 1276.46L871.5 1274.46 M865.3 1278.95L871.5 1276.95 M865.3 1281.44L871.5 1279.44 M865.3 1283.93L871.5 1281.93 M865.3 1286.42L871.5 1284.42 M865.3 1288.91L871.5 1286.91 M865.3 1291.4L871.5 1289.4 M865.3 1293.89L871.5 1291.89 M865.3 1296.38L871.5 1294.38 M865.3 1298.87L871.5 1296.87 M865.3 1301.36L871.5 1299.36 M865.3 1303.85L871.5 1301.85 M865.3 1306.34L871.5 1304.34 M865.3 1308.83L871.5 1306.83 M865.3 1311.32L871.5 1309.32 M865.3 1313.81L871.5 1311.81 M865.3 1316.3L871.5 1314.3 M865.3 1318.79L871.5 1316.79 M865.3 1321.28L871.5 1319.28 M865.3 1323.77L871.5 1321.77 M865.3 1326.26L871.5 1324.26 M865.3 1328.75L871.5 1326.75 M865.3 1331.24L871.5 1329.24 M865.3 1333.73L871.5 1331.73 M865.3 1336.22L871.5 1334.22 M865.3 1338.71L871.5 1336.71 M865.3 1341.2L871.5 1339.2 M865.3 1343.69L871.5 1341.69 M865.3 1346.18L871.5 1344.18 M865.3 1348.67L871.5 1346.67 M865.3 1351.16L871.5 1349.16 M865.3 1353.65L871.5 1351.65 M865.3 1356.14L871.5 1354.14 M865.3 1358.63L871.5 1356.63 M865.3 1361.12L871.5 1359.12 M865.3 1363.61L871.5 1361.61 M865.3 1366.1L871.5 1364.1 M865.3 1368.59L871.5 1366.59 M865.3 1371.08L871.5 1369.08 M865.3 1373.57L871.5 1371.57 M865.3 1376.06L871.5 1374.06 M865.3 1378.55L871.5 1376.55 M865.3 1381.04L871.5 1379.04 M865.3 1383.53L871.5 1381.53 M865.3 1386.02L871.5 1384.02 M865.3 1388.51L871.5 1386.51 M865.3 1391L871.5 1389 M865.3 1393.49L871.5 1391.49 M865.3 1395.98L871.5 1393.98 M865.3 1398.47L871.5 1396.47 M865.3 1400.96L871.5 1398.96 M865.3 1403.45L871.5 1401.45 M865.3 1405.94L871.5 1403.94 M865.3 1408.43L871.5 1406.43 M865.3 1410.92L871.5 1408.92 M865.3 1413.41L871.5 1411.41 M865.3 1415.9L871.5 1413.9 M865.3 1418.39L871.5 1416.39 M865.3 1420.88L871.5 1418.88 M865.3 1423.37L871.5 1421.37 M865.3 1425.86L871.5 1423.86 M865.3 1428.35L871.5 1426.35 M865.3 1430.84L871.5 1428.84 M865.3 1433.33L871.5 1431.33 M865.3 1435.82L871.5 1433.82 M865.3 1438.31L871.5 1436.31 M865.3 1440.8L871.5 1438.8 M865.3 1443.29L871.5 1441.29 M865.3 1445.78L871.5 1443.78 M865.3 1448.27L871.5 1446.27 M865.3 1450.76L871.5 1448.76 M865.3 1453.25L871.5 1451.25 M865.3 1455.74L871.5 1453.74 M865.3 1458.23L871.5 1456.23 M865.3 1460.72L871.5 1458.72 M865.3 1463.21L871.5 1461.21 M865.3 1465.7L871.5 1463.7 M865.3 1468.19L871.5 1466.19 M865.3 1470.68L871.5 1468.68 M865.3 1473.17L871.5 1471.17 M865.3 1475.66L871.5 1473.66 M865.3 1478.15L871.5 1476.15 M865.3 1480.64L871.5 1478.64 M865.3 1483.13L871.5 1481.13 M865.3 1485.62L871.5 1483.62 M865.3 1488.11L871.5 1486.11 M865.3 1490.6L871.5 1488.6 M865.3 1493.09L871.5 1491.09 M865.3 1495.58L871.5 1493.58 M865.3 1498.07L871.5 1496.07 M865.3 1500.56L871.5 1498.56 M865.3 1503.05L871.5 1501.05 M865.3 1505.54L871.5 1503.54 M865.3 1508.03L871.5 1506.03 M865.3 1510.52L871.5 1508.52 M865.3 1513.01L871.5 1511.01 M865.3 1515.5L871.5 1513.5 M865.3 1517.99L871.5 1515.99 M865.3 1520.48L871.5 1518.48 M865.3 1522.97L871.5 1520.97 M865.3 1525.46L871.5 1523.46 M865.3 1527.95L871.5 1525.95 M865.3 1530.44L871.5 1528.44 M865.3 1532.93L871.5 1530.93 M865.3 1535.42L871.5 1533.42 M865.3 1537.91L871.5 1535.91 M865.3 1540.4L871.5 1538.4 M865.3 1542.89L871.5 1540.89 M865.3 1545.38L871.5 1543.38 M865.3 1547.87L871.5 1545.87 M865.3 1550.36L871.5 1548.36 M865.3 1552.85L871.5 1550.85 M865.3 1555.34L871.5 1553.34 M865.3 1557.83L871.5 1555.83 M865.3 1560.32L871.5 1558.32 M865.3 1562.81L871.5 1560.81 M865.3 1565.3L871.5 1563.3 M865.3 1567.79L871.5 1565.79 M865.3 1570.28L871.5 1568.28 M865.3 1572.77L871.5 1570.77 M865.3 1575.26L871.5 1573.26 M865.3 1577.75L871.5 1575.75 M865.3 1580.24L871.5 1578.24 M865.3 1582.73L871.5 1580.73 M865.3 1585.22L871.5 1583.22 M865.3 1587.71L871.5 1585.71 M865.3 1590.2L871.5 1588.2 M865.3 1592.69L871.5 1590.69 M865.3 1595.18L871.5 1593.18 M865.3 1597.67L871.5 1595.67 M865.3 1600.16L871.5 1598.16 M865.3 1602.65L871.5 1600.65 M865.3 1605.14L871.5 1603.14 M865.3 1607.63L871.5 1605.63 M865.3 1610.12L871.5 1608.12 M865.3 1612.61L871.5 1610.61 M865.3 1615.1L871.5 1613.1 M865.3 1617.59L871.5 1615.59 M865.3 1620.08L871.5 1618.08 M865.3 1622.57L871.5 1620.57 M865.3 1625.06L871.5 1623.06 M865.3 1627.55L871.5 1625.55 M865.3 1630.04L871.5 1628.04 M865.3 1632.53L871.5 1630.53 M865.3 1635.02L871.5 1633.02 M865.3 1637.51L871.5 1635.51 M865.3 1640L871.5 1638 M865.3 1642.49L871.5 1640.49 M865.3 1644.98L871.5 1642.98 M865.3 1647.47L871.5 1645.47 M865.3 1649.96L871.5 1647.96 M865.3 1652.45L871.5 1650.45 M865.3 1654.94L871.5 1652.94 M865.3 1657.43L871.5 1655.43 M865.3 1659.92L871.5 1657.92 M865.3 1662.41L871.5 1660.41 M865.3 1664.9L871.5 1662.9 M865.3 1667.39L871.5 1665.39 M865.3 1669.88L871.5 1667.88 M865.3 1672.37L871.5 1670.37 M865.3 1674.86L871.5 1672.86 M865.3 1677.35L871.5 1675.35 M865.3 1679.84L871.5 1677.84 M865.3 1682.33L871.5 1680.33 M865.3 1684.82L871.5 1682.82 M865.3 1687.31L871.5 1685.31 M865.3 1689.8L871.5 1687.8 M865.3 1692.29L871.5 1690.29 M865.3 1694.78L871.5 1692.78 M865.3 1697.27L871.5 1695.27 M865.3 1699.76L871.5 1697.76 M865.3 1702.25L871.5 1700.25 M865.3 1704.74L871.5 1702.74 M865.3 1707.23L871.5 1705.23 M865.3 1709.72L871.5 1707.72 M865.3 1712.21L871.5 1710.21 M865.3 1714.7L871.5 1712.7 M865.3 1717.19L871.5 1715.19 M865.3 1719.68L871.5 1717.68 M865.3 1722.17L871.5 1720.17 M865.3 1724.66L871.5 1722.66 M865.3 1727.15L871.5 1725.15 M865.3 1729.64L871.5 1727.64 M865.3 1732.13L871.5 1730.13 M865.3 1734.62L871.5 1732.62 M865.3 1737.11L871.5 1735.11 M865.3 1739.6L871.5 1737.6 M865.3 1742.09L871.5 1740.09" stroke="#c6c6c6" stroke-width="0.8" fill="none"/>
<path d="M497.2 1113.7V1037.2H710.2V1066 M460.4 1122V1113.7H535.2V1138 M434.8 1138V1122H484.8V1138 M647.6 1103V1066H773.1V1114.3 M610.4 1110V1103H685.5V1138 M584.8 1138V1110H635.2V1138 M735 1138V1114.3H810V1117.9 M784.9 1138V1117.9H834.8V1138" stroke="#3a3a3a" stroke-width="1.4" fill="none"/>
<text x="634.5" y="1027.4" font-size="15.3" fill="#1e1e1e" stroke="#1e1e1e" stroke-width="0.3" text-anchor="middle">Samples</text>
<path d="M408.5 1141.73H399.19V1144.21H408.5 M408.5 1139.24H395.75V1142.97H399.19 M408.5 1146.7H397.99V1149.18H408.5 M408.5 1151.67H396.83V1154.16H408.5 M397.99 1147.94H396.77V1152.91H396.83 M395.75 1141.11H387.17V1150.43H396.77 M408.5 1159.13H401.35V1161.61H408.5 M408.5 1156.64H396.69V1160.37H401.35 M408.5 1164.1H400.08V1166.58H408.5 M400.08 1165.34H395.18V1169.07H408.5 M408.5 1171.55H397.03V1174.04H408.5 M395.18 1167.2H391.35V1172.8H397.03 M396.69 1158.5H386.91V1170H391.35 M387.17 1145.77H378.6V1164.25H386.91 M408.5 1176.52H386.2V1179.01H408.5 M378.6 1155.01H371V1177.77H386.2 M408.5 1181.49H399.15V1183.98H408.5 M408.5 1186.47H397.16V1188.95H408.5 M399.15 1182.74H395.84V1187.71H397.16 M408.5 1193.92H398.47V1196.41H408.5 M408.5 1191.44H393.45V1195.16H398.47 M408.5 1198.89H399.33V1201.38H408.5 M399.33 1200.14H398.64V1203.86H408.5 M393.45 1193.3H391.82V1202H398.64 M395.84 1185.22H371.5V1197.65H391.82 M371 1166.39H358V1191.44H371.5 M408.5 1206.35H399.38V1208.83H408.5 M408.5 1211.32H399.4V1213.81H408.5 M399.38 1207.59H396.03V1212.56H399.4 M408.5 1216.29H399.42V1218.78H408.5 M399.42 1217.53H396.33V1221.26H408.5 M408.5 1223.75H399.94V1226.23H408.5 M408.5 1228.72H399.81V1231.2H408.5 M399.94 1224.99H393.52V1229.96H399.81 M396.33 1219.4H392.63V1227.48H393.52 M396.03 1210.08H377.6V1223.44H392.63 M358 1178.91H348.2V1216.76H377.6 M408.5 1236.17H398.74V1238.66H408.5 M408.5 1233.69H397.22V1237.42H398.74 M408.5 1241.14H398.49V1243.63H408.5 M397.22 1235.55H395.9V1242.39H398.49 M408.5 1246.12H398.52V1248.6H408.5 M408.5 1251.09H397.91V1253.57H408.5 M398.52 1247.36H395.89V1252.33H397.91 M408.5 1256.06H400.01V1258.54H408.5 M400.01 1257.3H399.14V1261.03H408.5 M395.89 1249.84H391.28V1259.16H399.14 M395.9 1238.97H376.1V1254.5H391.28 M408.5 1266H399.56V1268.48H408.5 M408.5 1263.51H395.84V1267.24H399.56 M408.5 1270.97H399.44V1273.46H408.5 M399.44 1272.21H394.93V1275.94H408.5 M395.84 1265.38H381.2V1274.08H394.93 M376.1 1246.74H362.4V1269.73H381.2 M348.2 1197.83H324.3V1258.23H362.4 M408.5 1278.43H400.42V1280.91H408.5 M408.5 1283.4H401.08V1285.88H408.5 M408.5 1288.37H397.46V1290.85H408.5 M401.08 1284.64H396.05V1289.61H397.46 M400.42 1279.67H385V1287.12H396.05 M408.5 1295.82H399.03V1298.31H408.5 M408.5 1293.34H398.41V1297.07H399.03 M408.5 1300.79H400.91V1303.28H408.5 M398.41 1295.2H387.73V1302.04H400.91 M408.5 1305.77H398.02V1308.25H408.5 M408.5 1310.74H398.98V1313.22H408.5 M398.98 1311.98H395.86V1315.71H408.5 M398.02 1307.01H388.28V1313.84H395.86 M408.5 1318.19H398V1320.68H408.5 M408.5 1323.16H398.89V1325.65H408.5 M398 1319.44H392.67V1324.41H398.89 M388.28 1310.43H381.43V1321.92H392.67 M389.23 1298.62H388.43V1316.17H389.23 M408.5 1330.62H398.78V1333.11H408.5 M408.5 1328.13H395.43V1331.86H398.78 M408.5 1335.59H399.84V1338.08H408.5 M408.5 1340.56H398.91V1343.05H408.5 M398.91 1341.8H397.03V1345.53H408.5 M399.84 1336.83H388.54V1343.67H397.03 M395.43 1330H391.43V1340.25H392.23 M408.5 1348.02H397.57V1350.5H408.5 M408.5 1355.47H400.8V1357.96H408.5 M408.5 1352.99H396.46V1356.72H400.8 M397.57 1349.26H390.77V1354.85H396.46 M391.43 1335.12H382.3V1352.06H390.77 M388.43 1307.4H377.3V1343.59H382.3 M385 1283.4H374.6V1325.49H377.3 M408.5 1362.93H400.68V1365.42H408.5 M408.5 1360.44H397.94V1364.17H400.68 M408.5 1367.9H397.86V1370.39H408.5 M408.5 1372.87H400.42V1375.36H408.5 M397.86 1369.14H393.89V1374.11H400.42 M397.94 1362.31H385.6V1371.63H393.89 M408.5 1377.84H399.41V1380.33H408.5 M408.5 1382.81H401.14V1385.3H408.5 M401.14 1384.06H397.18V1387.78H408.5 M399.41 1379.09H389.67V1385.92H397.18 M385.6 1366.97H380.8V1382.5H389.67 M374.6 1304.45H365.2V1374.74H380.8 M408.5 1392.76H401.29V1395.24H408.5 M408.5 1390.27H397.72V1394H401.29 M408.5 1400.21H398.74V1402.7H408.5 M408.5 1397.73H398.24V1401.45H398.74 M397.72 1392.13H386.2V1399.59H398.24 M408.5 1405.18H399.43V1407.67H408.5 M399.43 1406.43H394.49V1410.15H408.5 M408.5 1412.64H398.22V1415.12H408.5 M394.49 1408.29H389.63V1413.88H398.22 M386.2 1395.86H385.1V1411.09H389.63 M408.5 1417.61H398.55V1420.09H408.5 M398.55 1418.85H397.2V1422.58H408.5 M408.5 1425.07H398.77V1427.55H408.5 M398.77 1426.31H392.74V1430.04H408.5 M397.2 1420.72H385.93V1428.17H392.74 M408.5 1432.52H401.1V1435.01H408.5 M408.5 1437.49H398.55V1439.98H408.5 M401.1 1433.76H389.83V1438.74H398.55 M385.93 1424.44H383.95V1436.25H389.83 M385.1 1403.47H375.6V1430.35H383.95 M408.5 1442.46H400.71V1444.95H408.5 M408.5 1447.43H398.62V1449.92H408.5 M408.5 1452.41H400.43V1454.89H408.5 M398.62 1448.68H390.67V1453.65H400.43 M400.71 1443.71H390.91V1451.16H391.71 M408.5 1457.38H399.22V1459.86H408.5 M408.5 1462.35H399.83V1464.83H408.5 M399.22 1458.62H390.9V1463.59H399.83 M408.5 1467.32H399.35V1469.8H408.5 M408.5 1472.29H400.24V1474.77H408.5 M399.35 1468.56H393.16V1473.53H400.24 M390.9 1461.1H384.73V1471.05H393.16 M390.91 1447.43H387.94V1466.08H388.74 M408.5 1477.26H399.52V1479.74H408.5 M408.5 1482.23H400.95V1484.72H408.5 M408.5 1487.2H398.1V1489.69H408.5 M400.95 1483.47H390.91V1488.44H398.1 M399.52 1478.5H389.66V1485.96H390.91 M408.5 1494.66H401.13V1497.14H408.5 M408.5 1492.17H397.51V1495.9H401.13 M408.5 1499.63H400.41V1502.11H408.5 M397.51 1494.04H393.86V1500.87H400.41 M389.66 1482.23H385.33V1497.45H393.86 M387.94 1456.75H377.6V1489.84H385.33 M408.5 1504.6H399.96V1507.08H408.5 M399.96 1505.84H397.99V1509.57H408.5 M408.5 1512.06H400.06V1514.54H408.5 M397.99 1507.71H390.38V1513.3H400.06 M408.5 1517.03H399.96V1519.51H408.5 M408.5 1522H398.42V1524.48H408.5 M399.96 1518.27H390.74V1523.24H398.42 M408.5 1526.97H398.83V1529.45H408.5 M398.83 1528.21H394.14V1531.94H408.5 M390.74 1520.75H387.03V1530.07H394.14 M390.38 1510.5H379.1V1525.41H387.03 M377.6 1473.3H375.1V1517.96H379.1 M375.6 1416.91H369V1495.63H375.1 M365.2 1339.59H354.5V1456.27H369 M408.5 1531.94H392V1534.42H408.5 M408.5 1536.91H399.79V1539.39H408.5 M408.5 1541.88H398.01V1544.37H408.5 M399.79 1538.15H392.15V1543.12H398.01 M408.5 1549.34H401.81V1551.82H408.5 M408.5 1546.85H395.58V1550.58H401.81 M408.5 1554.31H399.27V1556.79H408.5 M395.58 1548.72H394.72V1555.55H399.27 M392.15 1540.64H390.34V1552.13H394.72 M408.5 1559.28H399.09V1561.76H408.5 M399.94 1560.52H399.14V1564.25H408.5 M408.5 1566.73H399.58V1569.22H408.5 M399.14 1562.38H387.73V1567.98H399.58 M408.5 1574.19H398.82V1576.68H408.5 M408.5 1571.71H394.66V1575.43H398.82 M408.5 1581.65H397.48V1584.13H408.5 M408.5 1579.16H397.84V1582.89H398.64 M394.66 1573.57H390V1581.03H397.84 M390.5 1565.18H389.7V1577.3H390 M390.34 1546.39H386V1571.24H389.7 M392 1533.18H380.1V1558.81H386 M408.5 1586.62H399.53V1589.1H408.5 M399.53 1587.86H394.98V1591.59H408.5 M408.5 1596.56H397.31V1599.04H408.5 M408.5 1594.07H393.77V1597.8H397.31 M394.98 1589.72H388.95V1595.94H393.77 M408.5 1601.53H399.55V1604.02H408.5 M408.5 1606.5H400.58V1608.99H408.5 M399.55 1602.77H391.03V1607.74H400.58 M388.95 1592.83H381.2V1605.26H391.03 M380.1 1546H364.4V1599.04H381.2 M354.5 1397.93H328.4V1572.52H364.4 M408.5 1611.47H399.22V1613.96H408.5 M399.22 1612.71H395.8V1616.44H408.5 M408.5 1621.41H397.42V1623.9H408.5 M408.5 1618.93H395.51V1622.66H397.42 M395.8 1614.58H385V1620.79H395.51 M408.5 1626.38H401.7V1628.87H408.5 M408.5 1631.36H401.42V1633.84H408.5 M401.7 1627.63H392.25V1632.6H401.42 M408.5 1636.33H398.25V1638.81H408.5 M408.5 1641.3H399.23V1643.78H408.5 M398.25 1637.57H393.1V1642.54H399.23 M392.25 1630.11H383.27V1640.05H393.1 M408.5 1646.27H399.28V1648.75H408.5 M408.5 1651.24H398.05V1653.72H408.5 M399.28 1647.51H395.96V1652.48H398.05 M408.5 1658.69H398.81V1661.18H408.5 M408.5 1656.21H395.68V1659.94H398.81 M395.96 1650H386.93V1658.07H395.68 M383.27 1635.08H376V1654.03H386.93 M385 1617.69H373.6V1644.56H376 M408.5 1663.67H400.12V1666.15H408.5 M400.12 1664.91H395.8V1668.64H408.5 M408.5 1671.12H400.2V1673.61H408.5 M396.82 1666.77H396.02V1672.36H400.2 M408.5 1676.09H398.64V1678.58H408.5 M398.64 1677.34H394.96V1681.06H408.5 M408.5 1683.55H400.24V1686.03H408.5 M408.5 1688.52H400.14V1691.01H408.5 M400.24 1684.79H393.5V1689.76H400.14 M394.96 1679.2H387.9V1687.28H393.5 M396.02 1669.57H387.53V1683.24H387.9 M408.5 1693.49H398.38V1695.98H408.5 M408.5 1698.46H399.17V1700.95H408.5 M398.38 1694.73H393.05V1699.7H399.17 M408.5 1703.43H399.07V1705.92H408.5 M399.07 1704.67H397.23V1708.4H408.5 M408.5 1713.37H396.94V1715.86H408.5 M408.5 1710.89H395.16V1714.62H396.94 M397.23 1706.54H385.76V1712.75H395.16 M393.05 1697.22H383.62V1709.65H385.76 M387.53 1676.4H375.1V1703.43H383.62 M408.5 1720.83H399.84V1723.32H408.5 M408.5 1718.34H398.92V1722.07H399.84 M408.5 1725.8H399.04V1728.29H408.5 M408.5 1730.77H400.14V1733.26H408.5 M399.04 1727.04H397.36V1732.01H400.14 M398.92 1720.21H378.6V1729.53H397.36 M375.1 1689.92H367.5V1724.87H378.6 M373.6 1631.12H358V1707.39H367.5 M328.4 1485.23H319.3V1669.26H358 M324.3 1228.03H307.9V1577.24H319.3" stroke="#404040" stroke-width="1.25" fill="none"/>
<text transform="translate(298.9,1437.1) rotate(-90)" font-size="15.6" fill="#1e1e1e" stroke="#1e1e1e" stroke-width="0.3" text-anchor="middle">Proteins</text>
<defs><linearGradient id="kg" x1="0" y1="0" x2="0" y2="1"><stop offset="0.0000" stop-color="#d73027"/><stop offset="0.1400" stop-color="#f46d43"/><stop offset="0.2617" stop-color="#fdae61"/><stop offset="0.3834" stop-color="#fee090"/><stop offset="0.5050" stop-color="#ffffbf"/><stop offset="0.6267" stop-color="#e0f3f8"/><stop offset="0.7484" stop-color="#abd9e9"/><stop offset="0.8701" stop-color="#74add1"/><stop offset="0.9918" stop-color="#4575b4"/><stop offset="1.0000" stop-color="#4575b4"/></linearGradient></defs>
<rect x="952" y="1303.8" width="14" height="267.70000000000005" fill="url(#kg)"/>
<path d="M952.3 1308.0H955.8M962.2 1308.0H965.7 M952.3 1372.8H955.8M962.2 1372.8H965.7 M952.3 1439.0H955.8M962.2 1439.0H965.7 M952.3 1503.5H955.8M962.2 1503.5H965.7 M952.3 1568.6H955.8M962.2 1568.6H965.7" stroke="#ffffff" stroke-width="1" stroke-opacity="0.8" fill="none"/>
<text x="968.8" y="1312.3" font-size="12" font-style="italic" fill="#333">2</text>
<text x="968.8" y="1377.1" font-size="12" font-style="italic" fill="#333">1</text>
<text x="968.8" y="1443.3" font-size="12" font-style="italic" fill="#333">0</text>
<text x="968.8" y="1507.8" font-size="12" font-style="italic" fill="#333">-1</text>
<text x="968.8" y="1572.9" font-size="12" font-style="italic" fill="#333">-2</text>
<text transform="translate(946.8,1438.3) rotate(-90)" font-size="14.3" fill="#222" stroke="#222" stroke-width="0.25" text-anchor="middle">Z-Score Abundance Values</text>
<rect x="410.1" y="1740" width="450.8" height="66.7" fill="#fff" stroke="#333" stroke-width="1.4"/>
<path d="M405.5 1746H410 M405.5 1773.8H410 M405.5 1801.8H410" stroke="#333" stroke-width="1.2" fill="none"/>
<text x="403.5" y="1750" font-size="11" fill="#333" text-anchor="end">2</text>
<text x="403.5" y="1777.8" font-size="11" fill="#333" text-anchor="end">0</text>
<text x="403.5" y="1805.8" font-size="11" fill="#333" text-anchor="end">-2</text>
<path d="M435.1 1742.5V1753.5M435.1 1772.6V1799.7M412.5 1742.5H457.7M412.5 1799.7H457.7" stroke="#333" stroke-width="1.3" fill="none"/><rect x="412.5" y="1753.5" width="45.2" height="19.1" fill="#d3d3d3" stroke="#333" stroke-width="1.3"/><path d="M412.5 1759.4H457.7" stroke="#222" stroke-width="1.6"/><path d="M485.15 1748.8V1754.3M485.15 1773.6V1801.4M462.4 1748.8H507.9M462.4 1801.4H507.9" stroke="#333" stroke-width="1.3" fill="none"/><rect x="462.4" y="1754.3" width="45.5" height="19.3" fill="#d3d3d3" stroke="#333" stroke-width="1.3"/><path d="M462.4 1760.1H507.9" stroke="#222" stroke-width="1.6"/><path d="M534.85 1747.7V1755.9M534.85 1773.6V1799M512.4 1747.7H557.3M512.4 1799H557.3" stroke="#333" stroke-width="1.3" fill="none"/><rect x="512.4" y="1755.9" width="44.9" height="17.7" fill="#d3d3d3" stroke="#333" stroke-width="1.3"/><path d="M512.4 1761.8H557.3" stroke="#222" stroke-width="1.6"/><path d="M585.1 1743.4V1765.8M585.1 1781.8V1800.7M562.5 1743.4H607.7M562.5 1800.7H607.7" stroke="#333" stroke-width="1.3" fill="none"/><rect x="562.5" y="1765.8" width="45.2" height="16" fill="#d3d3d3" stroke="#333" stroke-width="1.3"/><path d="M562.5 1773.6H607.7" stroke="#222" stroke-width="1.6"/><path d="M635.45 1753.7V1769.4M635.45 1779.3V1794M613 1753.7H657.9M613 1794H657.9" stroke="#333" stroke-width="1.3" fill="none"/><rect x="613" y="1769.4" width="44.9" height="9.9" fill="#d3d3d3" stroke="#333" stroke-width="1.3"/><path d="M613 1774.7H657.9" stroke="#222" stroke-width="1.6"/><path d="M685.15 1744.2V1770M685.15 1787.3V1803.9M662.5 1744.2H707.8M662.5 1803.9H707.8" stroke="#333" stroke-width="1.3" fill="none"/><rect x="662.5" y="1770" width="45.3" height="17.3" fill="#d3d3d3" stroke="#333" stroke-width="1.3"/><path d="M662.5 1777.7H707.8" stroke="#222" stroke-width="1.6"/><path d="M735.35 1758.3V1773.1M735.35 1785.4V1801.8M713 1758.3H757.7M713 1801.8H757.7" stroke="#333" stroke-width="1.3" fill="none"/><rect x="713" y="1773.1" width="44.7" height="12.3" fill="#d3d3d3" stroke="#333" stroke-width="1.3"/><path d="M713 1773.6H757.7" stroke="#222" stroke-width="1.6"/><path d="M784.95 1760.8V1774M784.95 1783.9V1799.3M762.6 1760.8H807.3M762.6 1799.3H807.3" stroke="#333" stroke-width="1.3" fill="none"/><rect x="762.6" y="1774" width="44.7" height="9.9" fill="#d3d3d3" stroke="#333" stroke-width="1.3"/><path d="M762.6 1774.4H807.3" stroke="#222" stroke-width="1.6"/><path d="M835 1762.3V1773.7M835 1787.6V1803.9M812.5 1762.3H857.5M812.5 1803.9H857.5" stroke="#333" stroke-width="1.3" fill="none"/><rect x="812.5" y="1773.7" width="45" height="13.9" fill="#d3d3d3" stroke="#333" stroke-width="1.3"/><path d="M812.5 1777.7H857.5" stroke="#222" stroke-width="1.6"/>
<text transform="translate(863.6,1779.6) scale(1,1.07)" font-size="14" fill="#222" stroke="#222" stroke-width="0.25">BOXPLOT</text>
<text transform="translate(432.5,1817.0) scale(1,0.9) rotate(45)" font-size="12.0" fill="#3d3d55">SAMPLE_60H_2</text>
<text transform="translate(482.53,1817.0) scale(1,0.9) rotate(45)" font-size="12.0" fill="#3d3d55">SAMPLE_60H_3</text>
<text transform="translate(532.56,1817.0) scale(1,0.9) rotate(45)" font-size="12.0" fill="#3d3d55">SAMPLE_60H_1</text>
<text transform="translate(582.59,1817.0) scale(1,0.9) rotate(45)" font-size="12.0" fill="#3d3d55">SAMPLE_12H_3</text>
<text transform="translate(632.62,1817.0) scale(1,0.9) rotate(45)" font-size="12.0" fill="#3d3d55">SAMPLE_12H_2</text>
<text transform="translate(682.65,1817.0) scale(1,0.9) rotate(45)" font-size="12.0" fill="#3d3d55">SAMPLE_12H_1</text>
<text transform="translate(732.68,1817.0) scale(1,0.9) rotate(45)" font-size="12.0" fill="#ee2d3d">CONTROL_2</text>
<text transform="translate(782.71,1817.0) scale(1,0.9) rotate(45)" font-size="12.0" fill="#ee2d3d">CONTROL_3</text>
<text transform="translate(832.74,1817.0) scale(1,0.9) rotate(45)" font-size="12.0" fill="#ee2d3d">CONTROL_1</text>
</svg>
</body></html>
